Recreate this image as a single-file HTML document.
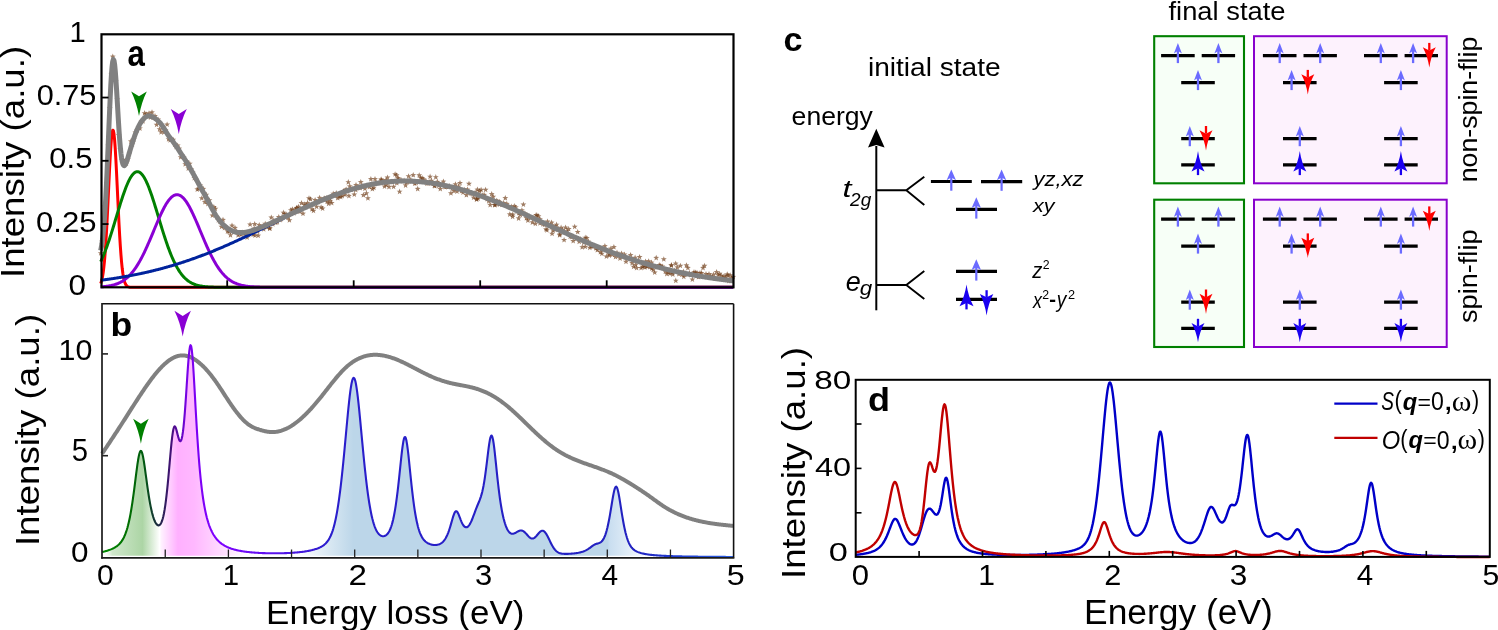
<!DOCTYPE html>
<html><head><meta charset="utf-8"><style>
html,body{margin:0;padding:0;background:#fff;}
svg{display:block;will-change:transform;}
text{font-family:"Liberation Sans",sans-serif;}
</style></head><body>
<svg width="1498" height="630" viewBox="0 0 1498 630">
<rect width="1498" height="630" fill="#fff"/>
<g id="pa">
<g fill="#6e3a14" fill-opacity="0.66">
<path d="M100.7,250.1l0.76,2.05l2.18,0.09l-1.71,1.36l0.59,2.11l-1.82,-1.21l-1.82,1.21l0.59,-2.11l-1.71,-1.36l2.18,-0.09z"/>
<path d="M102.2,237.8l0.76,2.05l2.18,0.09l-1.71,1.36l0.59,2.11l-1.82,-1.21l-1.82,1.21l0.59,-2.11l-1.71,-1.36l2.18,-0.09z"/>
<path d="M103.7,226.8l0.76,2.05l2.18,0.09l-1.71,1.36l0.59,2.11l-1.82,-1.21l-1.82,1.21l0.59,-2.11l-1.71,-1.36l2.18,-0.09z"/>
<path d="M105.2,203.6l0.76,2.05l2.18,0.09l-1.71,1.36l0.59,2.11l-1.82,-1.21l-1.82,1.21l0.59,-2.11l-1.71,-1.36l2.18,-0.09z"/>
<path d="M106.7,180.0l0.76,2.05l2.18,0.09l-1.71,1.36l0.59,2.11l-1.82,-1.21l-1.82,1.21l0.59,-2.11l-1.71,-1.36l2.18,-0.09z"/>
<path d="M108.2,142.6l0.76,2.05l2.18,0.09l-1.71,1.36l0.59,2.11l-1.82,-1.21l-1.82,1.21l0.59,-2.11l-1.71,-1.36l2.18,-0.09z"/>
<path d="M109.8,104.9l0.76,2.05l2.18,0.09l-1.71,1.36l0.59,2.11l-1.82,-1.21l-1.82,1.21l0.59,-2.11l-1.71,-1.36l2.18,-0.09z"/>
<path d="M111.3,70.8l0.76,2.05l2.18,0.09l-1.71,1.36l0.59,2.11l-1.82,-1.21l-1.82,1.21l0.59,-2.11l-1.71,-1.36l2.18,-0.09z"/>
<path d="M112.8,53.5l0.76,2.05l2.18,0.09l-1.71,1.36l0.59,2.11l-1.82,-1.21l-1.82,1.21l0.59,-2.11l-1.71,-1.36l2.18,-0.09z"/>
<path d="M114.3,64.6l0.76,2.05l2.18,0.09l-1.71,1.36l0.59,2.11l-1.82,-1.21l-1.82,1.21l0.59,-2.11l-1.71,-1.36l2.18,-0.09z"/>
<path d="M115.8,78.0l0.76,2.05l2.18,0.09l-1.71,1.36l0.59,2.11l-1.82,-1.21l-1.82,1.21l0.59,-2.11l-1.71,-1.36l2.18,-0.09z"/>
<path d="M117.3,96.4l0.76,2.05l2.18,0.09l-1.71,1.36l0.59,2.11l-1.82,-1.21l-1.82,1.21l0.59,-2.11l-1.71,-1.36l2.18,-0.09z"/>
<path d="M118.8,132.0l0.76,2.05l2.18,0.09l-1.71,1.36l0.59,2.11l-1.82,-1.21l-1.82,1.21l0.59,-2.11l-1.71,-1.36l2.18,-0.09z"/>
<path d="M120.3,146.0l0.76,2.05l2.18,0.09l-1.71,1.36l0.59,2.11l-1.82,-1.21l-1.82,1.21l0.59,-2.11l-1.71,-1.36l2.18,-0.09z"/>
<path d="M121.8,156.8l0.76,2.05l2.18,0.09l-1.71,1.36l0.59,2.11l-1.82,-1.21l-1.82,1.21l0.59,-2.11l-1.71,-1.36l2.18,-0.09z"/>
<path d="M123.3,156.8l0.76,2.05l2.18,0.09l-1.71,1.36l0.59,2.11l-1.82,-1.21l-1.82,1.21l0.59,-2.11l-1.71,-1.36l2.18,-0.09z"/>
<path d="M124.9,159.3l0.76,2.05l2.18,0.09l-1.71,1.36l0.59,2.11l-1.82,-1.21l-1.82,1.21l0.59,-2.11l-1.71,-1.36l2.18,-0.09z"/>
<path d="M126.4,160.5l0.76,2.05l2.18,0.09l-1.71,1.36l0.59,2.11l-1.82,-1.21l-1.82,1.21l0.59,-2.11l-1.71,-1.36l2.18,-0.09z"/>
<path d="M127.9,156.2l0.76,2.05l2.18,0.09l-1.71,1.36l0.59,2.11l-1.82,-1.21l-1.82,1.21l0.59,-2.11l-1.71,-1.36l2.18,-0.09z"/>
<path d="M129.4,150.6l0.76,2.05l2.18,0.09l-1.71,1.36l0.59,2.11l-1.82,-1.21l-1.82,1.21l0.59,-2.11l-1.71,-1.36l2.18,-0.09z"/>
<path d="M130.9,138.3l0.76,2.05l2.18,0.09l-1.71,1.36l0.59,2.11l-1.82,-1.21l-1.82,1.21l0.59,-2.11l-1.71,-1.36l2.18,-0.09z"/>
<path d="M132.4,141.3l0.76,2.05l2.18,0.09l-1.71,1.36l0.59,2.11l-1.82,-1.21l-1.82,1.21l0.59,-2.11l-1.71,-1.36l2.18,-0.09z"/>
<path d="M133.9,136.3l0.76,2.05l2.18,0.09l-1.71,1.36l0.59,2.11l-1.82,-1.21l-1.82,1.21l0.59,-2.11l-1.71,-1.36l2.18,-0.09z"/>
<path d="M135.4,129.4l0.76,2.05l2.18,0.09l-1.71,1.36l0.59,2.11l-1.82,-1.21l-1.82,1.21l0.59,-2.11l-1.71,-1.36l2.18,-0.09z"/>
<path d="M136.9,127.5l0.76,2.05l2.18,0.09l-1.71,1.36l0.59,2.11l-1.82,-1.21l-1.82,1.21l0.59,-2.11l-1.71,-1.36l2.18,-0.09z"/>
<path d="M138.4,124.5l0.76,2.05l2.18,0.09l-1.71,1.36l0.59,2.11l-1.82,-1.21l-1.82,1.21l0.59,-2.11l-1.71,-1.36l2.18,-0.09z"/>
<path d="M139.9,125.3l0.76,2.05l2.18,0.09l-1.71,1.36l0.59,2.11l-1.82,-1.21l-1.82,1.21l0.59,-2.11l-1.71,-1.36l2.18,-0.09z"/>
<path d="M141.5,118.4l0.76,2.05l2.18,0.09l-1.71,1.36l0.59,2.11l-1.82,-1.21l-1.82,1.21l0.59,-2.11l-1.71,-1.36l2.18,-0.09z"/>
<path d="M143.0,118.1l0.76,2.05l2.18,0.09l-1.71,1.36l0.59,2.11l-1.82,-1.21l-1.82,1.21l0.59,-2.11l-1.71,-1.36l2.18,-0.09z"/>
<path d="M144.5,110.1l0.76,2.05l2.18,0.09l-1.71,1.36l0.59,2.11l-1.82,-1.21l-1.82,1.21l0.59,-2.11l-1.71,-1.36l2.18,-0.09z"/>
<path d="M146.0,111.1l0.76,2.05l2.18,0.09l-1.71,1.36l0.59,2.11l-1.82,-1.21l-1.82,1.21l0.59,-2.11l-1.71,-1.36l2.18,-0.09z"/>
<path d="M147.5,113.2l0.76,2.05l2.18,0.09l-1.71,1.36l0.59,2.11l-1.82,-1.21l-1.82,1.21l0.59,-2.11l-1.71,-1.36l2.18,-0.09z"/>
<path d="M149.0,110.2l0.76,2.05l2.18,0.09l-1.71,1.36l0.59,2.11l-1.82,-1.21l-1.82,1.21l0.59,-2.11l-1.71,-1.36l2.18,-0.09z"/>
<path d="M150.5,114.4l0.76,2.05l2.18,0.09l-1.71,1.36l0.59,2.11l-1.82,-1.21l-1.82,1.21l0.59,-2.11l-1.71,-1.36l2.18,-0.09z"/>
<path d="M152.0,109.3l0.76,2.05l2.18,0.09l-1.71,1.36l0.59,2.11l-1.82,-1.21l-1.82,1.21l0.59,-2.11l-1.71,-1.36l2.18,-0.09z"/>
<path d="M153.5,114.3l0.76,2.05l2.18,0.09l-1.71,1.36l0.59,2.11l-1.82,-1.21l-1.82,1.21l0.59,-2.11l-1.71,-1.36l2.18,-0.09z"/>
<path d="M155.0,112.9l0.76,2.05l2.18,0.09l-1.71,1.36l0.59,2.11l-1.82,-1.21l-1.82,1.21l0.59,-2.11l-1.71,-1.36l2.18,-0.09z"/>
<path d="M156.6,121.7l0.76,2.05l2.18,0.09l-1.71,1.36l0.59,2.11l-1.82,-1.21l-1.82,1.21l0.59,-2.11l-1.71,-1.36l2.18,-0.09z"/>
<path d="M158.1,116.4l0.76,2.05l2.18,0.09l-1.71,1.36l0.59,2.11l-1.82,-1.21l-1.82,1.21l0.59,-2.11l-1.71,-1.36l2.18,-0.09z"/>
<path d="M159.6,126.1l0.76,2.05l2.18,0.09l-1.71,1.36l0.59,2.11l-1.82,-1.21l-1.82,1.21l0.59,-2.11l-1.71,-1.36l2.18,-0.09z"/>
<path d="M161.1,129.2l0.76,2.05l2.18,0.09l-1.71,1.36l0.59,2.11l-1.82,-1.21l-1.82,1.21l0.59,-2.11l-1.71,-1.36l2.18,-0.09z"/>
<path d="M162.6,124.3l0.76,2.05l2.18,0.09l-1.71,1.36l0.59,2.11l-1.82,-1.21l-1.82,1.21l0.59,-2.11l-1.71,-1.36l2.18,-0.09z"/>
<path d="M164.1,129.1l0.76,2.05l2.18,0.09l-1.71,1.36l0.59,2.11l-1.82,-1.21l-1.82,1.21l0.59,-2.11l-1.71,-1.36l2.18,-0.09z"/>
<path d="M165.6,127.3l0.76,2.05l2.18,0.09l-1.71,1.36l0.59,2.11l-1.82,-1.21l-1.82,1.21l0.59,-2.11l-1.71,-1.36l2.18,-0.09z"/>
<path d="M167.1,121.4l0.76,2.05l2.18,0.09l-1.71,1.36l0.59,2.11l-1.82,-1.21l-1.82,1.21l0.59,-2.11l-1.71,-1.36l2.18,-0.09z"/>
<path d="M168.6,136.1l0.76,2.05l2.18,0.09l-1.71,1.36l0.59,2.11l-1.82,-1.21l-1.82,1.21l0.59,-2.11l-1.71,-1.36l2.18,-0.09z"/>
<path d="M170.1,137.2l0.76,2.05l2.18,0.09l-1.71,1.36l0.59,2.11l-1.82,-1.21l-1.82,1.21l0.59,-2.11l-1.71,-1.36l2.18,-0.09z"/>
<path d="M171.6,135.9l0.76,2.05l2.18,0.09l-1.71,1.36l0.59,2.11l-1.82,-1.21l-1.82,1.21l0.59,-2.11l-1.71,-1.36l2.18,-0.09z"/>
<path d="M173.2,136.7l0.76,2.05l2.18,0.09l-1.71,1.36l0.59,2.11l-1.82,-1.21l-1.82,1.21l0.59,-2.11l-1.71,-1.36l2.18,-0.09z"/>
<path d="M174.7,141.5l0.76,2.05l2.18,0.09l-1.71,1.36l0.59,2.11l-1.82,-1.21l-1.82,1.21l0.59,-2.11l-1.71,-1.36l2.18,-0.09z"/>
<path d="M176.2,143.9l0.76,2.05l2.18,0.09l-1.71,1.36l0.59,2.11l-1.82,-1.21l-1.82,1.21l0.59,-2.11l-1.71,-1.36l2.18,-0.09z"/>
<path d="M177.7,142.4l0.76,2.05l2.18,0.09l-1.71,1.36l0.59,2.11l-1.82,-1.21l-1.82,1.21l0.59,-2.11l-1.71,-1.36l2.18,-0.09z"/>
<path d="M179.2,145.5l0.76,2.05l2.18,0.09l-1.71,1.36l0.59,2.11l-1.82,-1.21l-1.82,1.21l0.59,-2.11l-1.71,-1.36l2.18,-0.09z"/>
<path d="M180.7,154.1l0.76,2.05l2.18,0.09l-1.71,1.36l0.59,2.11l-1.82,-1.21l-1.82,1.21l0.59,-2.11l-1.71,-1.36l2.18,-0.09z"/>
<path d="M182.2,152.6l0.76,2.05l2.18,0.09l-1.71,1.36l0.59,2.11l-1.82,-1.21l-1.82,1.21l0.59,-2.11l-1.71,-1.36l2.18,-0.09z"/>
<path d="M183.7,154.4l0.76,2.05l2.18,0.09l-1.71,1.36l0.59,2.11l-1.82,-1.21l-1.82,1.21l0.59,-2.11l-1.71,-1.36l2.18,-0.09z"/>
<path d="M185.2,161.1l0.76,2.05l2.18,0.09l-1.71,1.36l0.59,2.11l-1.82,-1.21l-1.82,1.21l0.59,-2.11l-1.71,-1.36l2.18,-0.09z"/>
<path d="M186.7,158.3l0.76,2.05l2.18,0.09l-1.71,1.36l0.59,2.11l-1.82,-1.21l-1.82,1.21l0.59,-2.11l-1.71,-1.36l2.18,-0.09z"/>
<path d="M188.3,165.3l0.76,2.05l2.18,0.09l-1.71,1.36l0.59,2.11l-1.82,-1.21l-1.82,1.21l0.59,-2.11l-1.71,-1.36l2.18,-0.09z"/>
<path d="M189.8,160.6l0.76,2.05l2.18,0.09l-1.71,1.36l0.59,2.11l-1.82,-1.21l-1.82,1.21l0.59,-2.11l-1.71,-1.36l2.18,-0.09z"/>
<path d="M191.3,166.4l0.76,2.05l2.18,0.09l-1.71,1.36l0.59,2.11l-1.82,-1.21l-1.82,1.21l0.59,-2.11l-1.71,-1.36l2.18,-0.09z"/>
<path d="M192.8,169.5l0.76,2.05l2.18,0.09l-1.71,1.36l0.59,2.11l-1.82,-1.21l-1.82,1.21l0.59,-2.11l-1.71,-1.36l2.18,-0.09z"/>
<path d="M194.3,175.0l0.76,2.05l2.18,0.09l-1.71,1.36l0.59,2.11l-1.82,-1.21l-1.82,1.21l0.59,-2.11l-1.71,-1.36l2.18,-0.09z"/>
<path d="M195.8,175.9l0.76,2.05l2.18,0.09l-1.71,1.36l0.59,2.11l-1.82,-1.21l-1.82,1.21l0.59,-2.11l-1.71,-1.36l2.18,-0.09z"/>
<path d="M197.3,186.3l0.76,2.05l2.18,0.09l-1.71,1.36l0.59,2.11l-1.82,-1.21l-1.82,1.21l0.59,-2.11l-1.71,-1.36l2.18,-0.09z"/>
<path d="M198.8,185.6l0.76,2.05l2.18,0.09l-1.71,1.36l0.59,2.11l-1.82,-1.21l-1.82,1.21l0.59,-2.11l-1.71,-1.36l2.18,-0.09z"/>
<path d="M200.3,182.4l0.76,2.05l2.18,0.09l-1.71,1.36l0.59,2.11l-1.82,-1.21l-1.82,1.21l0.59,-2.11l-1.71,-1.36l2.18,-0.09z"/>
<path d="M201.8,195.2l0.76,2.05l2.18,0.09l-1.71,1.36l0.59,2.11l-1.82,-1.21l-1.82,1.21l0.59,-2.11l-1.71,-1.36l2.18,-0.09z"/>
<path d="M203.3,185.8l0.76,2.05l2.18,0.09l-1.71,1.36l0.59,2.11l-1.82,-1.21l-1.82,1.21l0.59,-2.11l-1.71,-1.36l2.18,-0.09z"/>
<path d="M204.9,199.0l0.76,2.05l2.18,0.09l-1.71,1.36l0.59,2.11l-1.82,-1.21l-1.82,1.21l0.59,-2.11l-1.71,-1.36l2.18,-0.09z"/>
<path d="M206.4,191.6l0.76,2.05l2.18,0.09l-1.71,1.36l0.59,2.11l-1.82,-1.21l-1.82,1.21l0.59,-2.11l-1.71,-1.36l2.18,-0.09z"/>
<path d="M207.9,200.9l0.76,2.05l2.18,0.09l-1.71,1.36l0.59,2.11l-1.82,-1.21l-1.82,1.21l0.59,-2.11l-1.71,-1.36l2.18,-0.09z"/>
<path d="M209.4,197.2l0.76,2.05l2.18,0.09l-1.71,1.36l0.59,2.11l-1.82,-1.21l-1.82,1.21l0.59,-2.11l-1.71,-1.36l2.18,-0.09z"/>
<path d="M210.9,202.8l0.76,2.05l2.18,0.09l-1.71,1.36l0.59,2.11l-1.82,-1.21l-1.82,1.21l0.59,-2.11l-1.71,-1.36l2.18,-0.09z"/>
<path d="M212.4,212.4l0.76,2.05l2.18,0.09l-1.71,1.36l0.59,2.11l-1.82,-1.21l-1.82,1.21l0.59,-2.11l-1.71,-1.36l2.18,-0.09z"/>
<path d="M213.9,203.9l0.76,2.05l2.18,0.09l-1.71,1.36l0.59,2.11l-1.82,-1.21l-1.82,1.21l0.59,-2.11l-1.71,-1.36l2.18,-0.09z"/>
<path d="M215.4,205.7l0.76,2.05l2.18,0.09l-1.71,1.36l0.59,2.11l-1.82,-1.21l-1.82,1.21l0.59,-2.11l-1.71,-1.36l2.18,-0.09z"/>
<path d="M216.9,214.2l0.76,2.05l2.18,0.09l-1.71,1.36l0.59,2.11l-1.82,-1.21l-1.82,1.21l0.59,-2.11l-1.71,-1.36l2.18,-0.09z"/>
<path d="M218.4,217.1l0.76,2.05l2.18,0.09l-1.71,1.36l0.59,2.11l-1.82,-1.21l-1.82,1.21l0.59,-2.11l-1.71,-1.36l2.18,-0.09z"/>
<path d="M220.0,218.6l0.76,2.05l2.18,0.09l-1.71,1.36l0.59,2.11l-1.82,-1.21l-1.82,1.21l0.59,-2.11l-1.71,-1.36l2.18,-0.09z"/>
<path d="M221.5,223.7l0.76,2.05l2.18,0.09l-1.71,1.36l0.59,2.11l-1.82,-1.21l-1.82,1.21l0.59,-2.11l-1.71,-1.36l2.18,-0.09z"/>
<path d="M223.0,216.8l0.76,2.05l2.18,0.09l-1.71,1.36l0.59,2.11l-1.82,-1.21l-1.82,1.21l0.59,-2.11l-1.71,-1.36l2.18,-0.09z"/>
<path d="M224.5,224.9l0.76,2.05l2.18,0.09l-1.71,1.36l0.59,2.11l-1.82,-1.21l-1.82,1.21l0.59,-2.11l-1.71,-1.36l2.18,-0.09z"/>
<path d="M226.0,224.2l0.76,2.05l2.18,0.09l-1.71,1.36l0.59,2.11l-1.82,-1.21l-1.82,1.21l0.59,-2.11l-1.71,-1.36l2.18,-0.09z"/>
<path d="M227.5,228.3l0.76,2.05l2.18,0.09l-1.71,1.36l0.59,2.11l-1.82,-1.21l-1.82,1.21l0.59,-2.11l-1.71,-1.36l2.18,-0.09z"/>
<path d="M229.0,228.6l0.76,2.05l2.18,0.09l-1.71,1.36l0.59,2.11l-1.82,-1.21l-1.82,1.21l0.59,-2.11l-1.71,-1.36l2.18,-0.09z"/>
<path d="M230.5,232.1l0.76,2.05l2.18,0.09l-1.71,1.36l0.59,2.11l-1.82,-1.21l-1.82,1.21l0.59,-2.11l-1.71,-1.36l2.18,-0.09z"/>
<path d="M232.0,222.5l0.76,2.05l2.18,0.09l-1.71,1.36l0.59,2.11l-1.82,-1.21l-1.82,1.21l0.59,-2.11l-1.71,-1.36l2.18,-0.09z"/>
<path d="M233.5,228.9l0.76,2.05l2.18,0.09l-1.71,1.36l0.59,2.11l-1.82,-1.21l-1.82,1.21l0.59,-2.11l-1.71,-1.36l2.18,-0.09z"/>
<path d="M235.0,224.8l0.76,2.05l2.18,0.09l-1.71,1.36l0.59,2.11l-1.82,-1.21l-1.82,1.21l0.59,-2.11l-1.71,-1.36l2.18,-0.09z"/>
<path d="M236.6,229.0l0.76,2.05l2.18,0.09l-1.71,1.36l0.59,2.11l-1.82,-1.21l-1.82,1.21l0.59,-2.11l-1.71,-1.36l2.18,-0.09z"/>
<path d="M238.1,232.1l0.76,2.05l2.18,0.09l-1.71,1.36l0.59,2.11l-1.82,-1.21l-1.82,1.21l0.59,-2.11l-1.71,-1.36l2.18,-0.09z"/>
<path d="M239.6,230.7l0.76,2.05l2.18,0.09l-1.71,1.36l0.59,2.11l-1.82,-1.21l-1.82,1.21l0.59,-2.11l-1.71,-1.36l2.18,-0.09z"/>
<path d="M241.1,231.7l0.76,2.05l2.18,0.09l-1.71,1.36l0.59,2.11l-1.82,-1.21l-1.82,1.21l0.59,-2.11l-1.71,-1.36l2.18,-0.09z"/>
<path d="M242.6,229.4l0.76,2.05l2.18,0.09l-1.71,1.36l0.59,2.11l-1.82,-1.21l-1.82,1.21l0.59,-2.11l-1.71,-1.36l2.18,-0.09z"/>
<path d="M244.1,230.8l0.76,2.05l2.18,0.09l-1.71,1.36l0.59,2.11l-1.82,-1.21l-1.82,1.21l0.59,-2.11l-1.71,-1.36l2.18,-0.09z"/>
<path d="M245.6,230.3l0.76,2.05l2.18,0.09l-1.71,1.36l0.59,2.11l-1.82,-1.21l-1.82,1.21l0.59,-2.11l-1.71,-1.36l2.18,-0.09z"/>
<path d="M247.1,234.4l0.76,2.05l2.18,0.09l-1.71,1.36l0.59,2.11l-1.82,-1.21l-1.82,1.21l0.59,-2.11l-1.71,-1.36l2.18,-0.09z"/>
<path d="M248.6,231.8l0.76,2.05l2.18,0.09l-1.71,1.36l0.59,2.11l-1.82,-1.21l-1.82,1.21l0.59,-2.11l-1.71,-1.36l2.18,-0.09z"/>
<path d="M250.1,221.4l0.76,2.05l2.18,0.09l-1.71,1.36l0.59,2.11l-1.82,-1.21l-1.82,1.21l0.59,-2.11l-1.71,-1.36l2.18,-0.09z"/>
<path d="M251.7,230.4l0.76,2.05l2.18,0.09l-1.71,1.36l0.59,2.11l-1.82,-1.21l-1.82,1.21l0.59,-2.11l-1.71,-1.36l2.18,-0.09z"/>
<path d="M253.2,231.5l0.76,2.05l2.18,0.09l-1.71,1.36l0.59,2.11l-1.82,-1.21l-1.82,1.21l0.59,-2.11l-1.71,-1.36l2.18,-0.09z"/>
<path d="M254.3,225.4l0.76,2.05l2.18,0.09l-1.71,1.36l0.59,2.11l-1.82,-1.21l-1.82,1.21l0.59,-2.11l-1.71,-1.36l2.18,-0.09z"/>
<path d="M254.7,221.0l0.76,2.05l2.18,0.09l-1.71,1.36l0.59,2.11l-1.82,-1.21l-1.82,1.21l0.59,-2.11l-1.71,-1.36l2.18,-0.09z"/>
<path d="M255.0,232.4l0.76,2.05l2.18,0.09l-1.71,1.36l0.59,2.11l-1.82,-1.21l-1.82,1.21l0.59,-2.11l-1.71,-1.36l2.18,-0.09z"/>
<path d="M256.2,227.0l0.76,2.05l2.18,0.09l-1.71,1.36l0.59,2.11l-1.82,-1.21l-1.82,1.21l0.59,-2.11l-1.71,-1.36l2.18,-0.09z"/>
<path d="M257.7,228.1l0.76,2.05l2.18,0.09l-1.71,1.36l0.59,2.11l-1.82,-1.21l-1.82,1.21l0.59,-2.11l-1.71,-1.36l2.18,-0.09z"/>
<path d="M258.2,232.5l0.76,2.05l2.18,0.09l-1.71,1.36l0.59,2.11l-1.82,-1.21l-1.82,1.21l0.59,-2.11l-1.71,-1.36l2.18,-0.09z"/>
<path d="M259.2,222.0l0.76,2.05l2.18,0.09l-1.71,1.36l0.59,2.11l-1.82,-1.21l-1.82,1.21l0.59,-2.11l-1.71,-1.36l2.18,-0.09z"/>
<path d="M260.7,224.5l0.76,2.05l2.18,0.09l-1.71,1.36l0.59,2.11l-1.82,-1.21l-1.82,1.21l0.59,-2.11l-1.71,-1.36l2.18,-0.09z"/>
<path d="M262.2,223.5l0.76,2.05l2.18,0.09l-1.71,1.36l0.59,2.11l-1.82,-1.21l-1.82,1.21l0.59,-2.11l-1.71,-1.36l2.18,-0.09z"/>
<path d="M263.7,226.2l0.76,2.05l2.18,0.09l-1.71,1.36l0.59,2.11l-1.82,-1.21l-1.82,1.21l0.59,-2.11l-1.71,-1.36l2.18,-0.09z"/>
<path d="M265.2,220.7l0.76,2.05l2.18,0.09l-1.71,1.36l0.59,2.11l-1.82,-1.21l-1.82,1.21l0.59,-2.11l-1.71,-1.36l2.18,-0.09z"/>
<path d="M266.8,224.0l0.76,2.05l2.18,0.09l-1.71,1.36l0.59,2.11l-1.82,-1.21l-1.82,1.21l0.59,-2.11l-1.71,-1.36l2.18,-0.09z"/>
<path d="M268.3,221.8l0.76,2.05l2.18,0.09l-1.71,1.36l0.59,2.11l-1.82,-1.21l-1.82,1.21l0.59,-2.11l-1.71,-1.36l2.18,-0.09z"/>
<path d="M269.7,225.1l0.76,2.05l2.18,0.09l-1.71,1.36l0.59,2.11l-1.82,-1.21l-1.82,1.21l0.59,-2.11l-1.71,-1.36l2.18,-0.09z"/>
<path d="M269.8,225.5l0.76,2.05l2.18,0.09l-1.71,1.36l0.59,2.11l-1.82,-1.21l-1.82,1.21l0.59,-2.11l-1.71,-1.36l2.18,-0.09z"/>
<path d="M271.3,214.4l0.76,2.05l2.18,0.09l-1.71,1.36l0.59,2.11l-1.82,-1.21l-1.82,1.21l0.59,-2.11l-1.71,-1.36l2.18,-0.09z"/>
<path d="M272.8,221.2l0.76,2.05l2.18,0.09l-1.71,1.36l0.59,2.11l-1.82,-1.21l-1.82,1.21l0.59,-2.11l-1.71,-1.36l2.18,-0.09z"/>
<path d="M273.6,217.6l0.76,2.05l2.18,0.09l-1.71,1.36l0.59,2.11l-1.82,-1.21l-1.82,1.21l0.59,-2.11l-1.71,-1.36l2.18,-0.09z"/>
<path d="M274.3,218.6l0.76,2.05l2.18,0.09l-1.71,1.36l0.59,2.11l-1.82,-1.21l-1.82,1.21l0.59,-2.11l-1.71,-1.36l2.18,-0.09z"/>
<path d="M275.8,219.6l0.76,2.05l2.18,0.09l-1.71,1.36l0.59,2.11l-1.82,-1.21l-1.82,1.21l0.59,-2.11l-1.71,-1.36l2.18,-0.09z"/>
<path d="M277.3,219.2l0.76,2.05l2.18,0.09l-1.71,1.36l0.59,2.11l-1.82,-1.21l-1.82,1.21l0.59,-2.11l-1.71,-1.36l2.18,-0.09z"/>
<path d="M278.8,213.9l0.76,2.05l2.18,0.09l-1.71,1.36l0.59,2.11l-1.82,-1.21l-1.82,1.21l0.59,-2.11l-1.71,-1.36l2.18,-0.09z"/>
<path d="M280.3,216.9l0.76,2.05l2.18,0.09l-1.71,1.36l0.59,2.11l-1.82,-1.21l-1.82,1.21l0.59,-2.11l-1.71,-1.36l2.18,-0.09z"/>
<path d="M281.0,216.0l0.76,2.05l2.18,0.09l-1.71,1.36l0.59,2.11l-1.82,-1.21l-1.82,1.21l0.59,-2.11l-1.71,-1.36l2.18,-0.09z"/>
<path d="M281.8,214.9l0.76,2.05l2.18,0.09l-1.71,1.36l0.59,2.11l-1.82,-1.21l-1.82,1.21l0.59,-2.11l-1.71,-1.36l2.18,-0.09z"/>
<path d="M283.4,209.6l0.76,2.05l2.18,0.09l-1.71,1.36l0.59,2.11l-1.82,-1.21l-1.82,1.21l0.59,-2.11l-1.71,-1.36l2.18,-0.09z"/>
<path d="M284.9,210.9l0.76,2.05l2.18,0.09l-1.71,1.36l0.59,2.11l-1.82,-1.21l-1.82,1.21l0.59,-2.11l-1.71,-1.36l2.18,-0.09z"/>
<path d="M286.4,211.4l0.76,2.05l2.18,0.09l-1.71,1.36l0.59,2.11l-1.82,-1.21l-1.82,1.21l0.59,-2.11l-1.71,-1.36l2.18,-0.09z"/>
<path d="M287.9,214.5l0.76,2.05l2.18,0.09l-1.71,1.36l0.59,2.11l-1.82,-1.21l-1.82,1.21l0.59,-2.11l-1.71,-1.36l2.18,-0.09z"/>
<path d="M289.4,217.2l0.76,2.05l2.18,0.09l-1.71,1.36l0.59,2.11l-1.82,-1.21l-1.82,1.21l0.59,-2.11l-1.71,-1.36l2.18,-0.09z"/>
<path d="M290.9,207.1l0.76,2.05l2.18,0.09l-1.71,1.36l0.59,2.11l-1.82,-1.21l-1.82,1.21l0.59,-2.11l-1.71,-1.36l2.18,-0.09z"/>
<path d="M292.4,206.3l0.76,2.05l2.18,0.09l-1.71,1.36l0.59,2.11l-1.82,-1.21l-1.82,1.21l0.59,-2.11l-1.71,-1.36l2.18,-0.09z"/>
<path d="M293.9,210.1l0.76,2.05l2.18,0.09l-1.71,1.36l0.59,2.11l-1.82,-1.21l-1.82,1.21l0.59,-2.11l-1.71,-1.36l2.18,-0.09z"/>
<path d="M295.4,206.7l0.76,2.05l2.18,0.09l-1.71,1.36l0.59,2.11l-1.82,-1.21l-1.82,1.21l0.59,-2.11l-1.71,-1.36l2.18,-0.09z"/>
<path d="M296.5,205.2l0.76,2.05l2.18,0.09l-1.71,1.36l0.59,2.11l-1.82,-1.21l-1.82,1.21l0.59,-2.11l-1.71,-1.36l2.18,-0.09z"/>
<path d="M296.9,204.8l0.76,2.05l2.18,0.09l-1.71,1.36l0.59,2.11l-1.82,-1.21l-1.82,1.21l0.59,-2.11l-1.71,-1.36l2.18,-0.09z"/>
<path d="M298.5,203.8l0.76,2.05l2.18,0.09l-1.71,1.36l0.59,2.11l-1.82,-1.21l-1.82,1.21l0.59,-2.11l-1.71,-1.36l2.18,-0.09z"/>
<path d="M300.0,208.7l0.76,2.05l2.18,0.09l-1.71,1.36l0.59,2.11l-1.82,-1.21l-1.82,1.21l0.59,-2.11l-1.71,-1.36l2.18,-0.09z"/>
<path d="M301.5,200.0l0.76,2.05l2.18,0.09l-1.71,1.36l0.59,2.11l-1.82,-1.21l-1.82,1.21l0.59,-2.11l-1.71,-1.36l2.18,-0.09z"/>
<path d="M303.0,210.5l0.76,2.05l2.18,0.09l-1.71,1.36l0.59,2.11l-1.82,-1.21l-1.82,1.21l0.59,-2.11l-1.71,-1.36l2.18,-0.09z"/>
<path d="M304.5,201.3l0.76,2.05l2.18,0.09l-1.71,1.36l0.59,2.11l-1.82,-1.21l-1.82,1.21l0.59,-2.11l-1.71,-1.36l2.18,-0.09z"/>
<path d="M306.0,202.2l0.76,2.05l2.18,0.09l-1.71,1.36l0.59,2.11l-1.82,-1.21l-1.82,1.21l0.59,-2.11l-1.71,-1.36l2.18,-0.09z"/>
<path d="M307.5,199.9l0.76,2.05l2.18,0.09l-1.71,1.36l0.59,2.11l-1.82,-1.21l-1.82,1.21l0.59,-2.11l-1.71,-1.36l2.18,-0.09z"/>
<path d="M309.0,195.2l0.76,2.05l2.18,0.09l-1.71,1.36l0.59,2.11l-1.82,-1.21l-1.82,1.21l0.59,-2.11l-1.71,-1.36l2.18,-0.09z"/>
<path d="M310.5,196.1l0.76,2.05l2.18,0.09l-1.71,1.36l0.59,2.11l-1.82,-1.21l-1.82,1.21l0.59,-2.11l-1.71,-1.36l2.18,-0.09z"/>
<path d="M312.0,206.1l0.76,2.05l2.18,0.09l-1.71,1.36l0.59,2.11l-1.82,-1.21l-1.82,1.21l0.59,-2.11l-1.71,-1.36l2.18,-0.09z"/>
<path d="M313.5,207.7l0.76,2.05l2.18,0.09l-1.71,1.36l0.59,2.11l-1.82,-1.21l-1.82,1.21l0.59,-2.11l-1.71,-1.36l2.18,-0.09z"/>
<path d="M315.1,196.9l0.76,2.05l2.18,0.09l-1.71,1.36l0.59,2.11l-1.82,-1.21l-1.82,1.21l0.59,-2.11l-1.71,-1.36l2.18,-0.09z"/>
<path d="M316.6,203.6l0.76,2.05l2.18,0.09l-1.71,1.36l0.59,2.11l-1.82,-1.21l-1.82,1.21l0.59,-2.11l-1.71,-1.36l2.18,-0.09z"/>
<path d="M318.1,198.9l0.76,2.05l2.18,0.09l-1.71,1.36l0.59,2.11l-1.82,-1.21l-1.82,1.21l0.59,-2.11l-1.71,-1.36l2.18,-0.09z"/>
<path d="M319.6,194.8l0.76,2.05l2.18,0.09l-1.71,1.36l0.59,2.11l-1.82,-1.21l-1.82,1.21l0.59,-2.11l-1.71,-1.36l2.18,-0.09z"/>
<path d="M321.1,204.2l0.76,2.05l2.18,0.09l-1.71,1.36l0.59,2.11l-1.82,-1.21l-1.82,1.21l0.59,-2.11l-1.71,-1.36l2.18,-0.09z"/>
<path d="M322.6,205.4l0.76,2.05l2.18,0.09l-1.71,1.36l0.59,2.11l-1.82,-1.21l-1.82,1.21l0.59,-2.11l-1.71,-1.36l2.18,-0.09z"/>
<path d="M324.1,195.2l0.76,2.05l2.18,0.09l-1.71,1.36l0.59,2.11l-1.82,-1.21l-1.82,1.21l0.59,-2.11l-1.71,-1.36l2.18,-0.09z"/>
<path d="M324.7,195.8l0.76,2.05l2.18,0.09l-1.71,1.36l0.59,2.11l-1.82,-1.21l-1.82,1.21l0.59,-2.11l-1.71,-1.36l2.18,-0.09z"/>
<path d="M325.6,196.6l0.76,2.05l2.18,0.09l-1.71,1.36l0.59,2.11l-1.82,-1.21l-1.82,1.21l0.59,-2.11l-1.71,-1.36l2.18,-0.09z"/>
<path d="M326.7,195.0l0.76,2.05l2.18,0.09l-1.71,1.36l0.59,2.11l-1.82,-1.21l-1.82,1.21l0.59,-2.11l-1.71,-1.36l2.18,-0.09z"/>
<path d="M327.1,198.5l0.76,2.05l2.18,0.09l-1.71,1.36l0.59,2.11l-1.82,-1.21l-1.82,1.21l0.59,-2.11l-1.71,-1.36l2.18,-0.09z"/>
<path d="M328.6,200.6l0.76,2.05l2.18,0.09l-1.71,1.36l0.59,2.11l-1.82,-1.21l-1.82,1.21l0.59,-2.11l-1.71,-1.36l2.18,-0.09z"/>
<path d="M329.5,194.8l0.76,2.05l2.18,0.09l-1.71,1.36l0.59,2.11l-1.82,-1.21l-1.82,1.21l0.59,-2.11l-1.71,-1.36l2.18,-0.09z"/>
<path d="M330.2,197.8l0.76,2.05l2.18,0.09l-1.71,1.36l0.59,2.11l-1.82,-1.21l-1.82,1.21l0.59,-2.11l-1.71,-1.36l2.18,-0.09z"/>
<path d="M331.7,199.9l0.76,2.05l2.18,0.09l-1.71,1.36l0.59,2.11l-1.82,-1.21l-1.82,1.21l0.59,-2.11l-1.71,-1.36l2.18,-0.09z"/>
<path d="M333.2,190.6l0.76,2.05l2.18,0.09l-1.71,1.36l0.59,2.11l-1.82,-1.21l-1.82,1.21l0.59,-2.11l-1.71,-1.36l2.18,-0.09z"/>
<path d="M334.7,192.3l0.76,2.05l2.18,0.09l-1.71,1.36l0.59,2.11l-1.82,-1.21l-1.82,1.21l0.59,-2.11l-1.71,-1.36l2.18,-0.09z"/>
<path d="M336.2,189.9l0.76,2.05l2.18,0.09l-1.71,1.36l0.59,2.11l-1.82,-1.21l-1.82,1.21l0.59,-2.11l-1.71,-1.36l2.18,-0.09z"/>
<path d="M337.7,195.0l0.76,2.05l2.18,0.09l-1.71,1.36l0.59,2.11l-1.82,-1.21l-1.82,1.21l0.59,-2.11l-1.71,-1.36l2.18,-0.09z"/>
<path d="M339.2,193.1l0.76,2.05l2.18,0.09l-1.71,1.36l0.59,2.11l-1.82,-1.21l-1.82,1.21l0.59,-2.11l-1.71,-1.36l2.18,-0.09z"/>
<path d="M340.7,193.9l0.76,2.05l2.18,0.09l-1.71,1.36l0.59,2.11l-1.82,-1.21l-1.82,1.21l0.59,-2.11l-1.71,-1.36l2.18,-0.09z"/>
<path d="M342.2,192.9l0.76,2.05l2.18,0.09l-1.71,1.36l0.59,2.11l-1.82,-1.21l-1.82,1.21l0.59,-2.11l-1.71,-1.36l2.18,-0.09z"/>
<path d="M343.7,188.0l0.76,2.05l2.18,0.09l-1.71,1.36l0.59,2.11l-1.82,-1.21l-1.82,1.21l0.59,-2.11l-1.71,-1.36l2.18,-0.09z"/>
<path d="M345.0,191.6l0.76,2.05l2.18,0.09l-1.71,1.36l0.59,2.11l-1.82,-1.21l-1.82,1.21l0.59,-2.11l-1.71,-1.36l2.18,-0.09z"/>
<path d="M345.2,186.9l0.76,2.05l2.18,0.09l-1.71,1.36l0.59,2.11l-1.82,-1.21l-1.82,1.21l0.59,-2.11l-1.71,-1.36l2.18,-0.09z"/>
<path d="M346.8,186.4l0.76,2.05l2.18,0.09l-1.71,1.36l0.59,2.11l-1.82,-1.21l-1.82,1.21l0.59,-2.11l-1.71,-1.36l2.18,-0.09z"/>
<path d="M348.3,179.1l0.76,2.05l2.18,0.09l-1.71,1.36l0.59,2.11l-1.82,-1.21l-1.82,1.21l0.59,-2.11l-1.71,-1.36l2.18,-0.09z"/>
<path d="M348.9,192.8l0.76,2.05l2.18,0.09l-1.71,1.36l0.59,2.11l-1.82,-1.21l-1.82,1.21l0.59,-2.11l-1.71,-1.36l2.18,-0.09z"/>
<path d="M349.8,183.3l0.76,2.05l2.18,0.09l-1.71,1.36l0.59,2.11l-1.82,-1.21l-1.82,1.21l0.59,-2.11l-1.71,-1.36l2.18,-0.09z"/>
<path d="M351.3,186.7l0.76,2.05l2.18,0.09l-1.71,1.36l0.59,2.11l-1.82,-1.21l-1.82,1.21l0.59,-2.11l-1.71,-1.36l2.18,-0.09z"/>
<path d="M352.8,186.0l0.76,2.05l2.18,0.09l-1.71,1.36l0.59,2.11l-1.82,-1.21l-1.82,1.21l0.59,-2.11l-1.71,-1.36l2.18,-0.09z"/>
<path d="M354.3,191.4l0.76,2.05l2.18,0.09l-1.71,1.36l0.59,2.11l-1.82,-1.21l-1.82,1.21l0.59,-2.11l-1.71,-1.36l2.18,-0.09z"/>
<path d="M355.8,186.9l0.76,2.05l2.18,0.09l-1.71,1.36l0.59,2.11l-1.82,-1.21l-1.82,1.21l0.59,-2.11l-1.71,-1.36l2.18,-0.09z"/>
<path d="M356.0,182.0l0.76,2.05l2.18,0.09l-1.71,1.36l0.59,2.11l-1.82,-1.21l-1.82,1.21l0.59,-2.11l-1.71,-1.36l2.18,-0.09z"/>
<path d="M357.3,185.0l0.76,2.05l2.18,0.09l-1.71,1.36l0.59,2.11l-1.82,-1.21l-1.82,1.21l0.59,-2.11l-1.71,-1.36l2.18,-0.09z"/>
<path d="M358.8,183.9l0.76,2.05l2.18,0.09l-1.71,1.36l0.59,2.11l-1.82,-1.21l-1.82,1.21l0.59,-2.11l-1.71,-1.36l2.18,-0.09z"/>
<path d="M360.3,185.0l0.76,2.05l2.18,0.09l-1.71,1.36l0.59,2.11l-1.82,-1.21l-1.82,1.21l0.59,-2.11l-1.71,-1.36l2.18,-0.09z"/>
<path d="M360.8,179.0l0.76,2.05l2.18,0.09l-1.71,1.36l0.59,2.11l-1.82,-1.21l-1.82,1.21l0.59,-2.11l-1.71,-1.36l2.18,-0.09z"/>
<path d="M361.9,183.5l0.76,2.05l2.18,0.09l-1.71,1.36l0.59,2.11l-1.82,-1.21l-1.82,1.21l0.59,-2.11l-1.71,-1.36l2.18,-0.09z"/>
<path d="M363.4,192.0l0.76,2.05l2.18,0.09l-1.71,1.36l0.59,2.11l-1.82,-1.21l-1.82,1.21l0.59,-2.11l-1.71,-1.36l2.18,-0.09z"/>
<path d="M364.9,185.5l0.76,2.05l2.18,0.09l-1.71,1.36l0.59,2.11l-1.82,-1.21l-1.82,1.21l0.59,-2.11l-1.71,-1.36l2.18,-0.09z"/>
<path d="M366.4,190.3l0.76,2.05l2.18,0.09l-1.71,1.36l0.59,2.11l-1.82,-1.21l-1.82,1.21l0.59,-2.11l-1.71,-1.36l2.18,-0.09z"/>
<path d="M367.9,195.2l0.76,2.05l2.18,0.09l-1.71,1.36l0.59,2.11l-1.82,-1.21l-1.82,1.21l0.59,-2.11l-1.71,-1.36l2.18,-0.09z"/>
<path d="M369.4,183.8l0.76,2.05l2.18,0.09l-1.71,1.36l0.59,2.11l-1.82,-1.21l-1.82,1.21l0.59,-2.11l-1.71,-1.36l2.18,-0.09z"/>
<path d="M370.9,176.0l0.76,2.05l2.18,0.09l-1.71,1.36l0.59,2.11l-1.82,-1.21l-1.82,1.21l0.59,-2.11l-1.71,-1.36l2.18,-0.09z"/>
<path d="M371.5,181.1l0.76,2.05l2.18,0.09l-1.71,1.36l0.59,2.11l-1.82,-1.21l-1.82,1.21l0.59,-2.11l-1.71,-1.36l2.18,-0.09z"/>
<path d="M372.4,185.8l0.76,2.05l2.18,0.09l-1.71,1.36l0.59,2.11l-1.82,-1.21l-1.82,1.21l0.59,-2.11l-1.71,-1.36l2.18,-0.09z"/>
<path d="M373.9,184.6l0.76,2.05l2.18,0.09l-1.71,1.36l0.59,2.11l-1.82,-1.21l-1.82,1.21l0.59,-2.11l-1.71,-1.36l2.18,-0.09z"/>
<path d="M375.0,176.0l0.76,2.05l2.18,0.09l-1.71,1.36l0.59,2.11l-1.82,-1.21l-1.82,1.21l0.59,-2.11l-1.71,-1.36l2.18,-0.09z"/>
<path d="M375.4,179.9l0.76,2.05l2.18,0.09l-1.71,1.36l0.59,2.11l-1.82,-1.21l-1.82,1.21l0.59,-2.11l-1.71,-1.36l2.18,-0.09z"/>
<path d="M376.9,180.1l0.76,2.05l2.18,0.09l-1.71,1.36l0.59,2.11l-1.82,-1.21l-1.82,1.21l0.59,-2.11l-1.71,-1.36l2.18,-0.09z"/>
<path d="M378.5,180.2l0.76,2.05l2.18,0.09l-1.71,1.36l0.59,2.11l-1.82,-1.21l-1.82,1.21l0.59,-2.11l-1.71,-1.36l2.18,-0.09z"/>
<path d="M380.0,179.6l0.76,2.05l2.18,0.09l-1.71,1.36l0.59,2.11l-1.82,-1.21l-1.82,1.21l0.59,-2.11l-1.71,-1.36l2.18,-0.09z"/>
<path d="M381.1,176.3l0.76,2.05l2.18,0.09l-1.71,1.36l0.59,2.11l-1.82,-1.21l-1.82,1.21l0.59,-2.11l-1.71,-1.36l2.18,-0.09z"/>
<path d="M381.5,177.3l0.76,2.05l2.18,0.09l-1.71,1.36l0.59,2.11l-1.82,-1.21l-1.82,1.21l0.59,-2.11l-1.71,-1.36l2.18,-0.09z"/>
<path d="M383.0,178.5l0.76,2.05l2.18,0.09l-1.71,1.36l0.59,2.11l-1.82,-1.21l-1.82,1.21l0.59,-2.11l-1.71,-1.36l2.18,-0.09z"/>
<path d="M384.5,183.4l0.76,2.05l2.18,0.09l-1.71,1.36l0.59,2.11l-1.82,-1.21l-1.82,1.21l0.59,-2.11l-1.71,-1.36l2.18,-0.09z"/>
<path d="M386.0,176.9l0.76,2.05l2.18,0.09l-1.71,1.36l0.59,2.11l-1.82,-1.21l-1.82,1.21l0.59,-2.11l-1.71,-1.36l2.18,-0.09z"/>
<path d="M386.3,181.7l0.76,2.05l2.18,0.09l-1.71,1.36l0.59,2.11l-1.82,-1.21l-1.82,1.21l0.59,-2.11l-1.71,-1.36l2.18,-0.09z"/>
<path d="M387.5,174.4l0.76,2.05l2.18,0.09l-1.71,1.36l0.59,2.11l-1.82,-1.21l-1.82,1.21l0.59,-2.11l-1.71,-1.36l2.18,-0.09z"/>
<path d="M389.0,183.8l0.76,2.05l2.18,0.09l-1.71,1.36l0.59,2.11l-1.82,-1.21l-1.82,1.21l0.59,-2.11l-1.71,-1.36l2.18,-0.09z"/>
<path d="M390.5,179.1l0.76,2.05l2.18,0.09l-1.71,1.36l0.59,2.11l-1.82,-1.21l-1.82,1.21l0.59,-2.11l-1.71,-1.36l2.18,-0.09z"/>
<path d="M392.0,178.4l0.76,2.05l2.18,0.09l-1.71,1.36l0.59,2.11l-1.82,-1.21l-1.82,1.21l0.59,-2.11l-1.71,-1.36l2.18,-0.09z"/>
<path d="M393.6,183.7l0.76,2.05l2.18,0.09l-1.71,1.36l0.59,2.11l-1.82,-1.21l-1.82,1.21l0.59,-2.11l-1.71,-1.36l2.18,-0.09z"/>
<path d="M395.1,171.2l0.76,2.05l2.18,0.09l-1.71,1.36l0.59,2.11l-1.82,-1.21l-1.82,1.21l0.59,-2.11l-1.71,-1.36l2.18,-0.09z"/>
<path d="M396.6,172.2l0.76,2.05l2.18,0.09l-1.71,1.36l0.59,2.11l-1.82,-1.21l-1.82,1.21l0.59,-2.11l-1.71,-1.36l2.18,-0.09z"/>
<path d="M396.8,180.0l0.76,2.05l2.18,0.09l-1.71,1.36l0.59,2.11l-1.82,-1.21l-1.82,1.21l0.59,-2.11l-1.71,-1.36l2.18,-0.09z"/>
<path d="M398.1,174.9l0.76,2.05l2.18,0.09l-1.71,1.36l0.59,2.11l-1.82,-1.21l-1.82,1.21l0.59,-2.11l-1.71,-1.36l2.18,-0.09z"/>
<path d="M398.2,176.5l0.76,2.05l2.18,0.09l-1.71,1.36l0.59,2.11l-1.82,-1.21l-1.82,1.21l0.59,-2.11l-1.71,-1.36l2.18,-0.09z"/>
<path d="M399.6,188.6l0.76,2.05l2.18,0.09l-1.71,1.36l0.59,2.11l-1.82,-1.21l-1.82,1.21l0.59,-2.11l-1.71,-1.36l2.18,-0.09z"/>
<path d="M401.1,177.0l0.76,2.05l2.18,0.09l-1.71,1.36l0.59,2.11l-1.82,-1.21l-1.82,1.21l0.59,-2.11l-1.71,-1.36l2.18,-0.09z"/>
<path d="M402.6,178.2l0.76,2.05l2.18,0.09l-1.71,1.36l0.59,2.11l-1.82,-1.21l-1.82,1.21l0.59,-2.11l-1.71,-1.36l2.18,-0.09z"/>
<path d="M404.1,177.6l0.76,2.05l2.18,0.09l-1.71,1.36l0.59,2.11l-1.82,-1.21l-1.82,1.21l0.59,-2.11l-1.71,-1.36l2.18,-0.09z"/>
<path d="M405.6,182.3l0.76,2.05l2.18,0.09l-1.71,1.36l0.59,2.11l-1.82,-1.21l-1.82,1.21l0.59,-2.11l-1.71,-1.36l2.18,-0.09z"/>
<path d="M407.1,179.1l0.76,2.05l2.18,0.09l-1.71,1.36l0.59,2.11l-1.82,-1.21l-1.82,1.21l0.59,-2.11l-1.71,-1.36l2.18,-0.09z"/>
<path d="M407.8,178.7l0.76,2.05l2.18,0.09l-1.71,1.36l0.59,2.11l-1.82,-1.21l-1.82,1.21l0.59,-2.11l-1.71,-1.36l2.18,-0.09z"/>
<path d="M408.6,173.2l0.76,2.05l2.18,0.09l-1.71,1.36l0.59,2.11l-1.82,-1.21l-1.82,1.21l0.59,-2.11l-1.71,-1.36l2.18,-0.09z"/>
<path d="M410.2,176.7l0.76,2.05l2.18,0.09l-1.71,1.36l0.59,2.11l-1.82,-1.21l-1.82,1.21l0.59,-2.11l-1.71,-1.36l2.18,-0.09z"/>
<path d="M411.7,178.1l0.76,2.05l2.18,0.09l-1.71,1.36l0.59,2.11l-1.82,-1.21l-1.82,1.21l0.59,-2.11l-1.71,-1.36l2.18,-0.09z"/>
<path d="M413.2,172.0l0.76,2.05l2.18,0.09l-1.71,1.36l0.59,2.11l-1.82,-1.21l-1.82,1.21l0.59,-2.11l-1.71,-1.36l2.18,-0.09z"/>
<path d="M414.7,180.5l0.76,2.05l2.18,0.09l-1.71,1.36l0.59,2.11l-1.82,-1.21l-1.82,1.21l0.59,-2.11l-1.71,-1.36l2.18,-0.09z"/>
<path d="M416.2,179.9l0.76,2.05l2.18,0.09l-1.71,1.36l0.59,2.11l-1.82,-1.21l-1.82,1.21l0.59,-2.11l-1.71,-1.36l2.18,-0.09z"/>
<path d="M417.7,185.8l0.76,2.05l2.18,0.09l-1.71,1.36l0.59,2.11l-1.82,-1.21l-1.82,1.21l0.59,-2.11l-1.71,-1.36l2.18,-0.09z"/>
<path d="M419.2,172.2l0.76,2.05l2.18,0.09l-1.71,1.36l0.59,2.11l-1.82,-1.21l-1.82,1.21l0.59,-2.11l-1.71,-1.36l2.18,-0.09z"/>
<path d="M420.7,174.8l0.76,2.05l2.18,0.09l-1.71,1.36l0.59,2.11l-1.82,-1.21l-1.82,1.21l0.59,-2.11l-1.71,-1.36l2.18,-0.09z"/>
<path d="M422.2,175.1l0.76,2.05l2.18,0.09l-1.71,1.36l0.59,2.11l-1.82,-1.21l-1.82,1.21l0.59,-2.11l-1.71,-1.36l2.18,-0.09z"/>
<path d="M423.7,176.3l0.76,2.05l2.18,0.09l-1.71,1.36l0.59,2.11l-1.82,-1.21l-1.82,1.21l0.59,-2.11l-1.71,-1.36l2.18,-0.09z"/>
<path d="M425.3,178.7l0.76,2.05l2.18,0.09l-1.71,1.36l0.59,2.11l-1.82,-1.21l-1.82,1.21l0.59,-2.11l-1.71,-1.36l2.18,-0.09z"/>
<path d="M426.2,178.4l0.76,2.05l2.18,0.09l-1.71,1.36l0.59,2.11l-1.82,-1.21l-1.82,1.21l0.59,-2.11l-1.71,-1.36l2.18,-0.09z"/>
<path d="M426.8,180.3l0.76,2.05l2.18,0.09l-1.71,1.36l0.59,2.11l-1.82,-1.21l-1.82,1.21l0.59,-2.11l-1.71,-1.36l2.18,-0.09z"/>
<path d="M428.3,180.3l0.76,2.05l2.18,0.09l-1.71,1.36l0.59,2.11l-1.82,-1.21l-1.82,1.21l0.59,-2.11l-1.71,-1.36l2.18,-0.09z"/>
<path d="M429.8,179.5l0.76,2.05l2.18,0.09l-1.71,1.36l0.59,2.11l-1.82,-1.21l-1.82,1.21l0.59,-2.11l-1.71,-1.36l2.18,-0.09z"/>
<path d="M430.1,173.6l0.76,2.05l2.18,0.09l-1.71,1.36l0.59,2.11l-1.82,-1.21l-1.82,1.21l0.59,-2.11l-1.71,-1.36l2.18,-0.09z"/>
<path d="M431.3,177.7l0.76,2.05l2.18,0.09l-1.71,1.36l0.59,2.11l-1.82,-1.21l-1.82,1.21l0.59,-2.11l-1.71,-1.36l2.18,-0.09z"/>
<path d="M432.8,180.4l0.76,2.05l2.18,0.09l-1.71,1.36l0.59,2.11l-1.82,-1.21l-1.82,1.21l0.59,-2.11l-1.71,-1.36l2.18,-0.09z"/>
<path d="M434.3,182.7l0.76,2.05l2.18,0.09l-1.71,1.36l0.59,2.11l-1.82,-1.21l-1.82,1.21l0.59,-2.11l-1.71,-1.36l2.18,-0.09z"/>
<path d="M434.9,183.0l0.76,2.05l2.18,0.09l-1.71,1.36l0.59,2.11l-1.82,-1.21l-1.82,1.21l0.59,-2.11l-1.71,-1.36l2.18,-0.09z"/>
<path d="M435.8,174.1l0.76,2.05l2.18,0.09l-1.71,1.36l0.59,2.11l-1.82,-1.21l-1.82,1.21l0.59,-2.11l-1.71,-1.36l2.18,-0.09z"/>
<path d="M437.3,178.8l0.76,2.05l2.18,0.09l-1.71,1.36l0.59,2.11l-1.82,-1.21l-1.82,1.21l0.59,-2.11l-1.71,-1.36l2.18,-0.09z"/>
<path d="M438.8,180.9l0.76,2.05l2.18,0.09l-1.71,1.36l0.59,2.11l-1.82,-1.21l-1.82,1.21l0.59,-2.11l-1.71,-1.36l2.18,-0.09z"/>
<path d="M438.8,182.6l0.76,2.05l2.18,0.09l-1.71,1.36l0.59,2.11l-1.82,-1.21l-1.82,1.21l0.59,-2.11l-1.71,-1.36l2.18,-0.09z"/>
<path d="M440.3,185.9l0.76,2.05l2.18,0.09l-1.71,1.36l0.59,2.11l-1.82,-1.21l-1.82,1.21l0.59,-2.11l-1.71,-1.36l2.18,-0.09z"/>
<path d="M441.9,182.0l0.76,2.05l2.18,0.09l-1.71,1.36l0.59,2.11l-1.82,-1.21l-1.82,1.21l0.59,-2.11l-1.71,-1.36l2.18,-0.09z"/>
<path d="M443.4,178.5l0.76,2.05l2.18,0.09l-1.71,1.36l0.59,2.11l-1.82,-1.21l-1.82,1.21l0.59,-2.11l-1.71,-1.36l2.18,-0.09z"/>
<path d="M444.9,184.0l0.76,2.05l2.18,0.09l-1.71,1.36l0.59,2.11l-1.82,-1.21l-1.82,1.21l0.59,-2.11l-1.71,-1.36l2.18,-0.09z"/>
<path d="M446.4,183.6l0.76,2.05l2.18,0.09l-1.71,1.36l0.59,2.11l-1.82,-1.21l-1.82,1.21l0.59,-2.11l-1.71,-1.36l2.18,-0.09z"/>
<path d="M447.9,183.9l0.76,2.05l2.18,0.09l-1.71,1.36l0.59,2.11l-1.82,-1.21l-1.82,1.21l0.59,-2.11l-1.71,-1.36l2.18,-0.09z"/>
<path d="M449.4,182.9l0.76,2.05l2.18,0.09l-1.71,1.36l0.59,2.11l-1.82,-1.21l-1.82,1.21l0.59,-2.11l-1.71,-1.36l2.18,-0.09z"/>
<path d="M450.9,190.2l0.76,2.05l2.18,0.09l-1.71,1.36l0.59,2.11l-1.82,-1.21l-1.82,1.21l0.59,-2.11l-1.71,-1.36l2.18,-0.09z"/>
<path d="M452.4,185.1l0.76,2.05l2.18,0.09l-1.71,1.36l0.59,2.11l-1.82,-1.21l-1.82,1.21l0.59,-2.11l-1.71,-1.36l2.18,-0.09z"/>
<path d="M453.9,187.9l0.76,2.05l2.18,0.09l-1.71,1.36l0.59,2.11l-1.82,-1.21l-1.82,1.21l0.59,-2.11l-1.71,-1.36l2.18,-0.09z"/>
<path d="M455.4,181.3l0.76,2.05l2.18,0.09l-1.71,1.36l0.59,2.11l-1.82,-1.21l-1.82,1.21l0.59,-2.11l-1.71,-1.36l2.18,-0.09z"/>
<path d="M457.0,188.4l0.76,2.05l2.18,0.09l-1.71,1.36l0.59,2.11l-1.82,-1.21l-1.82,1.21l0.59,-2.11l-1.71,-1.36l2.18,-0.09z"/>
<path d="M458.5,183.4l0.76,2.05l2.18,0.09l-1.71,1.36l0.59,2.11l-1.82,-1.21l-1.82,1.21l0.59,-2.11l-1.71,-1.36l2.18,-0.09z"/>
<path d="M460.0,179.9l0.76,2.05l2.18,0.09l-1.71,1.36l0.59,2.11l-1.82,-1.21l-1.82,1.21l0.59,-2.11l-1.71,-1.36l2.18,-0.09z"/>
<path d="M461.5,187.8l0.76,2.05l2.18,0.09l-1.71,1.36l0.59,2.11l-1.82,-1.21l-1.82,1.21l0.59,-2.11l-1.71,-1.36l2.18,-0.09z"/>
<path d="M463.0,189.4l0.76,2.05l2.18,0.09l-1.71,1.36l0.59,2.11l-1.82,-1.21l-1.82,1.21l0.59,-2.11l-1.71,-1.36l2.18,-0.09z"/>
<path d="M464.5,186.7l0.76,2.05l2.18,0.09l-1.71,1.36l0.59,2.11l-1.82,-1.21l-1.82,1.21l0.59,-2.11l-1.71,-1.36l2.18,-0.09z"/>
<path d="M466.0,187.9l0.76,2.05l2.18,0.09l-1.71,1.36l0.59,2.11l-1.82,-1.21l-1.82,1.21l0.59,-2.11l-1.71,-1.36l2.18,-0.09z"/>
<path d="M466.4,192.0l0.76,2.05l2.18,0.09l-1.71,1.36l0.59,2.11l-1.82,-1.21l-1.82,1.21l0.59,-2.11l-1.71,-1.36l2.18,-0.09z"/>
<path d="M467.5,186.5l0.76,2.05l2.18,0.09l-1.71,1.36l0.59,2.11l-1.82,-1.21l-1.82,1.21l0.59,-2.11l-1.71,-1.36l2.18,-0.09z"/>
<path d="M469.0,180.7l0.76,2.05l2.18,0.09l-1.71,1.36l0.59,2.11l-1.82,-1.21l-1.82,1.21l0.59,-2.11l-1.71,-1.36l2.18,-0.09z"/>
<path d="M470.5,190.4l0.76,2.05l2.18,0.09l-1.71,1.36l0.59,2.11l-1.82,-1.21l-1.82,1.21l0.59,-2.11l-1.71,-1.36l2.18,-0.09z"/>
<path d="M472.0,190.6l0.76,2.05l2.18,0.09l-1.71,1.36l0.59,2.11l-1.82,-1.21l-1.82,1.21l0.59,-2.11l-1.71,-1.36l2.18,-0.09z"/>
<path d="M473.6,194.5l0.76,2.05l2.18,0.09l-1.71,1.36l0.59,2.11l-1.82,-1.21l-1.82,1.21l0.59,-2.11l-1.71,-1.36l2.18,-0.09z"/>
<path d="M475.1,189.5l0.76,2.05l2.18,0.09l-1.71,1.36l0.59,2.11l-1.82,-1.21l-1.82,1.21l0.59,-2.11l-1.71,-1.36l2.18,-0.09z"/>
<path d="M476.6,196.4l0.76,2.05l2.18,0.09l-1.71,1.36l0.59,2.11l-1.82,-1.21l-1.82,1.21l0.59,-2.11l-1.71,-1.36l2.18,-0.09z"/>
<path d="M476.6,195.8l0.76,2.05l2.18,0.09l-1.71,1.36l0.59,2.11l-1.82,-1.21l-1.82,1.21l0.59,-2.11l-1.71,-1.36l2.18,-0.09z"/>
<path d="M477.4,186.5l0.76,2.05l2.18,0.09l-1.71,1.36l0.59,2.11l-1.82,-1.21l-1.82,1.21l0.59,-2.11l-1.71,-1.36l2.18,-0.09z"/>
<path d="M478.1,195.5l0.76,2.05l2.18,0.09l-1.71,1.36l0.59,2.11l-1.82,-1.21l-1.82,1.21l0.59,-2.11l-1.71,-1.36l2.18,-0.09z"/>
<path d="M479.6,188.0l0.76,2.05l2.18,0.09l-1.71,1.36l0.59,2.11l-1.82,-1.21l-1.82,1.21l0.59,-2.11l-1.71,-1.36l2.18,-0.09z"/>
<path d="M481.1,186.8l0.76,2.05l2.18,0.09l-1.71,1.36l0.59,2.11l-1.82,-1.21l-1.82,1.21l0.59,-2.11l-1.71,-1.36l2.18,-0.09z"/>
<path d="M482.6,192.5l0.76,2.05l2.18,0.09l-1.71,1.36l0.59,2.11l-1.82,-1.21l-1.82,1.21l0.59,-2.11l-1.71,-1.36l2.18,-0.09z"/>
<path d="M484.1,191.8l0.76,2.05l2.18,0.09l-1.71,1.36l0.59,2.11l-1.82,-1.21l-1.82,1.21l0.59,-2.11l-1.71,-1.36l2.18,-0.09z"/>
<path d="M485.6,186.7l0.76,2.05l2.18,0.09l-1.71,1.36l0.59,2.11l-1.82,-1.21l-1.82,1.21l0.59,-2.11l-1.71,-1.36l2.18,-0.09z"/>
<path d="M487.1,196.0l0.76,2.05l2.18,0.09l-1.71,1.36l0.59,2.11l-1.82,-1.21l-1.82,1.21l0.59,-2.11l-1.71,-1.36l2.18,-0.09z"/>
<path d="M488.7,198.2l0.76,2.05l2.18,0.09l-1.71,1.36l0.59,2.11l-1.82,-1.21l-1.82,1.21l0.59,-2.11l-1.71,-1.36l2.18,-0.09z"/>
<path d="M490.2,201.8l0.76,2.05l2.18,0.09l-1.71,1.36l0.59,2.11l-1.82,-1.21l-1.82,1.21l0.59,-2.11l-1.71,-1.36l2.18,-0.09z"/>
<path d="M491.3,196.7l0.76,2.05l2.18,0.09l-1.71,1.36l0.59,2.11l-1.82,-1.21l-1.82,1.21l0.59,-2.11l-1.71,-1.36l2.18,-0.09z"/>
<path d="M491.7,191.0l0.76,2.05l2.18,0.09l-1.71,1.36l0.59,2.11l-1.82,-1.21l-1.82,1.21l0.59,-2.11l-1.71,-1.36l2.18,-0.09z"/>
<path d="M493.2,193.7l0.76,2.05l2.18,0.09l-1.71,1.36l0.59,2.11l-1.82,-1.21l-1.82,1.21l0.59,-2.11l-1.71,-1.36l2.18,-0.09z"/>
<path d="M494.7,202.0l0.76,2.05l2.18,0.09l-1.71,1.36l0.59,2.11l-1.82,-1.21l-1.82,1.21l0.59,-2.11l-1.71,-1.36l2.18,-0.09z"/>
<path d="M495.0,201.8l0.76,2.05l2.18,0.09l-1.71,1.36l0.59,2.11l-1.82,-1.21l-1.82,1.21l0.59,-2.11l-1.71,-1.36l2.18,-0.09z"/>
<path d="M496.2,200.8l0.76,2.05l2.18,0.09l-1.71,1.36l0.59,2.11l-1.82,-1.21l-1.82,1.21l0.59,-2.11l-1.71,-1.36l2.18,-0.09z"/>
<path d="M496.6,197.7l0.76,2.05l2.18,0.09l-1.71,1.36l0.59,2.11l-1.82,-1.21l-1.82,1.21l0.59,-2.11l-1.71,-1.36l2.18,-0.09z"/>
<path d="M497.6,200.1l0.76,2.05l2.18,0.09l-1.71,1.36l0.59,2.11l-1.82,-1.21l-1.82,1.21l0.59,-2.11l-1.71,-1.36l2.18,-0.09z"/>
<path d="M497.7,198.5l0.76,2.05l2.18,0.09l-1.71,1.36l0.59,2.11l-1.82,-1.21l-1.82,1.21l0.59,-2.11l-1.71,-1.36l2.18,-0.09z"/>
<path d="M499.2,198.8l0.76,2.05l2.18,0.09l-1.71,1.36l0.59,2.11l-1.82,-1.21l-1.82,1.21l0.59,-2.11l-1.71,-1.36l2.18,-0.09z"/>
<path d="M499.6,201.4l0.76,2.05l2.18,0.09l-1.71,1.36l0.59,2.11l-1.82,-1.21l-1.82,1.21l0.59,-2.11l-1.71,-1.36l2.18,-0.09z"/>
<path d="M500.0,200.5l0.76,2.05l2.18,0.09l-1.71,1.36l0.59,2.11l-1.82,-1.21l-1.82,1.21l0.59,-2.11l-1.71,-1.36l2.18,-0.09z"/>
<path d="M500.7,199.8l0.76,2.05l2.18,0.09l-1.71,1.36l0.59,2.11l-1.82,-1.21l-1.82,1.21l0.59,-2.11l-1.71,-1.36l2.18,-0.09z"/>
<path d="M502.2,201.6l0.76,2.05l2.18,0.09l-1.71,1.36l0.59,2.11l-1.82,-1.21l-1.82,1.21l0.59,-2.11l-1.71,-1.36l2.18,-0.09z"/>
<path d="M503.7,199.9l0.76,2.05l2.18,0.09l-1.71,1.36l0.59,2.11l-1.82,-1.21l-1.82,1.21l0.59,-2.11l-1.71,-1.36l2.18,-0.09z"/>
<path d="M505.3,195.0l0.76,2.05l2.18,0.09l-1.71,1.36l0.59,2.11l-1.82,-1.21l-1.82,1.21l0.59,-2.11l-1.71,-1.36l2.18,-0.09z"/>
<path d="M506.8,200.8l0.76,2.05l2.18,0.09l-1.71,1.36l0.59,2.11l-1.82,-1.21l-1.82,1.21l0.59,-2.11l-1.71,-1.36l2.18,-0.09z"/>
<path d="M508.3,203.6l0.76,2.05l2.18,0.09l-1.71,1.36l0.59,2.11l-1.82,-1.21l-1.82,1.21l0.59,-2.11l-1.71,-1.36l2.18,-0.09z"/>
<path d="M509.8,211.3l0.76,2.05l2.18,0.09l-1.71,1.36l0.59,2.11l-1.82,-1.21l-1.82,1.21l0.59,-2.11l-1.71,-1.36l2.18,-0.09z"/>
<path d="M511.3,203.6l0.76,2.05l2.18,0.09l-1.71,1.36l0.59,2.11l-1.82,-1.21l-1.82,1.21l0.59,-2.11l-1.71,-1.36l2.18,-0.09z"/>
<path d="M512.6,213.6l0.76,2.05l2.18,0.09l-1.71,1.36l0.59,2.11l-1.82,-1.21l-1.82,1.21l0.59,-2.11l-1.71,-1.36l2.18,-0.09z"/>
<path d="M512.8,211.5l0.76,2.05l2.18,0.09l-1.71,1.36l0.59,2.11l-1.82,-1.21l-1.82,1.21l0.59,-2.11l-1.71,-1.36l2.18,-0.09z"/>
<path d="M514.3,203.0l0.76,2.05l2.18,0.09l-1.71,1.36l0.59,2.11l-1.82,-1.21l-1.82,1.21l0.59,-2.11l-1.71,-1.36l2.18,-0.09z"/>
<path d="M515.8,204.3l0.76,2.05l2.18,0.09l-1.71,1.36l0.59,2.11l-1.82,-1.21l-1.82,1.21l0.59,-2.11l-1.71,-1.36l2.18,-0.09z"/>
<path d="M517.3,208.4l0.76,2.05l2.18,0.09l-1.71,1.36l0.59,2.11l-1.82,-1.21l-1.82,1.21l0.59,-2.11l-1.71,-1.36l2.18,-0.09z"/>
<path d="M518.6,215.3l0.76,2.05l2.18,0.09l-1.71,1.36l0.59,2.11l-1.82,-1.21l-1.82,1.21l0.59,-2.11l-1.71,-1.36l2.18,-0.09z"/>
<path d="M518.8,210.0l0.76,2.05l2.18,0.09l-1.71,1.36l0.59,2.11l-1.82,-1.21l-1.82,1.21l0.59,-2.11l-1.71,-1.36l2.18,-0.09z"/>
<path d="M520.4,211.9l0.76,2.05l2.18,0.09l-1.71,1.36l0.59,2.11l-1.82,-1.21l-1.82,1.21l0.59,-2.11l-1.71,-1.36l2.18,-0.09z"/>
<path d="M521.9,207.3l0.76,2.05l2.18,0.09l-1.71,1.36l0.59,2.11l-1.82,-1.21l-1.82,1.21l0.59,-2.11l-1.71,-1.36l2.18,-0.09z"/>
<path d="M523.4,201.4l0.76,2.05l2.18,0.09l-1.71,1.36l0.59,2.11l-1.82,-1.21l-1.82,1.21l0.59,-2.11l-1.71,-1.36l2.18,-0.09z"/>
<path d="M524.9,210.3l0.76,2.05l2.18,0.09l-1.71,1.36l0.59,2.11l-1.82,-1.21l-1.82,1.21l0.59,-2.11l-1.71,-1.36l2.18,-0.09z"/>
<path d="M526.4,215.0l0.76,2.05l2.18,0.09l-1.71,1.36l0.59,2.11l-1.82,-1.21l-1.82,1.21l0.59,-2.11l-1.71,-1.36l2.18,-0.09z"/>
<path d="M527.9,217.3l0.76,2.05l2.18,0.09l-1.71,1.36l0.59,2.11l-1.82,-1.21l-1.82,1.21l0.59,-2.11l-1.71,-1.36l2.18,-0.09z"/>
<path d="M529.4,213.5l0.76,2.05l2.18,0.09l-1.71,1.36l0.59,2.11l-1.82,-1.21l-1.82,1.21l0.59,-2.11l-1.71,-1.36l2.18,-0.09z"/>
<path d="M530.9,214.7l0.76,2.05l2.18,0.09l-1.71,1.36l0.59,2.11l-1.82,-1.21l-1.82,1.21l0.59,-2.11l-1.71,-1.36l2.18,-0.09z"/>
<path d="M532.4,219.3l0.76,2.05l2.18,0.09l-1.71,1.36l0.59,2.11l-1.82,-1.21l-1.82,1.21l0.59,-2.11l-1.71,-1.36l2.18,-0.09z"/>
<path d="M533.9,214.9l0.76,2.05l2.18,0.09l-1.71,1.36l0.59,2.11l-1.82,-1.21l-1.82,1.21l0.59,-2.11l-1.71,-1.36l2.18,-0.09z"/>
<path d="M535.4,220.7l0.76,2.05l2.18,0.09l-1.71,1.36l0.59,2.11l-1.82,-1.21l-1.82,1.21l0.59,-2.11l-1.71,-1.36l2.18,-0.09z"/>
<path d="M536.1,211.9l0.76,2.05l2.18,0.09l-1.71,1.36l0.59,2.11l-1.82,-1.21l-1.82,1.21l0.59,-2.11l-1.71,-1.36l2.18,-0.09z"/>
<path d="M537.0,212.4l0.76,2.05l2.18,0.09l-1.71,1.36l0.59,2.11l-1.82,-1.21l-1.82,1.21l0.59,-2.11l-1.71,-1.36l2.18,-0.09z"/>
<path d="M538.5,213.1l0.76,2.05l2.18,0.09l-1.71,1.36l0.59,2.11l-1.82,-1.21l-1.82,1.21l0.59,-2.11l-1.71,-1.36l2.18,-0.09z"/>
<path d="M540.0,220.1l0.76,2.05l2.18,0.09l-1.71,1.36l0.59,2.11l-1.82,-1.21l-1.82,1.21l0.59,-2.11l-1.71,-1.36l2.18,-0.09z"/>
<path d="M540.0,216.1l0.76,2.05l2.18,0.09l-1.71,1.36l0.59,2.11l-1.82,-1.21l-1.82,1.21l0.59,-2.11l-1.71,-1.36l2.18,-0.09z"/>
<path d="M541.5,219.4l0.76,2.05l2.18,0.09l-1.71,1.36l0.59,2.11l-1.82,-1.21l-1.82,1.21l0.59,-2.11l-1.71,-1.36l2.18,-0.09z"/>
<path d="M543.0,221.1l0.76,2.05l2.18,0.09l-1.71,1.36l0.59,2.11l-1.82,-1.21l-1.82,1.21l0.59,-2.11l-1.71,-1.36l2.18,-0.09z"/>
<path d="M544.5,221.6l0.76,2.05l2.18,0.09l-1.71,1.36l0.59,2.11l-1.82,-1.21l-1.82,1.21l0.59,-2.11l-1.71,-1.36l2.18,-0.09z"/>
<path d="M546.0,226.2l0.76,2.05l2.18,0.09l-1.71,1.36l0.59,2.11l-1.82,-1.21l-1.82,1.21l0.59,-2.11l-1.71,-1.36l2.18,-0.09z"/>
<path d="M546.9,227.2l0.76,2.05l2.18,0.09l-1.71,1.36l0.59,2.11l-1.82,-1.21l-1.82,1.21l0.59,-2.11l-1.71,-1.36l2.18,-0.09z"/>
<path d="M547.5,218.4l0.76,2.05l2.18,0.09l-1.71,1.36l0.59,2.11l-1.82,-1.21l-1.82,1.21l0.59,-2.11l-1.71,-1.36l2.18,-0.09z"/>
<path d="M549.0,223.1l0.76,2.05l2.18,0.09l-1.71,1.36l0.59,2.11l-1.82,-1.21l-1.82,1.21l0.59,-2.11l-1.71,-1.36l2.18,-0.09z"/>
<path d="M550.5,222.2l0.76,2.05l2.18,0.09l-1.71,1.36l0.59,2.11l-1.82,-1.21l-1.82,1.21l0.59,-2.11l-1.71,-1.36l2.18,-0.09z"/>
<path d="M551.6,219.5l0.76,2.05l2.18,0.09l-1.71,1.36l0.59,2.11l-1.82,-1.21l-1.82,1.21l0.59,-2.11l-1.71,-1.36l2.18,-0.09z"/>
<path d="M552.1,230.7l0.76,2.05l2.18,0.09l-1.71,1.36l0.59,2.11l-1.82,-1.21l-1.82,1.21l0.59,-2.11l-1.71,-1.36l2.18,-0.09z"/>
<path d="M553.0,227.3l0.76,2.05l2.18,0.09l-1.71,1.36l0.59,2.11l-1.82,-1.21l-1.82,1.21l0.59,-2.11l-1.71,-1.36l2.18,-0.09z"/>
<path d="M553.6,223.7l0.76,2.05l2.18,0.09l-1.71,1.36l0.59,2.11l-1.82,-1.21l-1.82,1.21l0.59,-2.11l-1.71,-1.36l2.18,-0.09z"/>
<path d="M555.0,223.5l0.76,2.05l2.18,0.09l-1.71,1.36l0.59,2.11l-1.82,-1.21l-1.82,1.21l0.59,-2.11l-1.71,-1.36l2.18,-0.09z"/>
<path d="M555.1,226.6l0.76,2.05l2.18,0.09l-1.71,1.36l0.59,2.11l-1.82,-1.21l-1.82,1.21l0.59,-2.11l-1.71,-1.36l2.18,-0.09z"/>
<path d="M556.6,221.6l0.76,2.05l2.18,0.09l-1.71,1.36l0.59,2.11l-1.82,-1.21l-1.82,1.21l0.59,-2.11l-1.71,-1.36l2.18,-0.09z"/>
<path d="M558.1,225.7l0.76,2.05l2.18,0.09l-1.71,1.36l0.59,2.11l-1.82,-1.21l-1.82,1.21l0.59,-2.11l-1.71,-1.36l2.18,-0.09z"/>
<path d="M559.6,232.1l0.76,2.05l2.18,0.09l-1.71,1.36l0.59,2.11l-1.82,-1.21l-1.82,1.21l0.59,-2.11l-1.71,-1.36l2.18,-0.09z"/>
<path d="M560.0,231.2l0.76,2.05l2.18,0.09l-1.71,1.36l0.59,2.11l-1.82,-1.21l-1.82,1.21l0.59,-2.11l-1.71,-1.36l2.18,-0.09z"/>
<path d="M561.1,224.6l0.76,2.05l2.18,0.09l-1.71,1.36l0.59,2.11l-1.82,-1.21l-1.82,1.21l0.59,-2.11l-1.71,-1.36l2.18,-0.09z"/>
<path d="M562.6,226.7l0.76,2.05l2.18,0.09l-1.71,1.36l0.59,2.11l-1.82,-1.21l-1.82,1.21l0.59,-2.11l-1.71,-1.36l2.18,-0.09z"/>
<path d="M564.1,236.9l0.76,2.05l2.18,0.09l-1.71,1.36l0.59,2.11l-1.82,-1.21l-1.82,1.21l0.59,-2.11l-1.71,-1.36l2.18,-0.09z"/>
<path d="M565.6,224.5l0.76,2.05l2.18,0.09l-1.71,1.36l0.59,2.11l-1.82,-1.21l-1.82,1.21l0.59,-2.11l-1.71,-1.36l2.18,-0.09z"/>
<path d="M567.1,228.2l0.76,2.05l2.18,0.09l-1.71,1.36l0.59,2.11l-1.82,-1.21l-1.82,1.21l0.59,-2.11l-1.71,-1.36l2.18,-0.09z"/>
<path d="M568.7,225.9l0.76,2.05l2.18,0.09l-1.71,1.36l0.59,2.11l-1.82,-1.21l-1.82,1.21l0.59,-2.11l-1.71,-1.36l2.18,-0.09z"/>
<path d="M570.2,233.5l0.76,2.05l2.18,0.09l-1.71,1.36l0.59,2.11l-1.82,-1.21l-1.82,1.21l0.59,-2.11l-1.71,-1.36l2.18,-0.09z"/>
<path d="M571.7,233.9l0.76,2.05l2.18,0.09l-1.71,1.36l0.59,2.11l-1.82,-1.21l-1.82,1.21l0.59,-2.11l-1.71,-1.36l2.18,-0.09z"/>
<path d="M573.2,237.9l0.76,2.05l2.18,0.09l-1.71,1.36l0.59,2.11l-1.82,-1.21l-1.82,1.21l0.59,-2.11l-1.71,-1.36l2.18,-0.09z"/>
<path d="M574.7,223.7l0.76,2.05l2.18,0.09l-1.71,1.36l0.59,2.11l-1.82,-1.21l-1.82,1.21l0.59,-2.11l-1.71,-1.36l2.18,-0.09z"/>
<path d="M576.2,235.4l0.76,2.05l2.18,0.09l-1.71,1.36l0.59,2.11l-1.82,-1.21l-1.82,1.21l0.59,-2.11l-1.71,-1.36l2.18,-0.09z"/>
<path d="M577.7,228.9l0.76,2.05l2.18,0.09l-1.71,1.36l0.59,2.11l-1.82,-1.21l-1.82,1.21l0.59,-2.11l-1.71,-1.36l2.18,-0.09z"/>
<path d="M579.2,238.6l0.76,2.05l2.18,0.09l-1.71,1.36l0.59,2.11l-1.82,-1.21l-1.82,1.21l0.59,-2.11l-1.71,-1.36l2.18,-0.09z"/>
<path d="M580.7,236.0l0.76,2.05l2.18,0.09l-1.71,1.36l0.59,2.11l-1.82,-1.21l-1.82,1.21l0.59,-2.11l-1.71,-1.36l2.18,-0.09z"/>
<path d="M582.2,244.1l0.76,2.05l2.18,0.09l-1.71,1.36l0.59,2.11l-1.82,-1.21l-1.82,1.21l0.59,-2.11l-1.71,-1.36l2.18,-0.09z"/>
<path d="M583.8,239.5l0.76,2.05l2.18,0.09l-1.71,1.36l0.59,2.11l-1.82,-1.21l-1.82,1.21l0.59,-2.11l-1.71,-1.36l2.18,-0.09z"/>
<path d="M585.2,234.6l0.76,2.05l2.18,0.09l-1.71,1.36l0.59,2.11l-1.82,-1.21l-1.82,1.21l0.59,-2.11l-1.71,-1.36l2.18,-0.09z"/>
<path d="M585.3,243.7l0.76,2.05l2.18,0.09l-1.71,1.36l0.59,2.11l-1.82,-1.21l-1.82,1.21l0.59,-2.11l-1.71,-1.36l2.18,-0.09z"/>
<path d="M586.8,234.9l0.76,2.05l2.18,0.09l-1.71,1.36l0.59,2.11l-1.82,-1.21l-1.82,1.21l0.59,-2.11l-1.71,-1.36l2.18,-0.09z"/>
<path d="M588.3,238.5l0.76,2.05l2.18,0.09l-1.71,1.36l0.59,2.11l-1.82,-1.21l-1.82,1.21l0.59,-2.11l-1.71,-1.36l2.18,-0.09z"/>
<path d="M589.8,244.7l0.76,2.05l2.18,0.09l-1.71,1.36l0.59,2.11l-1.82,-1.21l-1.82,1.21l0.59,-2.11l-1.71,-1.36l2.18,-0.09z"/>
<path d="M591.3,243.2l0.76,2.05l2.18,0.09l-1.71,1.36l0.59,2.11l-1.82,-1.21l-1.82,1.21l0.59,-2.11l-1.71,-1.36l2.18,-0.09z"/>
<path d="M592.8,243.6l0.76,2.05l2.18,0.09l-1.71,1.36l0.59,2.11l-1.82,-1.21l-1.82,1.21l0.59,-2.11l-1.71,-1.36l2.18,-0.09z"/>
<path d="M594.3,242.6l0.76,2.05l2.18,0.09l-1.71,1.36l0.59,2.11l-1.82,-1.21l-1.82,1.21l0.59,-2.11l-1.71,-1.36l2.18,-0.09z"/>
<path d="M595.8,245.2l0.76,2.05l2.18,0.09l-1.71,1.36l0.59,2.11l-1.82,-1.21l-1.82,1.21l0.59,-2.11l-1.71,-1.36l2.18,-0.09z"/>
<path d="M597.3,247.0l0.76,2.05l2.18,0.09l-1.71,1.36l0.59,2.11l-1.82,-1.21l-1.82,1.21l0.59,-2.11l-1.71,-1.36l2.18,-0.09z"/>
<path d="M598.9,245.4l0.76,2.05l2.18,0.09l-1.71,1.36l0.59,2.11l-1.82,-1.21l-1.82,1.21l0.59,-2.11l-1.71,-1.36l2.18,-0.09z"/>
<path d="M600.4,249.0l0.76,2.05l2.18,0.09l-1.71,1.36l0.59,2.11l-1.82,-1.21l-1.82,1.21l0.59,-2.11l-1.71,-1.36l2.18,-0.09z"/>
<path d="M601.9,250.6l0.76,2.05l2.18,0.09l-1.71,1.36l0.59,2.11l-1.82,-1.21l-1.82,1.21l0.59,-2.11l-1.71,-1.36l2.18,-0.09z"/>
<path d="M603.4,246.2l0.76,2.05l2.18,0.09l-1.71,1.36l0.59,2.11l-1.82,-1.21l-1.82,1.21l0.59,-2.11l-1.71,-1.36l2.18,-0.09z"/>
<path d="M604.9,243.0l0.76,2.05l2.18,0.09l-1.71,1.36l0.59,2.11l-1.82,-1.21l-1.82,1.21l0.59,-2.11l-1.71,-1.36l2.18,-0.09z"/>
<path d="M606.4,253.4l0.76,2.05l2.18,0.09l-1.71,1.36l0.59,2.11l-1.82,-1.21l-1.82,1.21l0.59,-2.11l-1.71,-1.36l2.18,-0.09z"/>
<path d="M607.9,247.8l0.76,2.05l2.18,0.09l-1.71,1.36l0.59,2.11l-1.82,-1.21l-1.82,1.21l0.59,-2.11l-1.71,-1.36l2.18,-0.09z"/>
<path d="M609.1,250.8l0.76,2.05l2.18,0.09l-1.71,1.36l0.59,2.11l-1.82,-1.21l-1.82,1.21l0.59,-2.11l-1.71,-1.36l2.18,-0.09z"/>
<path d="M609.4,252.3l0.76,2.05l2.18,0.09l-1.71,1.36l0.59,2.11l-1.82,-1.21l-1.82,1.21l0.59,-2.11l-1.71,-1.36l2.18,-0.09z"/>
<path d="M610.9,245.5l0.76,2.05l2.18,0.09l-1.71,1.36l0.59,2.11l-1.82,-1.21l-1.82,1.21l0.59,-2.11l-1.71,-1.36l2.18,-0.09z"/>
<path d="M612.4,251.6l0.76,2.05l2.18,0.09l-1.71,1.36l0.59,2.11l-1.82,-1.21l-1.82,1.21l0.59,-2.11l-1.71,-1.36l2.18,-0.09z"/>
<path d="M613.9,244.0l0.76,2.05l2.18,0.09l-1.71,1.36l0.59,2.11l-1.82,-1.21l-1.82,1.21l0.59,-2.11l-1.71,-1.36l2.18,-0.09z"/>
<path d="M615.5,253.8l0.76,2.05l2.18,0.09l-1.71,1.36l0.59,2.11l-1.82,-1.21l-1.82,1.21l0.59,-2.11l-1.71,-1.36l2.18,-0.09z"/>
<path d="M617.0,249.6l0.76,2.05l2.18,0.09l-1.71,1.36l0.59,2.11l-1.82,-1.21l-1.82,1.21l0.59,-2.11l-1.71,-1.36l2.18,-0.09z"/>
<path d="M618.5,252.6l0.76,2.05l2.18,0.09l-1.71,1.36l0.59,2.11l-1.82,-1.21l-1.82,1.21l0.59,-2.11l-1.71,-1.36l2.18,-0.09z"/>
<path d="M620.0,255.3l0.76,2.05l2.18,0.09l-1.71,1.36l0.59,2.11l-1.82,-1.21l-1.82,1.21l0.59,-2.11l-1.71,-1.36l2.18,-0.09z"/>
<path d="M621.5,250.4l0.76,2.05l2.18,0.09l-1.71,1.36l0.59,2.11l-1.82,-1.21l-1.82,1.21l0.59,-2.11l-1.71,-1.36l2.18,-0.09z"/>
<path d="M623.0,253.9l0.76,2.05l2.18,0.09l-1.71,1.36l0.59,2.11l-1.82,-1.21l-1.82,1.21l0.59,-2.11l-1.71,-1.36l2.18,-0.09z"/>
<path d="M624.5,251.4l0.76,2.05l2.18,0.09l-1.71,1.36l0.59,2.11l-1.82,-1.21l-1.82,1.21l0.59,-2.11l-1.71,-1.36l2.18,-0.09z"/>
<path d="M625.4,254.3l0.76,2.05l2.18,0.09l-1.71,1.36l0.59,2.11l-1.82,-1.21l-1.82,1.21l0.59,-2.11l-1.71,-1.36l2.18,-0.09z"/>
<path d="M626.0,258.7l0.76,2.05l2.18,0.09l-1.71,1.36l0.59,2.11l-1.82,-1.21l-1.82,1.21l0.59,-2.11l-1.71,-1.36l2.18,-0.09z"/>
<path d="M627.5,255.3l0.76,2.05l2.18,0.09l-1.71,1.36l0.59,2.11l-1.82,-1.21l-1.82,1.21l0.59,-2.11l-1.71,-1.36l2.18,-0.09z"/>
<path d="M629.0,255.2l0.76,2.05l2.18,0.09l-1.71,1.36l0.59,2.11l-1.82,-1.21l-1.82,1.21l0.59,-2.11l-1.71,-1.36l2.18,-0.09z"/>
<path d="M630.6,252.0l0.76,2.05l2.18,0.09l-1.71,1.36l0.59,2.11l-1.82,-1.21l-1.82,1.21l0.59,-2.11l-1.71,-1.36l2.18,-0.09z"/>
<path d="M632.1,260.0l0.76,2.05l2.18,0.09l-1.71,1.36l0.59,2.11l-1.82,-1.21l-1.82,1.21l0.59,-2.11l-1.71,-1.36l2.18,-0.09z"/>
<path d="M633.5,256.9l0.76,2.05l2.18,0.09l-1.71,1.36l0.59,2.11l-1.82,-1.21l-1.82,1.21l0.59,-2.11l-1.71,-1.36l2.18,-0.09z"/>
<path d="M633.6,263.7l0.76,2.05l2.18,0.09l-1.71,1.36l0.59,2.11l-1.82,-1.21l-1.82,1.21l0.59,-2.11l-1.71,-1.36l2.18,-0.09z"/>
<path d="M635.1,254.6l0.76,2.05l2.18,0.09l-1.71,1.36l0.59,2.11l-1.82,-1.21l-1.82,1.21l0.59,-2.11l-1.71,-1.36l2.18,-0.09z"/>
<path d="M635.7,261.7l0.76,2.05l2.18,0.09l-1.71,1.36l0.59,2.11l-1.82,-1.21l-1.82,1.21l0.59,-2.11l-1.71,-1.36l2.18,-0.09z"/>
<path d="M636.6,264.9l0.76,2.05l2.18,0.09l-1.71,1.36l0.59,2.11l-1.82,-1.21l-1.82,1.21l0.59,-2.11l-1.71,-1.36l2.18,-0.09z"/>
<path d="M638.1,258.2l0.76,2.05l2.18,0.09l-1.71,1.36l0.59,2.11l-1.82,-1.21l-1.82,1.21l0.59,-2.11l-1.71,-1.36l2.18,-0.09z"/>
<path d="M639.6,253.9l0.76,2.05l2.18,0.09l-1.71,1.36l0.59,2.11l-1.82,-1.21l-1.82,1.21l0.59,-2.11l-1.71,-1.36l2.18,-0.09z"/>
<path d="M641.1,264.9l0.76,2.05l2.18,0.09l-1.71,1.36l0.59,2.11l-1.82,-1.21l-1.82,1.21l0.59,-2.11l-1.71,-1.36l2.18,-0.09z"/>
<path d="M642.6,263.6l0.76,2.05l2.18,0.09l-1.71,1.36l0.59,2.11l-1.82,-1.21l-1.82,1.21l0.59,-2.11l-1.71,-1.36l2.18,-0.09z"/>
<path d="M644.1,262.5l0.76,2.05l2.18,0.09l-1.71,1.36l0.59,2.11l-1.82,-1.21l-1.82,1.21l0.59,-2.11l-1.71,-1.36l2.18,-0.09z"/>
<path d="M644.9,264.3l0.76,2.05l2.18,0.09l-1.71,1.36l0.59,2.11l-1.82,-1.21l-1.82,1.21l0.59,-2.11l-1.71,-1.36l2.18,-0.09z"/>
<path d="M645.6,258.4l0.76,2.05l2.18,0.09l-1.71,1.36l0.59,2.11l-1.82,-1.21l-1.82,1.21l0.59,-2.11l-1.71,-1.36l2.18,-0.09z"/>
<path d="M647.2,263.5l0.76,2.05l2.18,0.09l-1.71,1.36l0.59,2.11l-1.82,-1.21l-1.82,1.21l0.59,-2.11l-1.71,-1.36l2.18,-0.09z"/>
<path d="M647.3,263.2l0.76,2.05l2.18,0.09l-1.71,1.36l0.59,2.11l-1.82,-1.21l-1.82,1.21l0.59,-2.11l-1.71,-1.36l2.18,-0.09z"/>
<path d="M648.7,258.3l0.76,2.05l2.18,0.09l-1.71,1.36l0.59,2.11l-1.82,-1.21l-1.82,1.21l0.59,-2.11l-1.71,-1.36l2.18,-0.09z"/>
<path d="M650.2,264.0l0.76,2.05l2.18,0.09l-1.71,1.36l0.59,2.11l-1.82,-1.21l-1.82,1.21l0.59,-2.11l-1.71,-1.36l2.18,-0.09z"/>
<path d="M651.5,259.5l0.76,2.05l2.18,0.09l-1.71,1.36l0.59,2.11l-1.82,-1.21l-1.82,1.21l0.59,-2.11l-1.71,-1.36l2.18,-0.09z"/>
<path d="M651.7,265.3l0.76,2.05l2.18,0.09l-1.71,1.36l0.59,2.11l-1.82,-1.21l-1.82,1.21l0.59,-2.11l-1.71,-1.36l2.18,-0.09z"/>
<path d="M653.2,266.6l0.76,2.05l2.18,0.09l-1.71,1.36l0.59,2.11l-1.82,-1.21l-1.82,1.21l0.59,-2.11l-1.71,-1.36l2.18,-0.09z"/>
<path d="M654.7,269.4l0.76,2.05l2.18,0.09l-1.71,1.36l0.59,2.11l-1.82,-1.21l-1.82,1.21l0.59,-2.11l-1.71,-1.36l2.18,-0.09z"/>
<path d="M656.2,254.8l0.76,2.05l2.18,0.09l-1.71,1.36l0.59,2.11l-1.82,-1.21l-1.82,1.21l0.59,-2.11l-1.71,-1.36l2.18,-0.09z"/>
<path d="M657.7,264.0l0.76,2.05l2.18,0.09l-1.71,1.36l0.59,2.11l-1.82,-1.21l-1.82,1.21l0.59,-2.11l-1.71,-1.36l2.18,-0.09z"/>
<path d="M659.2,262.0l0.76,2.05l2.18,0.09l-1.71,1.36l0.59,2.11l-1.82,-1.21l-1.82,1.21l0.59,-2.11l-1.71,-1.36l2.18,-0.09z"/>
<path d="M659.7,263.2l0.76,2.05l2.18,0.09l-1.71,1.36l0.59,2.11l-1.82,-1.21l-1.82,1.21l0.59,-2.11l-1.71,-1.36l2.18,-0.09z"/>
<path d="M660.7,262.7l0.76,2.05l2.18,0.09l-1.71,1.36l0.59,2.11l-1.82,-1.21l-1.82,1.21l0.59,-2.11l-1.71,-1.36l2.18,-0.09z"/>
<path d="M662.3,263.4l0.76,2.05l2.18,0.09l-1.71,1.36l0.59,2.11l-1.82,-1.21l-1.82,1.21l0.59,-2.11l-1.71,-1.36l2.18,-0.09z"/>
<path d="M663.8,256.2l0.76,2.05l2.18,0.09l-1.71,1.36l0.59,2.11l-1.82,-1.21l-1.82,1.21l0.59,-2.11l-1.71,-1.36l2.18,-0.09z"/>
<path d="M665.3,268.4l0.76,2.05l2.18,0.09l-1.71,1.36l0.59,2.11l-1.82,-1.21l-1.82,1.21l0.59,-2.11l-1.71,-1.36l2.18,-0.09z"/>
<path d="M666.8,270.8l0.76,2.05l2.18,0.09l-1.71,1.36l0.59,2.11l-1.82,-1.21l-1.82,1.21l0.59,-2.11l-1.71,-1.36l2.18,-0.09z"/>
<path d="M668.3,268.9l0.76,2.05l2.18,0.09l-1.71,1.36l0.59,2.11l-1.82,-1.21l-1.82,1.21l0.59,-2.11l-1.71,-1.36l2.18,-0.09z"/>
<path d="M669.8,270.5l0.76,2.05l2.18,0.09l-1.71,1.36l0.59,2.11l-1.82,-1.21l-1.82,1.21l0.59,-2.11l-1.71,-1.36l2.18,-0.09z"/>
<path d="M671.3,262.4l0.76,2.05l2.18,0.09l-1.71,1.36l0.59,2.11l-1.82,-1.21l-1.82,1.21l0.59,-2.11l-1.71,-1.36l2.18,-0.09z"/>
<path d="M671.4,262.1l0.76,2.05l2.18,0.09l-1.71,1.36l0.59,2.11l-1.82,-1.21l-1.82,1.21l0.59,-2.11l-1.71,-1.36l2.18,-0.09z"/>
<path d="M672.4,269.5l0.76,2.05l2.18,0.09l-1.71,1.36l0.59,2.11l-1.82,-1.21l-1.82,1.21l0.59,-2.11l-1.71,-1.36l2.18,-0.09z"/>
<path d="M672.8,271.3l0.76,2.05l2.18,0.09l-1.71,1.36l0.59,2.11l-1.82,-1.21l-1.82,1.21l0.59,-2.11l-1.71,-1.36l2.18,-0.09z"/>
<path d="M674.3,267.4l0.76,2.05l2.18,0.09l-1.71,1.36l0.59,2.11l-1.82,-1.21l-1.82,1.21l0.59,-2.11l-1.71,-1.36l2.18,-0.09z"/>
<path d="M675.7,260.5l0.76,2.05l2.18,0.09l-1.71,1.36l0.59,2.11l-1.82,-1.21l-1.82,1.21l0.59,-2.11l-1.71,-1.36l2.18,-0.09z"/>
<path d="M675.8,277.6l0.76,2.05l2.18,0.09l-1.71,1.36l0.59,2.11l-1.82,-1.21l-1.82,1.21l0.59,-2.11l-1.71,-1.36l2.18,-0.09z"/>
<path d="M677.3,264.3l0.76,2.05l2.18,0.09l-1.71,1.36l0.59,2.11l-1.82,-1.21l-1.82,1.21l0.59,-2.11l-1.71,-1.36l2.18,-0.09z"/>
<path d="M678.9,271.0l0.76,2.05l2.18,0.09l-1.71,1.36l0.59,2.11l-1.82,-1.21l-1.82,1.21l0.59,-2.11l-1.71,-1.36l2.18,-0.09z"/>
<path d="M680.4,262.7l0.76,2.05l2.18,0.09l-1.71,1.36l0.59,2.11l-1.82,-1.21l-1.82,1.21l0.59,-2.11l-1.71,-1.36l2.18,-0.09z"/>
<path d="M681.9,271.5l0.76,2.05l2.18,0.09l-1.71,1.36l0.59,2.11l-1.82,-1.21l-1.82,1.21l0.59,-2.11l-1.71,-1.36l2.18,-0.09z"/>
<path d="M683.4,268.6l0.76,2.05l2.18,0.09l-1.71,1.36l0.59,2.11l-1.82,-1.21l-1.82,1.21l0.59,-2.11l-1.71,-1.36l2.18,-0.09z"/>
<path d="M683.8,273.6l0.76,2.05l2.18,0.09l-1.71,1.36l0.59,2.11l-1.82,-1.21l-1.82,1.21l0.59,-2.11l-1.71,-1.36l2.18,-0.09z"/>
<path d="M684.9,271.6l0.76,2.05l2.18,0.09l-1.71,1.36l0.59,2.11l-1.82,-1.21l-1.82,1.21l0.59,-2.11l-1.71,-1.36l2.18,-0.09z"/>
<path d="M686.4,262.3l0.76,2.05l2.18,0.09l-1.71,1.36l0.59,2.11l-1.82,-1.21l-1.82,1.21l0.59,-2.11l-1.71,-1.36l2.18,-0.09z"/>
<path d="M687.9,264.8l0.76,2.05l2.18,0.09l-1.71,1.36l0.59,2.11l-1.82,-1.21l-1.82,1.21l0.59,-2.11l-1.71,-1.36l2.18,-0.09z"/>
<path d="M689.4,269.9l0.76,2.05l2.18,0.09l-1.71,1.36l0.59,2.11l-1.82,-1.21l-1.82,1.21l0.59,-2.11l-1.71,-1.36l2.18,-0.09z"/>
<path d="M690.9,272.0l0.76,2.05l2.18,0.09l-1.71,1.36l0.59,2.11l-1.82,-1.21l-1.82,1.21l0.59,-2.11l-1.71,-1.36l2.18,-0.09z"/>
<path d="M692.4,276.4l0.76,2.05l2.18,0.09l-1.71,1.36l0.59,2.11l-1.82,-1.21l-1.82,1.21l0.59,-2.11l-1.71,-1.36l2.18,-0.09z"/>
<path d="M693.4,270.4l0.76,2.05l2.18,0.09l-1.71,1.36l0.59,2.11l-1.82,-1.21l-1.82,1.21l0.59,-2.11l-1.71,-1.36l2.18,-0.09z"/>
<path d="M694.0,269.1l0.76,2.05l2.18,0.09l-1.71,1.36l0.59,2.11l-1.82,-1.21l-1.82,1.21l0.59,-2.11l-1.71,-1.36l2.18,-0.09z"/>
<path d="M695.5,269.5l0.76,2.05l2.18,0.09l-1.71,1.36l0.59,2.11l-1.82,-1.21l-1.82,1.21l0.59,-2.11l-1.71,-1.36l2.18,-0.09z"/>
<path d="M697.0,269.7l0.76,2.05l2.18,0.09l-1.71,1.36l0.59,2.11l-1.82,-1.21l-1.82,1.21l0.59,-2.11l-1.71,-1.36l2.18,-0.09z"/>
<path d="M698.5,274.0l0.76,2.05l2.18,0.09l-1.71,1.36l0.59,2.11l-1.82,-1.21l-1.82,1.21l0.59,-2.11l-1.71,-1.36l2.18,-0.09z"/>
<path d="M700.0,270.0l0.76,2.05l2.18,0.09l-1.71,1.36l0.59,2.11l-1.82,-1.21l-1.82,1.21l0.59,-2.11l-1.71,-1.36l2.18,-0.09z"/>
<path d="M701.5,270.0l0.76,2.05l2.18,0.09l-1.71,1.36l0.59,2.11l-1.82,-1.21l-1.82,1.21l0.59,-2.11l-1.71,-1.36l2.18,-0.09z"/>
<path d="M703.0,264.8l0.76,2.05l2.18,0.09l-1.71,1.36l0.59,2.11l-1.82,-1.21l-1.82,1.21l0.59,-2.11l-1.71,-1.36l2.18,-0.09z"/>
<path d="M704.5,262.7l0.76,2.05l2.18,0.09l-1.71,1.36l0.59,2.11l-1.82,-1.21l-1.82,1.21l0.59,-2.11l-1.71,-1.36l2.18,-0.09z"/>
<path d="M706.0,270.9l0.76,2.05l2.18,0.09l-1.71,1.36l0.59,2.11l-1.82,-1.21l-1.82,1.21l0.59,-2.11l-1.71,-1.36l2.18,-0.09z"/>
<path d="M707.5,273.6l0.76,2.05l2.18,0.09l-1.71,1.36l0.59,2.11l-1.82,-1.21l-1.82,1.21l0.59,-2.11l-1.71,-1.36l2.18,-0.09z"/>
<path d="M709.0,271.0l0.76,2.05l2.18,0.09l-1.71,1.36l0.59,2.11l-1.82,-1.21l-1.82,1.21l0.59,-2.11l-1.71,-1.36l2.18,-0.09z"/>
<path d="M710.6,273.3l0.76,2.05l2.18,0.09l-1.71,1.36l0.59,2.11l-1.82,-1.21l-1.82,1.21l0.59,-2.11l-1.71,-1.36l2.18,-0.09z"/>
<path d="M712.1,274.0l0.76,2.05l2.18,0.09l-1.71,1.36l0.59,2.11l-1.82,-1.21l-1.82,1.21l0.59,-2.11l-1.71,-1.36l2.18,-0.09z"/>
<path d="M713.6,271.4l0.76,2.05l2.18,0.09l-1.71,1.36l0.59,2.11l-1.82,-1.21l-1.82,1.21l0.59,-2.11l-1.71,-1.36l2.18,-0.09z"/>
<path d="M715.1,275.5l0.76,2.05l2.18,0.09l-1.71,1.36l0.59,2.11l-1.82,-1.21l-1.82,1.21l0.59,-2.11l-1.71,-1.36l2.18,-0.09z"/>
<path d="M716.6,269.0l0.76,2.05l2.18,0.09l-1.71,1.36l0.59,2.11l-1.82,-1.21l-1.82,1.21l0.59,-2.11l-1.71,-1.36l2.18,-0.09z"/>
<path d="M718.1,272.0l0.76,2.05l2.18,0.09l-1.71,1.36l0.59,2.11l-1.82,-1.21l-1.82,1.21l0.59,-2.11l-1.71,-1.36l2.18,-0.09z"/>
<path d="M719.6,270.7l0.76,2.05l2.18,0.09l-1.71,1.36l0.59,2.11l-1.82,-1.21l-1.82,1.21l0.59,-2.11l-1.71,-1.36l2.18,-0.09z"/>
<path d="M721.1,272.5l0.76,2.05l2.18,0.09l-1.71,1.36l0.59,2.11l-1.82,-1.21l-1.82,1.21l0.59,-2.11l-1.71,-1.36l2.18,-0.09z"/>
<path d="M722.6,274.9l0.76,2.05l2.18,0.09l-1.71,1.36l0.59,2.11l-1.82,-1.21l-1.82,1.21l0.59,-2.11l-1.71,-1.36l2.18,-0.09z"/>
<path d="M723.0,275.8l0.76,2.05l2.18,0.09l-1.71,1.36l0.59,2.11l-1.82,-1.21l-1.82,1.21l0.59,-2.11l-1.71,-1.36l2.18,-0.09z"/>
<path d="M724.1,273.0l0.76,2.05l2.18,0.09l-1.71,1.36l0.59,2.11l-1.82,-1.21l-1.82,1.21l0.59,-2.11l-1.71,-1.36l2.18,-0.09z"/>
<path d="M725.7,274.4l0.76,2.05l2.18,0.09l-1.71,1.36l0.59,2.11l-1.82,-1.21l-1.82,1.21l0.59,-2.11l-1.71,-1.36l2.18,-0.09z"/>
<path d="M727.2,271.3l0.76,2.05l2.18,0.09l-1.71,1.36l0.59,2.11l-1.82,-1.21l-1.82,1.21l0.59,-2.11l-1.71,-1.36l2.18,-0.09z"/>
<path d="M727.9,272.3l0.76,2.05l2.18,0.09l-1.71,1.36l0.59,2.11l-1.82,-1.21l-1.82,1.21l0.59,-2.11l-1.71,-1.36l2.18,-0.09z"/>
<path d="M728.7,277.9l0.76,2.05l2.18,0.09l-1.71,1.36l0.59,2.11l-1.82,-1.21l-1.82,1.21l0.59,-2.11l-1.71,-1.36l2.18,-0.09z"/>
<path d="M730.2,272.2l0.76,2.05l2.18,0.09l-1.71,1.36l0.59,2.11l-1.82,-1.21l-1.82,1.21l0.59,-2.11l-1.71,-1.36l2.18,-0.09z"/>
<path d="M731.0,277.9l0.76,2.05l2.18,0.09l-1.71,1.36l0.59,2.11l-1.82,-1.21l-1.82,1.21l0.59,-2.11l-1.71,-1.36l2.18,-0.09z"/>
<path d="M731.7,275.0l0.76,2.05l2.18,0.09l-1.71,1.36l0.59,2.11l-1.82,-1.21l-1.82,1.21l0.59,-2.11l-1.71,-1.36l2.18,-0.09z"/>
<path d="M733.2,273.8l0.76,2.05l2.18,0.09l-1.71,1.36l0.59,2.11l-1.82,-1.21l-1.82,1.21l0.59,-2.11l-1.71,-1.36l2.18,-0.09z"/>
</g>
<path d="M100.70,283.54 L101.33,281.82 L101.97,279.49 L102.60,276.38 L103.23,272.33 L103.86,267.18 L104.50,260.79 L105.13,253.06 L105.76,243.94 L106.39,233.47 L107.03,221.79 L107.66,209.14 L108.29,195.88 L108.92,182.47 L109.56,169.46 L110.19,157.43 L110.82,146.98 L111.45,138.67 L112.09,132.96 L112.72,130.18 L113.35,130.49 L113.98,133.88 L114.62,140.14 L115.25,148.92 L115.88,159.73 L116.51,172.00 L117.15,185.14 L117.78,198.56 L118.41,211.74 L119.04,224.22 L119.67,235.67 L120.31,245.87 L120.94,254.71 L121.57,262.17 L122.21,268.30 L122.84,273.22 L123.47,277.07 L124.10,280.01 L124.73,282.21 L125.37,283.82 L126.00,284.96 L126.63,285.76 L127.27,286.31 L127.90,286.67 L128.53,286.91 L129.16,287.06 L129.80,287.16 L130.43,287.22 L131.06,287.25 L131.69,287.27 L132.32,287.29 L132.96,287.29 L133.59,287.30 L134.22,287.30 L134.86,287.30 L135.49,287.30 L136.12,287.30 L136.75,287.30 L137.38,287.30 L138.02,287.30 L138.65,287.30 L139.28,287.30 L139.91,287.30 L140.55,287.30 L141.18,287.30 L141.81,287.30 L142.44,287.30 L143.08,287.30 L143.71,287.30 L144.34,287.30 L144.98,287.30 L145.61,287.30 L146.24,287.30 L146.87,287.30 L147.50,287.30 L148.14,287.30 L148.77,287.30 L149.40,287.30 L150.03,287.30 L150.67,287.30 L151.30,287.30 L151.93,287.30 L152.56,287.30 L153.20,287.30 L153.83,287.30 L154.46,287.30 L155.09,287.30 L155.73,287.30 L156.36,287.30 L156.99,287.30 L157.62,287.30 L158.26,287.30 L158.89,287.30 L159.52,287.30 L160.16,287.30 L160.79,287.30 L161.42,287.30 L162.05,287.30 L162.69,287.30 L163.32,287.30 L163.95,287.30 L164.58,287.30 L165.22,287.30 L165.85,287.30 L166.48,287.30 L167.11,287.30 L167.75,287.30 L168.38,287.30 L169.01,287.30 L169.64,287.30 L170.28,287.30 L170.91,287.30 L171.54,287.30 L172.17,287.30 L172.81,287.30 L173.44,287.30 L174.07,287.30 L174.70,287.30 L175.33,287.30 L175.97,287.30 L176.60,287.30 L177.23,287.30 L177.87,287.30 L178.50,287.30 L179.13,287.30 L179.76,287.30 L180.40,287.30 L181.03,287.30 L181.66,287.30 L182.29,287.30 L182.93,287.30 L183.56,287.30 L184.19,287.30 L184.82,287.30 L185.46,287.30 L186.09,287.30 L186.72,287.30 L187.35,287.30 L187.99,287.30 L188.62,287.30 L189.25,287.30 L189.88,287.30 L190.51,287.30 L191.15,287.30 L191.78,287.30 L192.41,287.30 L193.05,287.30 L193.68,287.30 L194.31,287.30 L194.94,287.30 L195.57,287.30 L196.21,287.30 L196.84,287.30 L197.47,287.30 L198.11,287.30 L198.74,287.30 L199.37,287.30 L200.00,287.30 L200.63,287.30 L201.27,287.30 L201.90,287.30 L202.53,287.30 L203.17,287.30 L203.80,287.30 L204.43,287.30 L205.06,287.30 L205.69,287.30 L206.33,287.30 L206.96,287.30 L207.59,287.30 L208.22,287.30 L208.86,287.30 L209.49,287.30 L210.12,287.30 L210.75,287.30 L211.39,287.30 L212.02,287.30 L212.65,287.30 L213.29,287.30 L213.92,287.30 L214.55,287.30 L215.18,287.30 L215.81,287.30 L216.45,287.30 L217.08,287.30 L217.71,287.30 L218.35,287.30 L218.98,287.30 L219.61,287.30 L220.24,287.30 L220.88,287.30 L221.51,287.30 L222.14,287.30 L222.77,287.30 L223.41,287.30 L224.04,287.30 L224.67,287.30 L225.30,287.30 L225.94,287.30 L226.57,287.30 L227.20,287.30 L227.83,287.30 L228.47,287.30 L229.10,287.30 L229.73,287.30 L230.36,287.30 L231.00,287.30 L231.63,287.30 L232.26,287.30 L232.89,287.30 L233.53,287.30 L234.16,287.30 L234.79,287.30 L235.42,287.30 L236.06,287.30 L236.69,287.30 L237.32,287.30 L237.95,287.30 L238.59,287.30 L239.22,287.30 L239.85,287.30 L240.48,287.30 L241.12,287.30 L241.75,287.30 L242.38,287.30 L243.01,287.30 L243.65,287.30 L244.28,287.30 L244.91,287.30 L245.54,287.30 L246.18,287.30 L246.81,287.30 L247.44,287.30 L248.07,287.30 L248.70,287.30 L249.34,287.30 L249.97,287.30 L250.60,287.30 L251.24,287.30 L251.87,287.30 L252.50,287.30 L253.13,287.30 L253.76,287.30 L254.40,287.30 L255.03,287.30 L255.66,287.30 L256.30,287.30 L256.93,287.30 L257.56,287.30 L258.19,287.30 L258.82,287.30 L259.46,287.30 L260.09,287.30 L260.72,287.30 L261.36,287.30 L261.99,287.30 L262.62,287.30 L263.25,287.30 L263.88,287.30 L264.52,287.30 L265.15,287.30 L265.78,287.30 L266.42,287.30 L267.05,287.30 L267.68,287.30 L268.31,287.30 L268.94,287.30 L269.58,287.30 L270.21,287.30 L270.84,287.30 L271.48,287.30 L272.11,287.30 L272.74,287.30 L273.37,287.30 L274.00,287.30 L274.64,287.30 L275.27,287.30 L275.90,287.30 L276.54,287.30 L277.17,287.30 L277.80,287.30 L278.43,287.30 L279.06,287.30 L279.70,287.30 L280.33,287.30 L280.96,287.30 L281.59,287.30 L282.23,287.30 L282.86,287.30 L283.49,287.30 L284.12,287.30 L284.76,287.30 L285.39,287.30 L286.02,287.30 L286.65,287.30 L287.29,287.30 L287.92,287.30 L288.55,287.30 L289.19,287.30 L289.82,287.30 L290.45,287.30 L291.08,287.30 L291.72,287.30 L292.35,287.30 L292.98,287.30 L293.61,287.30 L294.25,287.30 L294.88,287.30 L295.51,287.30 L296.14,287.30 L296.78,287.30 L297.41,287.30 L298.04,287.30 L298.67,287.30 L299.31,287.30 L299.94,287.30 L300.57,287.30 L301.20,287.30 L301.84,287.30 L302.47,287.30 L303.10,287.30 L303.73,287.30 L304.37,287.30 L305.00,287.30 L305.63,287.30 L306.26,287.30 L306.90,287.30 L307.53,287.30 L308.16,287.30 L308.79,287.30 L309.43,287.30 L310.06,287.30 L310.69,287.30 L311.32,287.30 L311.95,287.30 L312.59,287.30 L313.22,287.30 L313.85,287.30 L314.49,287.30 L315.12,287.30 L315.75,287.30 L316.38,287.30 L317.01,287.30 L317.65,287.30 L318.28,287.30 L318.91,287.30 L319.55,287.30 L320.18,287.30 L320.81,287.30 L321.44,287.30 L322.07,287.30 L322.71,287.30 L323.34,287.30 L323.97,287.30 L324.61,287.30 L325.24,287.30 L325.87,287.30 L326.50,287.30 L327.13,287.30 L327.77,287.30 L328.40,287.30 L329.03,287.30 L329.67,287.30 L330.30,287.30 L330.93,287.30 L331.56,287.30 L332.19,287.30 L332.83,287.30 L333.46,287.30 L334.09,287.30 L334.73,287.30 L335.36,287.30 L335.99,287.30 L336.62,287.30 L337.25,287.30 L337.89,287.30 L338.52,287.30 L339.15,287.30 L339.79,287.30 L340.42,287.30 L341.05,287.30 L341.68,287.30 L342.31,287.30 L342.95,287.30 L343.58,287.30 L344.21,287.30 L344.84,287.30 L345.48,287.30 L346.11,287.30 L346.74,287.30 L347.38,287.30 L348.01,287.30 L348.64,287.30 L349.27,287.30 L349.90,287.30 L350.54,287.30 L351.17,287.30 L351.80,287.30 L352.44,287.30 L353.07,287.30 L353.70,287.30 L354.33,287.30 L354.97,287.30 L355.60,287.30 L356.23,287.30 L356.86,287.30 L357.50,287.30 L358.13,287.30 L358.76,287.30 L359.39,287.30 L360.02,287.30 L360.66,287.30 L361.29,287.30 L361.92,287.30 L362.55,287.30 L363.19,287.30 L363.82,287.30 L364.45,287.30 L365.08,287.30 L365.72,287.30 L366.35,287.30 L366.98,287.30 L367.61,287.30 L368.25,287.30 L368.88,287.30 L369.51,287.30 L370.14,287.30 L370.78,287.30 L371.41,287.30 L372.04,287.30 L372.67,287.30 L373.31,287.30 L373.94,287.30 L374.57,287.30 L375.20,287.30 L375.84,287.30 L376.47,287.30 L377.10,287.30 L377.73,287.30 L378.37,287.30 L379.00,287.30 L379.63,287.30 L380.26,287.30 L380.90,287.30 L381.53,287.30 L382.16,287.30 L382.79,287.30 L383.43,287.30 L384.06,287.30 L384.69,287.30 L385.32,287.30 L385.96,287.30 L386.59,287.30 L387.22,287.30 L387.86,287.30 L388.49,287.30 L389.12,287.30 L389.75,287.30 L390.38,287.30 L391.02,287.30 L391.65,287.30 L392.28,287.30 L392.92,287.30 L393.55,287.30 L394.18,287.30 L394.81,287.30 L395.44,287.30 L396.08,287.30 L396.71,287.30 L397.34,287.30 L397.98,287.30 L398.61,287.30 L399.24,287.30 L399.87,287.30 L400.50,287.30 L401.14,287.30 L401.77,287.30 L402.40,287.30 L403.04,287.30 L403.67,287.30 L404.30,287.30 L404.93,287.30 L405.56,287.30 L406.20,287.30 L406.83,287.30 L407.46,287.30 L408.10,287.30 L408.73,287.30 L409.36,287.30 L409.99,287.30 L410.62,287.30 L411.26,287.30 L411.89,287.30 L412.52,287.30 L413.16,287.30 L413.79,287.30 L414.42,287.30 L415.05,287.30 L415.69,287.30 L416.32,287.30 L416.95,287.30 L417.58,287.30 L418.22,287.30 L418.85,287.30 L419.48,287.30 L420.11,287.30 L420.75,287.30 L421.38,287.30 L422.01,287.30 L422.64,287.30 L423.28,287.30 L423.91,287.30 L424.54,287.30 L425.17,287.30 L425.80,287.30 L426.44,287.30 L427.07,287.30 L427.70,287.30 L428.33,287.30 L428.97,287.30 L429.60,287.30 L430.23,287.30 L430.86,287.30 L431.50,287.30 L432.13,287.30 L432.76,287.30 L433.39,287.30 L434.03,287.30 L434.66,287.30 L435.29,287.30 L435.92,287.30 L436.56,287.30 L437.19,287.30 L437.82,287.30 L438.45,287.30 L439.09,287.30 L439.72,287.30 L440.35,287.30 L440.98,287.30 L441.62,287.30 L442.25,287.30 L442.88,287.30 L443.51,287.30 L444.15,287.30 L444.78,287.30 L445.41,287.30 L446.04,287.30 L446.68,287.30 L447.31,287.30 L447.94,287.30 L448.57,287.30 L449.21,287.30 L449.84,287.30 L450.47,287.30 L451.11,287.30 L451.74,287.30 L452.37,287.30 L453.00,287.30 L453.63,287.30 L454.27,287.30 L454.90,287.30 L455.53,287.30 L456.17,287.30 L456.80,287.30 L457.43,287.30 L458.06,287.30 L458.69,287.30 L459.33,287.30 L459.96,287.30 L460.59,287.30 L461.23,287.30 L461.86,287.30 L462.49,287.30 L463.12,287.30 L463.75,287.30 L464.39,287.30 L465.02,287.30 L465.65,287.30 L466.29,287.30 L466.92,287.30 L467.55,287.30 L468.18,287.30 L468.81,287.30 L469.45,287.30 L470.08,287.30 L470.71,287.30 L471.35,287.30 L471.98,287.30 L472.61,287.30 L473.24,287.30 L473.88,287.30 L474.51,287.30 L475.14,287.30 L475.77,287.30 L476.41,287.30 L477.04,287.30 L477.67,287.30 L478.30,287.30 L478.94,287.30 L479.57,287.30 L480.20,287.30 L480.83,287.30 L481.47,287.30 L482.10,287.30 L482.73,287.30 L483.36,287.30 L484.00,287.30 L484.63,287.30 L485.26,287.30 L485.89,287.30 L486.53,287.30 L487.16,287.30 L487.79,287.30 L488.42,287.30 L489.06,287.30 L489.69,287.30 L490.32,287.30 L490.95,287.30 L491.58,287.30 L492.22,287.30 L492.85,287.30 L493.48,287.30 L494.11,287.30 L494.75,287.30 L495.38,287.30 L496.01,287.30 L496.64,287.30 L497.28,287.30 L497.91,287.30 L498.54,287.30 L499.17,287.30 L499.81,287.30 L500.44,287.30 L501.07,287.30 L501.70,287.30 L502.34,287.30 L502.97,287.30 L503.60,287.30 L504.23,287.30 L504.87,287.30 L505.50,287.30 L506.13,287.30 L506.76,287.30 L507.40,287.30 L508.03,287.30 L508.66,287.30 L509.29,287.30 L509.93,287.30 L510.56,287.30 L511.19,287.30 L511.82,287.30 L512.46,287.30 L513.09,287.30 L513.72,287.30 L514.36,287.30 L514.99,287.30 L515.62,287.30 L516.25,287.30 L516.88,287.30 L517.52,287.30 L518.15,287.30 L518.78,287.30 L519.42,287.30 L520.05,287.30 L520.68,287.30 L521.31,287.30 L521.95,287.30 L522.58,287.30 L523.21,287.30 L523.84,287.30 L524.48,287.30 L525.11,287.30 L525.74,287.30 L526.37,287.30 L527.00,287.30 L527.64,287.30 L528.27,287.30 L528.90,287.30 L529.54,287.30 L530.17,287.30 L530.80,287.30 L531.43,287.30 L532.07,287.30 L532.70,287.30 L533.33,287.30 L533.96,287.30 L534.60,287.30 L535.23,287.30 L535.86,287.30 L536.49,287.30 L537.12,287.30 L537.76,287.30 L538.39,287.30 L539.02,287.30 L539.66,287.30 L540.29,287.30 L540.92,287.30 L541.55,287.30 L542.19,287.30 L542.82,287.30 L543.45,287.30 L544.08,287.30 L544.72,287.30 L545.35,287.30 L545.98,287.30 L546.61,287.30 L547.25,287.30 L547.88,287.30 L548.51,287.30 L549.14,287.30 L549.78,287.30 L550.41,287.30 L551.04,287.30 L551.67,287.30 L552.31,287.30 L552.94,287.30 L553.57,287.30 L554.20,287.30 L554.84,287.30 L555.47,287.30 L556.10,287.30 L556.73,287.30 L557.37,287.30 L558.00,287.30 L558.63,287.30 L559.26,287.30 L559.89,287.30 L560.53,287.30 L561.16,287.30 L561.79,287.30 L562.42,287.30 L563.06,287.30 L563.69,287.30 L564.32,287.30 L564.96,287.30 L565.59,287.30 L566.22,287.30 L566.85,287.30 L567.49,287.30 L568.12,287.30 L568.75,287.30 L569.38,287.30 L570.01,287.30 L570.65,287.30 L571.28,287.30 L571.91,287.30 L572.54,287.30 L573.18,287.30 L573.81,287.30 L574.44,287.30 L575.08,287.30 L575.71,287.30 L576.34,287.30 L576.97,287.30 L577.61,287.30 L578.24,287.30 L578.87,287.30 L579.50,287.30 L580.13,287.30 L580.77,287.30 L581.40,287.30 L582.03,287.30 L582.67,287.30 L583.30,287.30 L583.93,287.30 L584.56,287.30 L585.20,287.30 L585.83,287.30 L586.46,287.30 L587.09,287.30 L587.73,287.30 L588.36,287.30 L588.99,287.30 L589.62,287.30 L590.25,287.30 L590.89,287.30 L591.52,287.30 L592.15,287.30 L592.79,287.30 L593.42,287.30 L594.05,287.30 L594.68,287.30 L595.32,287.30 L595.95,287.30 L596.58,287.30 L597.21,287.30 L597.85,287.30 L598.48,287.30 L599.11,287.30 L599.74,287.30 L600.38,287.30 L601.01,287.30 L601.64,287.30 L602.27,287.30 L602.91,287.30 L603.54,287.30 L604.17,287.30 L604.80,287.30 L605.44,287.30 L606.07,287.30 L606.70,287.30 L607.33,287.30 L607.97,287.30 L608.60,287.30 L609.23,287.30 L609.86,287.30 L610.50,287.30 L611.13,287.30 L611.76,287.30 L612.39,287.30 L613.02,287.30 L613.66,287.30 L614.29,287.30 L614.92,287.30 L615.56,287.30 L616.19,287.30 L616.82,287.30 L617.45,287.30 L618.09,287.30 L618.72,287.30 L619.35,287.30 L619.98,287.30 L620.62,287.30 L621.25,287.30 L621.88,287.30 L622.51,287.30 L623.14,287.30 L623.78,287.30 L624.41,287.30 L625.04,287.30 L625.68,287.30 L626.31,287.30 L626.94,287.30 L627.57,287.30 L628.21,287.30 L628.84,287.30 L629.47,287.30 L630.10,287.30 L630.74,287.30 L631.37,287.30 L632.00,287.30 L632.63,287.30 L633.26,287.30 L633.90,287.30 L634.53,287.30 L635.16,287.30 L635.80,287.30 L636.43,287.30 L637.06,287.30 L637.69,287.30 L638.33,287.30 L638.96,287.30 L639.59,287.30 L640.22,287.30 L640.86,287.30 L641.49,287.30 L642.12,287.30 L642.75,287.30 L643.39,287.30 L644.02,287.30 L644.65,287.30 L645.28,287.30 L645.92,287.30 L646.55,287.30 L647.18,287.30 L647.81,287.30 L648.45,287.30 L649.08,287.30 L649.71,287.30 L650.34,287.30 L650.98,287.30 L651.61,287.30 L652.24,287.30 L652.87,287.30 L653.51,287.30 L654.14,287.30 L654.77,287.30 L655.40,287.30 L656.03,287.30 L656.67,287.30 L657.30,287.30 L657.93,287.30 L658.57,287.30 L659.20,287.30 L659.83,287.30 L660.46,287.30 L661.10,287.30 L661.73,287.30 L662.36,287.30 L662.99,287.30 L663.63,287.30 L664.26,287.30 L664.89,287.30 L665.52,287.30 L666.15,287.30 L666.79,287.30 L667.42,287.30 L668.05,287.30 L668.69,287.30 L669.32,287.30 L669.95,287.30 L670.58,287.30 L671.22,287.30 L671.85,287.30 L672.48,287.30 L673.11,287.30 L673.75,287.30 L674.38,287.30 L675.01,287.30 L675.64,287.30 L676.27,287.30 L676.91,287.30 L677.54,287.30 L678.17,287.30 L678.81,287.30 L679.44,287.30 L680.07,287.30 L680.70,287.30 L681.34,287.30 L681.97,287.30 L682.60,287.30 L683.23,287.30 L683.87,287.30 L684.50,287.30 L685.13,287.30 L685.76,287.30 L686.39,287.30 L687.03,287.30 L687.66,287.30 L688.29,287.30 L688.93,287.30 L689.56,287.30 L690.19,287.30 L690.82,287.30 L691.46,287.30 L692.09,287.30 L692.72,287.30 L693.35,287.30 L693.99,287.30 L694.62,287.30 L695.25,287.30 L695.88,287.30 L696.51,287.30 L697.15,287.30 L697.78,287.30 L698.41,287.30 L699.05,287.30 L699.68,287.30 L700.31,287.30 L700.94,287.30 L701.58,287.30 L702.21,287.30 L702.84,287.30 L703.47,287.30 L704.11,287.30 L704.74,287.30 L705.37,287.30 L706.00,287.30 L706.64,287.30 L707.27,287.30 L707.90,287.30 L708.53,287.30 L709.17,287.30 L709.80,287.30 L710.43,287.30 L711.06,287.30 L711.70,287.30 L712.33,287.30 L712.96,287.30 L713.59,287.30 L714.23,287.30 L714.86,287.30 L715.49,287.30 L716.12,287.30 L716.76,287.30 L717.39,287.30 L718.02,287.30 L718.65,287.30 L719.28,287.30 L719.92,287.30 L720.55,287.30 L721.18,287.30 L721.82,287.30 L722.45,287.30 L723.08,287.30 L723.71,287.30 L724.35,287.30 L724.98,287.30 L725.61,287.30 L726.24,287.30 L726.88,287.30 L727.51,287.30 L728.14,287.30 L728.77,287.30 L729.40,287.30 L730.04,287.30 L730.67,287.30 L731.30,287.30 L731.94,287.30 L732.57,287.30 L733.20,287.30" fill="none" stroke="#ff0000" stroke-width="3.0" stroke-linejoin="round"/>
<path d="M100.70,261.70 L101.33,260.35 L101.97,258.95 L102.60,257.50 L103.23,256.01 L103.86,254.47 L104.50,252.89 L105.13,251.26 L105.76,249.59 L106.39,247.88 L107.03,246.13 L107.66,244.34 L108.29,242.51 L108.92,240.65 L109.56,238.75 L110.19,236.82 L110.82,234.86 L111.45,232.87 L112.09,230.86 L112.72,228.83 L113.35,226.77 L113.98,224.70 L114.62,222.62 L115.25,220.53 L115.88,218.43 L116.51,216.33 L117.15,214.23 L117.78,212.14 L118.41,210.06 L119.04,207.99 L119.67,205.94 L120.31,203.91 L120.94,201.90 L121.57,199.93 L122.21,197.99 L122.84,196.09 L123.47,194.23 L124.10,192.42 L124.73,190.66 L125.37,188.95 L126.00,187.31 L126.63,185.73 L127.27,184.21 L127.90,182.77 L128.53,181.40 L129.16,180.11 L129.80,178.91 L130.43,177.78 L131.06,176.75 L131.69,175.80 L132.32,174.95 L132.96,174.19 L133.59,173.53 L134.22,172.97 L134.86,172.51 L135.49,172.14 L136.12,171.89 L136.75,171.73 L137.38,171.68 L138.02,171.73 L138.65,171.89 L139.28,172.14 L139.91,172.51 L140.55,172.97 L141.18,173.53 L141.81,174.19 L142.44,174.95 L143.08,175.80 L143.71,176.75 L144.34,177.78 L144.98,178.91 L145.61,180.11 L146.24,181.40 L146.87,182.77 L147.50,184.21 L148.14,185.73 L148.77,187.31 L149.40,188.95 L150.03,190.66 L150.67,192.42 L151.30,194.23 L151.93,196.09 L152.56,197.99 L153.20,199.93 L153.83,201.90 L154.46,203.91 L155.09,205.94 L155.73,207.99 L156.36,210.06 L156.99,212.14 L157.62,214.23 L158.26,216.33 L158.89,218.43 L159.52,220.53 L160.16,222.62 L160.79,224.70 L161.42,226.77 L162.05,228.83 L162.69,230.86 L163.32,232.87 L163.95,234.86 L164.58,236.82 L165.22,238.75 L165.85,240.65 L166.48,242.51 L167.11,244.34 L167.75,246.13 L168.38,247.88 L169.01,249.59 L169.64,251.26 L170.28,252.89 L170.91,254.47 L171.54,256.01 L172.17,257.50 L172.81,258.95 L173.44,260.35 L174.07,261.70 L174.70,263.01 L175.33,264.27 L175.97,265.49 L176.60,266.66 L177.23,267.78 L177.87,268.86 L178.50,269.90 L179.13,270.89 L179.76,271.84 L180.40,272.75 L181.03,273.61 L181.66,274.44 L182.29,275.23 L182.93,275.98 L183.56,276.69 L184.19,277.37 L184.82,278.01 L185.46,278.62 L186.09,279.19 L186.72,279.74 L187.35,280.25 L187.99,280.73 L188.62,281.19 L189.25,281.62 L189.88,282.03 L190.51,282.41 L191.15,282.76 L191.78,283.10 L192.41,283.41 L193.05,283.71 L193.68,283.98 L194.31,284.24 L194.94,284.47 L195.57,284.70 L196.21,284.90 L196.84,285.10 L197.47,285.28 L198.11,285.44 L198.74,285.60 L199.37,285.74 L200.00,285.87 L200.63,285.99 L201.27,286.10 L201.90,286.21 L202.53,286.30 L203.17,286.39 L203.80,286.47 L204.43,286.55 L205.06,286.62 L205.69,286.68 L206.33,286.74 L206.96,286.79 L207.59,286.84 L208.22,286.88 L208.86,286.92 L209.49,286.96 L210.12,286.99 L210.75,287.02 L211.39,287.05 L212.02,287.07 L212.65,287.10 L213.29,287.12 L213.92,287.14 L214.55,287.15 L215.18,287.17 L215.81,287.18 L216.45,287.19 L217.08,287.21 L217.71,287.22 L218.35,287.23 L218.98,287.23 L219.61,287.24 L220.24,287.25 L220.88,287.25 L221.51,287.26 L222.14,287.26 L222.77,287.27 L223.41,287.27 L224.04,287.27 L224.67,287.28 L225.30,287.28 L225.94,287.28 L226.57,287.28 L227.20,287.29 L227.83,287.29 L228.47,287.29 L229.10,287.29 L229.73,287.29 L230.36,287.29 L231.00,287.29 L231.63,287.29 L232.26,287.30 L232.89,287.30 L233.53,287.30 L234.16,287.30 L234.79,287.30 L235.42,287.30 L236.06,287.30 L236.69,287.30 L237.32,287.30 L237.95,287.30 L238.59,287.30 L239.22,287.30 L239.85,287.30 L240.48,287.30 L241.12,287.30 L241.75,287.30 L242.38,287.30 L243.01,287.30 L243.65,287.30 L244.28,287.30 L244.91,287.30 L245.54,287.30 L246.18,287.30 L246.81,287.30 L247.44,287.30 L248.07,287.30 L248.70,287.30 L249.34,287.30 L249.97,287.30 L250.60,287.30 L251.24,287.30 L251.87,287.30 L252.50,287.30 L253.13,287.30 L253.76,287.30 L254.40,287.30 L255.03,287.30 L255.66,287.30 L256.30,287.30 L256.93,287.30 L257.56,287.30 L258.19,287.30 L258.82,287.30 L259.46,287.30 L260.09,287.30 L260.72,287.30 L261.36,287.30 L261.99,287.30 L262.62,287.30 L263.25,287.30 L263.88,287.30 L264.52,287.30 L265.15,287.30 L265.78,287.30 L266.42,287.30 L267.05,287.30 L267.68,287.30 L268.31,287.30 L268.94,287.30 L269.58,287.30 L270.21,287.30 L270.84,287.30 L271.48,287.30 L272.11,287.30 L272.74,287.30 L273.37,287.30 L274.00,287.30 L274.64,287.30 L275.27,287.30 L275.90,287.30 L276.54,287.30 L277.17,287.30 L277.80,287.30 L278.43,287.30 L279.06,287.30 L279.70,287.30 L280.33,287.30 L280.96,287.30 L281.59,287.30 L282.23,287.30 L282.86,287.30 L283.49,287.30 L284.12,287.30 L284.76,287.30 L285.39,287.30 L286.02,287.30 L286.65,287.30 L287.29,287.30 L287.92,287.30 L288.55,287.30 L289.19,287.30 L289.82,287.30 L290.45,287.30 L291.08,287.30 L291.72,287.30 L292.35,287.30 L292.98,287.30 L293.61,287.30 L294.25,287.30 L294.88,287.30 L295.51,287.30 L296.14,287.30 L296.78,287.30 L297.41,287.30 L298.04,287.30 L298.67,287.30 L299.31,287.30 L299.94,287.30 L300.57,287.30 L301.20,287.30 L301.84,287.30 L302.47,287.30 L303.10,287.30 L303.73,287.30 L304.37,287.30 L305.00,287.30 L305.63,287.30 L306.26,287.30 L306.90,287.30 L307.53,287.30 L308.16,287.30 L308.79,287.30 L309.43,287.30 L310.06,287.30 L310.69,287.30 L311.32,287.30 L311.95,287.30 L312.59,287.30 L313.22,287.30 L313.85,287.30 L314.49,287.30 L315.12,287.30 L315.75,287.30 L316.38,287.30 L317.01,287.30 L317.65,287.30 L318.28,287.30 L318.91,287.30 L319.55,287.30 L320.18,287.30 L320.81,287.30 L321.44,287.30 L322.07,287.30 L322.71,287.30 L323.34,287.30 L323.97,287.30 L324.61,287.30 L325.24,287.30 L325.87,287.30 L326.50,287.30 L327.13,287.30 L327.77,287.30 L328.40,287.30 L329.03,287.30 L329.67,287.30 L330.30,287.30 L330.93,287.30 L331.56,287.30 L332.19,287.30 L332.83,287.30 L333.46,287.30 L334.09,287.30 L334.73,287.30 L335.36,287.30 L335.99,287.30 L336.62,287.30 L337.25,287.30 L337.89,287.30 L338.52,287.30 L339.15,287.30 L339.79,287.30 L340.42,287.30 L341.05,287.30 L341.68,287.30 L342.31,287.30 L342.95,287.30 L343.58,287.30 L344.21,287.30 L344.84,287.30 L345.48,287.30 L346.11,287.30 L346.74,287.30 L347.38,287.30 L348.01,287.30 L348.64,287.30 L349.27,287.30 L349.90,287.30 L350.54,287.30 L351.17,287.30 L351.80,287.30 L352.44,287.30 L353.07,287.30 L353.70,287.30 L354.33,287.30 L354.97,287.30 L355.60,287.30 L356.23,287.30 L356.86,287.30 L357.50,287.30 L358.13,287.30 L358.76,287.30 L359.39,287.30 L360.02,287.30 L360.66,287.30 L361.29,287.30 L361.92,287.30 L362.55,287.30 L363.19,287.30 L363.82,287.30 L364.45,287.30 L365.08,287.30 L365.72,287.30 L366.35,287.30 L366.98,287.30 L367.61,287.30 L368.25,287.30 L368.88,287.30 L369.51,287.30 L370.14,287.30 L370.78,287.30 L371.41,287.30 L372.04,287.30 L372.67,287.30 L373.31,287.30 L373.94,287.30 L374.57,287.30 L375.20,287.30 L375.84,287.30 L376.47,287.30 L377.10,287.30 L377.73,287.30 L378.37,287.30 L379.00,287.30 L379.63,287.30 L380.26,287.30 L380.90,287.30 L381.53,287.30 L382.16,287.30 L382.79,287.30 L383.43,287.30 L384.06,287.30 L384.69,287.30 L385.32,287.30 L385.96,287.30 L386.59,287.30 L387.22,287.30 L387.86,287.30 L388.49,287.30 L389.12,287.30 L389.75,287.30 L390.38,287.30 L391.02,287.30 L391.65,287.30 L392.28,287.30 L392.92,287.30 L393.55,287.30 L394.18,287.30 L394.81,287.30 L395.44,287.30 L396.08,287.30 L396.71,287.30 L397.34,287.30 L397.98,287.30 L398.61,287.30 L399.24,287.30 L399.87,287.30 L400.50,287.30 L401.14,287.30 L401.77,287.30 L402.40,287.30 L403.04,287.30 L403.67,287.30 L404.30,287.30 L404.93,287.30 L405.56,287.30 L406.20,287.30 L406.83,287.30 L407.46,287.30 L408.10,287.30 L408.73,287.30 L409.36,287.30 L409.99,287.30 L410.62,287.30 L411.26,287.30 L411.89,287.30 L412.52,287.30 L413.16,287.30 L413.79,287.30 L414.42,287.30 L415.05,287.30 L415.69,287.30 L416.32,287.30 L416.95,287.30 L417.58,287.30 L418.22,287.30 L418.85,287.30 L419.48,287.30 L420.11,287.30 L420.75,287.30 L421.38,287.30 L422.01,287.30 L422.64,287.30 L423.28,287.30 L423.91,287.30 L424.54,287.30 L425.17,287.30 L425.80,287.30 L426.44,287.30 L427.07,287.30 L427.70,287.30 L428.33,287.30 L428.97,287.30 L429.60,287.30 L430.23,287.30 L430.86,287.30 L431.50,287.30 L432.13,287.30 L432.76,287.30 L433.39,287.30 L434.03,287.30 L434.66,287.30 L435.29,287.30 L435.92,287.30 L436.56,287.30 L437.19,287.30 L437.82,287.30 L438.45,287.30 L439.09,287.30 L439.72,287.30 L440.35,287.30 L440.98,287.30 L441.62,287.30 L442.25,287.30 L442.88,287.30 L443.51,287.30 L444.15,287.30 L444.78,287.30 L445.41,287.30 L446.04,287.30 L446.68,287.30 L447.31,287.30 L447.94,287.30 L448.57,287.30 L449.21,287.30 L449.84,287.30 L450.47,287.30 L451.11,287.30 L451.74,287.30 L452.37,287.30 L453.00,287.30 L453.63,287.30 L454.27,287.30 L454.90,287.30 L455.53,287.30 L456.17,287.30 L456.80,287.30 L457.43,287.30 L458.06,287.30 L458.69,287.30 L459.33,287.30 L459.96,287.30 L460.59,287.30 L461.23,287.30 L461.86,287.30 L462.49,287.30 L463.12,287.30 L463.75,287.30 L464.39,287.30 L465.02,287.30 L465.65,287.30 L466.29,287.30 L466.92,287.30 L467.55,287.30 L468.18,287.30 L468.81,287.30 L469.45,287.30 L470.08,287.30 L470.71,287.30 L471.35,287.30 L471.98,287.30 L472.61,287.30 L473.24,287.30 L473.88,287.30 L474.51,287.30 L475.14,287.30 L475.77,287.30 L476.41,287.30 L477.04,287.30 L477.67,287.30 L478.30,287.30 L478.94,287.30 L479.57,287.30 L480.20,287.30 L480.83,287.30 L481.47,287.30 L482.10,287.30 L482.73,287.30 L483.36,287.30 L484.00,287.30 L484.63,287.30 L485.26,287.30 L485.89,287.30 L486.53,287.30 L487.16,287.30 L487.79,287.30 L488.42,287.30 L489.06,287.30 L489.69,287.30 L490.32,287.30 L490.95,287.30 L491.58,287.30 L492.22,287.30 L492.85,287.30 L493.48,287.30 L494.11,287.30 L494.75,287.30 L495.38,287.30 L496.01,287.30 L496.64,287.30 L497.28,287.30 L497.91,287.30 L498.54,287.30 L499.17,287.30 L499.81,287.30 L500.44,287.30 L501.07,287.30 L501.70,287.30 L502.34,287.30 L502.97,287.30 L503.60,287.30 L504.23,287.30 L504.87,287.30 L505.50,287.30 L506.13,287.30 L506.76,287.30 L507.40,287.30 L508.03,287.30 L508.66,287.30 L509.29,287.30 L509.93,287.30 L510.56,287.30 L511.19,287.30 L511.82,287.30 L512.46,287.30 L513.09,287.30 L513.72,287.30 L514.36,287.30 L514.99,287.30 L515.62,287.30 L516.25,287.30 L516.88,287.30 L517.52,287.30 L518.15,287.30 L518.78,287.30 L519.42,287.30 L520.05,287.30 L520.68,287.30 L521.31,287.30 L521.95,287.30 L522.58,287.30 L523.21,287.30 L523.84,287.30 L524.48,287.30 L525.11,287.30 L525.74,287.30 L526.37,287.30 L527.00,287.30 L527.64,287.30 L528.27,287.30 L528.90,287.30 L529.54,287.30 L530.17,287.30 L530.80,287.30 L531.43,287.30 L532.07,287.30 L532.70,287.30 L533.33,287.30 L533.96,287.30 L534.60,287.30 L535.23,287.30 L535.86,287.30 L536.49,287.30 L537.12,287.30 L537.76,287.30 L538.39,287.30 L539.02,287.30 L539.66,287.30 L540.29,287.30 L540.92,287.30 L541.55,287.30 L542.19,287.30 L542.82,287.30 L543.45,287.30 L544.08,287.30 L544.72,287.30 L545.35,287.30 L545.98,287.30 L546.61,287.30 L547.25,287.30 L547.88,287.30 L548.51,287.30 L549.14,287.30 L549.78,287.30 L550.41,287.30 L551.04,287.30 L551.67,287.30 L552.31,287.30 L552.94,287.30 L553.57,287.30 L554.20,287.30 L554.84,287.30 L555.47,287.30 L556.10,287.30 L556.73,287.30 L557.37,287.30 L558.00,287.30 L558.63,287.30 L559.26,287.30 L559.89,287.30 L560.53,287.30 L561.16,287.30 L561.79,287.30 L562.42,287.30 L563.06,287.30 L563.69,287.30 L564.32,287.30 L564.96,287.30 L565.59,287.30 L566.22,287.30 L566.85,287.30 L567.49,287.30 L568.12,287.30 L568.75,287.30 L569.38,287.30 L570.01,287.30 L570.65,287.30 L571.28,287.30 L571.91,287.30 L572.54,287.30 L573.18,287.30 L573.81,287.30 L574.44,287.30 L575.08,287.30 L575.71,287.30 L576.34,287.30 L576.97,287.30 L577.61,287.30 L578.24,287.30 L578.87,287.30 L579.50,287.30 L580.13,287.30 L580.77,287.30 L581.40,287.30 L582.03,287.30 L582.67,287.30 L583.30,287.30 L583.93,287.30 L584.56,287.30 L585.20,287.30 L585.83,287.30 L586.46,287.30 L587.09,287.30 L587.73,287.30 L588.36,287.30 L588.99,287.30 L589.62,287.30 L590.25,287.30 L590.89,287.30 L591.52,287.30 L592.15,287.30 L592.79,287.30 L593.42,287.30 L594.05,287.30 L594.68,287.30 L595.32,287.30 L595.95,287.30 L596.58,287.30 L597.21,287.30 L597.85,287.30 L598.48,287.30 L599.11,287.30 L599.74,287.30 L600.38,287.30 L601.01,287.30 L601.64,287.30 L602.27,287.30 L602.91,287.30 L603.54,287.30 L604.17,287.30 L604.80,287.30 L605.44,287.30 L606.07,287.30 L606.70,287.30 L607.33,287.30 L607.97,287.30 L608.60,287.30 L609.23,287.30 L609.86,287.30 L610.50,287.30 L611.13,287.30 L611.76,287.30 L612.39,287.30 L613.02,287.30 L613.66,287.30 L614.29,287.30 L614.92,287.30 L615.56,287.30 L616.19,287.30 L616.82,287.30 L617.45,287.30 L618.09,287.30 L618.72,287.30 L619.35,287.30 L619.98,287.30 L620.62,287.30 L621.25,287.30 L621.88,287.30 L622.51,287.30 L623.14,287.30 L623.78,287.30 L624.41,287.30 L625.04,287.30 L625.68,287.30 L626.31,287.30 L626.94,287.30 L627.57,287.30 L628.21,287.30 L628.84,287.30 L629.47,287.30 L630.10,287.30 L630.74,287.30 L631.37,287.30 L632.00,287.30 L632.63,287.30 L633.26,287.30 L633.90,287.30 L634.53,287.30 L635.16,287.30 L635.80,287.30 L636.43,287.30 L637.06,287.30 L637.69,287.30 L638.33,287.30 L638.96,287.30 L639.59,287.30 L640.22,287.30 L640.86,287.30 L641.49,287.30 L642.12,287.30 L642.75,287.30 L643.39,287.30 L644.02,287.30 L644.65,287.30 L645.28,287.30 L645.92,287.30 L646.55,287.30 L647.18,287.30 L647.81,287.30 L648.45,287.30 L649.08,287.30 L649.71,287.30 L650.34,287.30 L650.98,287.30 L651.61,287.30 L652.24,287.30 L652.87,287.30 L653.51,287.30 L654.14,287.30 L654.77,287.30 L655.40,287.30 L656.03,287.30 L656.67,287.30 L657.30,287.30 L657.93,287.30 L658.57,287.30 L659.20,287.30 L659.83,287.30 L660.46,287.30 L661.10,287.30 L661.73,287.30 L662.36,287.30 L662.99,287.30 L663.63,287.30 L664.26,287.30 L664.89,287.30 L665.52,287.30 L666.15,287.30 L666.79,287.30 L667.42,287.30 L668.05,287.30 L668.69,287.30 L669.32,287.30 L669.95,287.30 L670.58,287.30 L671.22,287.30 L671.85,287.30 L672.48,287.30 L673.11,287.30 L673.75,287.30 L674.38,287.30 L675.01,287.30 L675.64,287.30 L676.27,287.30 L676.91,287.30 L677.54,287.30 L678.17,287.30 L678.81,287.30 L679.44,287.30 L680.07,287.30 L680.70,287.30 L681.34,287.30 L681.97,287.30 L682.60,287.30 L683.23,287.30 L683.87,287.30 L684.50,287.30 L685.13,287.30 L685.76,287.30 L686.39,287.30 L687.03,287.30 L687.66,287.30 L688.29,287.30 L688.93,287.30 L689.56,287.30 L690.19,287.30 L690.82,287.30 L691.46,287.30 L692.09,287.30 L692.72,287.30 L693.35,287.30 L693.99,287.30 L694.62,287.30 L695.25,287.30 L695.88,287.30 L696.51,287.30 L697.15,287.30 L697.78,287.30 L698.41,287.30 L699.05,287.30 L699.68,287.30 L700.31,287.30 L700.94,287.30 L701.58,287.30 L702.21,287.30 L702.84,287.30 L703.47,287.30 L704.11,287.30 L704.74,287.30 L705.37,287.30 L706.00,287.30 L706.64,287.30 L707.27,287.30 L707.90,287.30 L708.53,287.30 L709.17,287.30 L709.80,287.30 L710.43,287.30 L711.06,287.30 L711.70,287.30 L712.33,287.30 L712.96,287.30 L713.59,287.30 L714.23,287.30 L714.86,287.30 L715.49,287.30 L716.12,287.30 L716.76,287.30 L717.39,287.30 L718.02,287.30 L718.65,287.30 L719.28,287.30 L719.92,287.30 L720.55,287.30 L721.18,287.30 L721.82,287.30 L722.45,287.30 L723.08,287.30 L723.71,287.30 L724.35,287.30 L724.98,287.30 L725.61,287.30 L726.24,287.30 L726.88,287.30 L727.51,287.30 L728.14,287.30 L728.77,287.30 L729.40,287.30 L730.04,287.30 L730.67,287.30 L731.30,287.30 L731.94,287.30 L732.57,287.30 L733.20,287.30" fill="none" stroke="#008000" stroke-width="3.0" stroke-linejoin="round"/>
<path d="M100.70,286.84 L101.33,286.80 L101.97,286.76 L102.60,286.71 L103.23,286.65 L103.86,286.60 L104.50,286.54 L105.13,286.47 L105.76,286.40 L106.39,286.32 L107.03,286.24 L107.66,286.15 L108.29,286.05 L108.92,285.95 L109.56,285.84 L110.19,285.72 L110.82,285.60 L111.45,285.46 L112.09,285.32 L112.72,285.17 L113.35,285.00 L113.98,284.83 L114.62,284.64 L115.25,284.44 L115.88,284.23 L116.51,284.01 L117.15,283.78 L117.78,283.52 L118.41,283.26 L119.04,282.98 L119.67,282.68 L120.31,282.37 L120.94,282.03 L121.57,281.68 L122.21,281.32 L122.84,280.93 L123.47,280.52 L124.10,280.09 L124.73,279.64 L125.37,279.16 L126.00,278.67 L126.63,278.15 L127.27,277.60 L127.90,277.03 L128.53,276.44 L129.16,275.82 L129.80,275.17 L130.43,274.50 L131.06,273.79 L131.69,273.06 L132.32,272.30 L132.96,271.52 L133.59,270.70 L134.22,269.85 L134.86,268.97 L135.49,268.07 L136.12,267.13 L136.75,266.17 L137.38,265.17 L138.02,264.14 L138.65,263.08 L139.28,262.00 L139.91,260.88 L140.55,259.74 L141.18,258.56 L141.81,257.36 L142.44,256.13 L143.08,254.87 L143.71,253.59 L144.34,252.28 L144.98,250.95 L145.61,249.60 L146.24,248.22 L146.87,246.82 L147.50,245.41 L148.14,243.97 L148.77,242.52 L149.40,241.05 L150.03,239.57 L150.67,238.08 L151.30,236.58 L151.93,235.08 L152.56,233.56 L153.20,232.05 L153.83,230.53 L154.46,229.01 L155.09,227.50 L155.73,225.99 L156.36,224.49 L156.99,223.00 L157.62,221.52 L158.26,220.06 L158.89,218.62 L159.52,217.19 L160.16,215.79 L160.79,214.41 L161.42,213.06 L162.05,211.75 L162.69,210.46 L163.32,209.21 L163.95,208.00 L164.58,206.82 L165.22,205.69 L165.85,204.61 L166.48,203.57 L167.11,202.58 L167.75,201.64 L168.38,200.75 L169.01,199.92 L169.64,199.14 L170.28,198.43 L170.91,197.77 L171.54,197.17 L172.17,196.63 L172.81,196.16 L173.44,195.76 L174.07,195.41 L174.70,195.14 L175.33,194.93 L175.97,194.79 L176.60,194.71 L177.23,194.71 L177.87,194.77 L178.50,194.90 L179.13,195.09 L179.76,195.35 L180.40,195.68 L181.03,196.08 L181.66,196.54 L182.29,197.06 L182.93,197.64 L183.56,198.29 L184.19,198.99 L184.82,199.76 L185.46,200.58 L186.09,201.46 L186.72,202.39 L187.35,203.37 L187.99,204.40 L188.62,205.47 L189.25,206.59 L189.88,207.76 L190.51,208.96 L191.15,210.21 L191.78,211.49 L192.41,212.80 L193.05,214.14 L193.68,215.51 L194.31,216.91 L194.94,218.33 L195.57,219.77 L196.21,221.23 L196.84,222.70 L197.47,224.19 L198.11,225.69 L198.74,227.20 L199.37,228.71 L200.00,230.23 L200.63,231.74 L201.27,233.26 L201.90,234.77 L202.53,236.28 L203.17,237.78 L203.80,239.28 L204.43,240.76 L205.06,242.23 L205.69,243.68 L206.33,245.12 L206.96,246.54 L207.59,247.94 L208.22,249.32 L208.86,250.68 L209.49,252.02 L210.12,253.33 L210.75,254.62 L211.39,255.88 L212.02,257.12 L212.65,258.32 L213.29,259.50 L213.92,260.65 L214.55,261.78 L215.18,262.87 L215.81,263.93 L216.45,264.97 L217.08,265.97 L217.71,266.94 L218.35,267.88 L218.98,268.80 L219.61,269.68 L220.24,270.53 L220.88,271.35 L221.51,272.15 L222.14,272.91 L222.77,273.65 L223.41,274.36 L224.04,275.04 L224.67,275.69 L225.30,276.32 L225.94,276.92 L226.57,277.49 L227.20,278.04 L227.83,278.56 L228.47,279.07 L229.10,279.54 L229.73,280.00 L230.36,280.43 L231.00,280.85 L231.63,281.24 L232.26,281.61 L232.89,281.97 L233.53,282.30 L234.16,282.62 L234.79,282.92 L235.42,283.20 L236.06,283.47 L236.69,283.73 L237.32,283.97 L237.95,284.19 L238.59,284.40 L239.22,284.60 L239.85,284.79 L240.48,284.97 L241.12,285.13 L241.75,285.29 L242.38,285.43 L243.01,285.57 L243.65,285.70 L244.28,285.82 L244.91,285.93 L245.54,286.03 L246.18,286.13 L246.81,286.22 L247.44,286.30 L248.07,286.38 L248.70,286.46 L249.34,286.52 L249.97,286.59 L250.60,286.64 L251.24,286.70 L251.87,286.75 L252.50,286.79 L253.13,286.84 L253.76,286.87 L254.40,286.91 L255.03,286.94 L255.66,286.97 L256.30,287.00 L256.93,287.03 L257.56,287.05 L258.19,287.08 L258.82,287.10 L259.46,287.11 L260.09,287.13 L260.72,287.15 L261.36,287.16 L261.99,287.17 L262.62,287.19 L263.25,287.20 L263.88,287.21 L264.52,287.22 L265.15,287.22 L265.78,287.23 L266.42,287.24 L267.05,287.24 L267.68,287.25 L268.31,287.25 L268.94,287.26 L269.58,287.26 L270.21,287.27 L270.84,287.27 L271.48,287.27 L272.11,287.28 L272.74,287.28 L273.37,287.28 L274.00,287.28 L274.64,287.28 L275.27,287.29 L275.90,287.29 L276.54,287.29 L277.17,287.29 L277.80,287.29 L278.43,287.29 L279.06,287.29 L279.70,287.29 L280.33,287.29 L280.96,287.30 L281.59,287.30 L282.23,287.30 L282.86,287.30 L283.49,287.30 L284.12,287.30 L284.76,287.30 L285.39,287.30 L286.02,287.30 L286.65,287.30 L287.29,287.30 L287.92,287.30 L288.55,287.30 L289.19,287.30 L289.82,287.30 L290.45,287.30 L291.08,287.30 L291.72,287.30 L292.35,287.30 L292.98,287.30 L293.61,287.30 L294.25,287.30 L294.88,287.30 L295.51,287.30 L296.14,287.30 L296.78,287.30 L297.41,287.30 L298.04,287.30 L298.67,287.30 L299.31,287.30 L299.94,287.30 L300.57,287.30 L301.20,287.30 L301.84,287.30 L302.47,287.30 L303.10,287.30 L303.73,287.30 L304.37,287.30 L305.00,287.30 L305.63,287.30 L306.26,287.30 L306.90,287.30 L307.53,287.30 L308.16,287.30 L308.79,287.30 L309.43,287.30 L310.06,287.30 L310.69,287.30 L311.32,287.30 L311.95,287.30 L312.59,287.30 L313.22,287.30 L313.85,287.30 L314.49,287.30 L315.12,287.30 L315.75,287.30 L316.38,287.30 L317.01,287.30 L317.65,287.30 L318.28,287.30 L318.91,287.30 L319.55,287.30 L320.18,287.30 L320.81,287.30 L321.44,287.30 L322.07,287.30 L322.71,287.30 L323.34,287.30 L323.97,287.30 L324.61,287.30 L325.24,287.30 L325.87,287.30 L326.50,287.30 L327.13,287.30 L327.77,287.30 L328.40,287.30 L329.03,287.30 L329.67,287.30 L330.30,287.30 L330.93,287.30 L331.56,287.30 L332.19,287.30 L332.83,287.30 L333.46,287.30 L334.09,287.30 L334.73,287.30 L335.36,287.30 L335.99,287.30 L336.62,287.30 L337.25,287.30 L337.89,287.30 L338.52,287.30 L339.15,287.30 L339.79,287.30 L340.42,287.30 L341.05,287.30 L341.68,287.30 L342.31,287.30 L342.95,287.30 L343.58,287.30 L344.21,287.30 L344.84,287.30 L345.48,287.30 L346.11,287.30 L346.74,287.30 L347.38,287.30 L348.01,287.30 L348.64,287.30 L349.27,287.30 L349.90,287.30 L350.54,287.30 L351.17,287.30 L351.80,287.30 L352.44,287.30 L353.07,287.30 L353.70,287.30 L354.33,287.30 L354.97,287.30 L355.60,287.30 L356.23,287.30 L356.86,287.30 L357.50,287.30 L358.13,287.30 L358.76,287.30 L359.39,287.30 L360.02,287.30 L360.66,287.30 L361.29,287.30 L361.92,287.30 L362.55,287.30 L363.19,287.30 L363.82,287.30 L364.45,287.30 L365.08,287.30 L365.72,287.30 L366.35,287.30 L366.98,287.30 L367.61,287.30 L368.25,287.30 L368.88,287.30 L369.51,287.30 L370.14,287.30 L370.78,287.30 L371.41,287.30 L372.04,287.30 L372.67,287.30 L373.31,287.30 L373.94,287.30 L374.57,287.30 L375.20,287.30 L375.84,287.30 L376.47,287.30 L377.10,287.30 L377.73,287.30 L378.37,287.30 L379.00,287.30 L379.63,287.30 L380.26,287.30 L380.90,287.30 L381.53,287.30 L382.16,287.30 L382.79,287.30 L383.43,287.30 L384.06,287.30 L384.69,287.30 L385.32,287.30 L385.96,287.30 L386.59,287.30 L387.22,287.30 L387.86,287.30 L388.49,287.30 L389.12,287.30 L389.75,287.30 L390.38,287.30 L391.02,287.30 L391.65,287.30 L392.28,287.30 L392.92,287.30 L393.55,287.30 L394.18,287.30 L394.81,287.30 L395.44,287.30 L396.08,287.30 L396.71,287.30 L397.34,287.30 L397.98,287.30 L398.61,287.30 L399.24,287.30 L399.87,287.30 L400.50,287.30 L401.14,287.30 L401.77,287.30 L402.40,287.30 L403.04,287.30 L403.67,287.30 L404.30,287.30 L404.93,287.30 L405.56,287.30 L406.20,287.30 L406.83,287.30 L407.46,287.30 L408.10,287.30 L408.73,287.30 L409.36,287.30 L409.99,287.30 L410.62,287.30 L411.26,287.30 L411.89,287.30 L412.52,287.30 L413.16,287.30 L413.79,287.30 L414.42,287.30 L415.05,287.30 L415.69,287.30 L416.32,287.30 L416.95,287.30 L417.58,287.30 L418.22,287.30 L418.85,287.30 L419.48,287.30 L420.11,287.30 L420.75,287.30 L421.38,287.30 L422.01,287.30 L422.64,287.30 L423.28,287.30 L423.91,287.30 L424.54,287.30 L425.17,287.30 L425.80,287.30 L426.44,287.30 L427.07,287.30 L427.70,287.30 L428.33,287.30 L428.97,287.30 L429.60,287.30 L430.23,287.30 L430.86,287.30 L431.50,287.30 L432.13,287.30 L432.76,287.30 L433.39,287.30 L434.03,287.30 L434.66,287.30 L435.29,287.30 L435.92,287.30 L436.56,287.30 L437.19,287.30 L437.82,287.30 L438.45,287.30 L439.09,287.30 L439.72,287.30 L440.35,287.30 L440.98,287.30 L441.62,287.30 L442.25,287.30 L442.88,287.30 L443.51,287.30 L444.15,287.30 L444.78,287.30 L445.41,287.30 L446.04,287.30 L446.68,287.30 L447.31,287.30 L447.94,287.30 L448.57,287.30 L449.21,287.30 L449.84,287.30 L450.47,287.30 L451.11,287.30 L451.74,287.30 L452.37,287.30 L453.00,287.30 L453.63,287.30 L454.27,287.30 L454.90,287.30 L455.53,287.30 L456.17,287.30 L456.80,287.30 L457.43,287.30 L458.06,287.30 L458.69,287.30 L459.33,287.30 L459.96,287.30 L460.59,287.30 L461.23,287.30 L461.86,287.30 L462.49,287.30 L463.12,287.30 L463.75,287.30 L464.39,287.30 L465.02,287.30 L465.65,287.30 L466.29,287.30 L466.92,287.30 L467.55,287.30 L468.18,287.30 L468.81,287.30 L469.45,287.30 L470.08,287.30 L470.71,287.30 L471.35,287.30 L471.98,287.30 L472.61,287.30 L473.24,287.30 L473.88,287.30 L474.51,287.30 L475.14,287.30 L475.77,287.30 L476.41,287.30 L477.04,287.30 L477.67,287.30 L478.30,287.30 L478.94,287.30 L479.57,287.30 L480.20,287.30 L480.83,287.30 L481.47,287.30 L482.10,287.30 L482.73,287.30 L483.36,287.30 L484.00,287.30 L484.63,287.30 L485.26,287.30 L485.89,287.30 L486.53,287.30 L487.16,287.30 L487.79,287.30 L488.42,287.30 L489.06,287.30 L489.69,287.30 L490.32,287.30 L490.95,287.30 L491.58,287.30 L492.22,287.30 L492.85,287.30 L493.48,287.30 L494.11,287.30 L494.75,287.30 L495.38,287.30 L496.01,287.30 L496.64,287.30 L497.28,287.30 L497.91,287.30 L498.54,287.30 L499.17,287.30 L499.81,287.30 L500.44,287.30 L501.07,287.30 L501.70,287.30 L502.34,287.30 L502.97,287.30 L503.60,287.30 L504.23,287.30 L504.87,287.30 L505.50,287.30 L506.13,287.30 L506.76,287.30 L507.40,287.30 L508.03,287.30 L508.66,287.30 L509.29,287.30 L509.93,287.30 L510.56,287.30 L511.19,287.30 L511.82,287.30 L512.46,287.30 L513.09,287.30 L513.72,287.30 L514.36,287.30 L514.99,287.30 L515.62,287.30 L516.25,287.30 L516.88,287.30 L517.52,287.30 L518.15,287.30 L518.78,287.30 L519.42,287.30 L520.05,287.30 L520.68,287.30 L521.31,287.30 L521.95,287.30 L522.58,287.30 L523.21,287.30 L523.84,287.30 L524.48,287.30 L525.11,287.30 L525.74,287.30 L526.37,287.30 L527.00,287.30 L527.64,287.30 L528.27,287.30 L528.90,287.30 L529.54,287.30 L530.17,287.30 L530.80,287.30 L531.43,287.30 L532.07,287.30 L532.70,287.30 L533.33,287.30 L533.96,287.30 L534.60,287.30 L535.23,287.30 L535.86,287.30 L536.49,287.30 L537.12,287.30 L537.76,287.30 L538.39,287.30 L539.02,287.30 L539.66,287.30 L540.29,287.30 L540.92,287.30 L541.55,287.30 L542.19,287.30 L542.82,287.30 L543.45,287.30 L544.08,287.30 L544.72,287.30 L545.35,287.30 L545.98,287.30 L546.61,287.30 L547.25,287.30 L547.88,287.30 L548.51,287.30 L549.14,287.30 L549.78,287.30 L550.41,287.30 L551.04,287.30 L551.67,287.30 L552.31,287.30 L552.94,287.30 L553.57,287.30 L554.20,287.30 L554.84,287.30 L555.47,287.30 L556.10,287.30 L556.73,287.30 L557.37,287.30 L558.00,287.30 L558.63,287.30 L559.26,287.30 L559.89,287.30 L560.53,287.30 L561.16,287.30 L561.79,287.30 L562.42,287.30 L563.06,287.30 L563.69,287.30 L564.32,287.30 L564.96,287.30 L565.59,287.30 L566.22,287.30 L566.85,287.30 L567.49,287.30 L568.12,287.30 L568.75,287.30 L569.38,287.30 L570.01,287.30 L570.65,287.30 L571.28,287.30 L571.91,287.30 L572.54,287.30 L573.18,287.30 L573.81,287.30 L574.44,287.30 L575.08,287.30 L575.71,287.30 L576.34,287.30 L576.97,287.30 L577.61,287.30 L578.24,287.30 L578.87,287.30 L579.50,287.30 L580.13,287.30 L580.77,287.30 L581.40,287.30 L582.03,287.30 L582.67,287.30 L583.30,287.30 L583.93,287.30 L584.56,287.30 L585.20,287.30 L585.83,287.30 L586.46,287.30 L587.09,287.30 L587.73,287.30 L588.36,287.30 L588.99,287.30 L589.62,287.30 L590.25,287.30 L590.89,287.30 L591.52,287.30 L592.15,287.30 L592.79,287.30 L593.42,287.30 L594.05,287.30 L594.68,287.30 L595.32,287.30 L595.95,287.30 L596.58,287.30 L597.21,287.30 L597.85,287.30 L598.48,287.30 L599.11,287.30 L599.74,287.30 L600.38,287.30 L601.01,287.30 L601.64,287.30 L602.27,287.30 L602.91,287.30 L603.54,287.30 L604.17,287.30 L604.80,287.30 L605.44,287.30 L606.07,287.30 L606.70,287.30 L607.33,287.30 L607.97,287.30 L608.60,287.30 L609.23,287.30 L609.86,287.30 L610.50,287.30 L611.13,287.30 L611.76,287.30 L612.39,287.30 L613.02,287.30 L613.66,287.30 L614.29,287.30 L614.92,287.30 L615.56,287.30 L616.19,287.30 L616.82,287.30 L617.45,287.30 L618.09,287.30 L618.72,287.30 L619.35,287.30 L619.98,287.30 L620.62,287.30 L621.25,287.30 L621.88,287.30 L622.51,287.30 L623.14,287.30 L623.78,287.30 L624.41,287.30 L625.04,287.30 L625.68,287.30 L626.31,287.30 L626.94,287.30 L627.57,287.30 L628.21,287.30 L628.84,287.30 L629.47,287.30 L630.10,287.30 L630.74,287.30 L631.37,287.30 L632.00,287.30 L632.63,287.30 L633.26,287.30 L633.90,287.30 L634.53,287.30 L635.16,287.30 L635.80,287.30 L636.43,287.30 L637.06,287.30 L637.69,287.30 L638.33,287.30 L638.96,287.30 L639.59,287.30 L640.22,287.30 L640.86,287.30 L641.49,287.30 L642.12,287.30 L642.75,287.30 L643.39,287.30 L644.02,287.30 L644.65,287.30 L645.28,287.30 L645.92,287.30 L646.55,287.30 L647.18,287.30 L647.81,287.30 L648.45,287.30 L649.08,287.30 L649.71,287.30 L650.34,287.30 L650.98,287.30 L651.61,287.30 L652.24,287.30 L652.87,287.30 L653.51,287.30 L654.14,287.30 L654.77,287.30 L655.40,287.30 L656.03,287.30 L656.67,287.30 L657.30,287.30 L657.93,287.30 L658.57,287.30 L659.20,287.30 L659.83,287.30 L660.46,287.30 L661.10,287.30 L661.73,287.30 L662.36,287.30 L662.99,287.30 L663.63,287.30 L664.26,287.30 L664.89,287.30 L665.52,287.30 L666.15,287.30 L666.79,287.30 L667.42,287.30 L668.05,287.30 L668.69,287.30 L669.32,287.30 L669.95,287.30 L670.58,287.30 L671.22,287.30 L671.85,287.30 L672.48,287.30 L673.11,287.30 L673.75,287.30 L674.38,287.30 L675.01,287.30 L675.64,287.30 L676.27,287.30 L676.91,287.30 L677.54,287.30 L678.17,287.30 L678.81,287.30 L679.44,287.30 L680.07,287.30 L680.70,287.30 L681.34,287.30 L681.97,287.30 L682.60,287.30 L683.23,287.30 L683.87,287.30 L684.50,287.30 L685.13,287.30 L685.76,287.30 L686.39,287.30 L687.03,287.30 L687.66,287.30 L688.29,287.30 L688.93,287.30 L689.56,287.30 L690.19,287.30 L690.82,287.30 L691.46,287.30 L692.09,287.30 L692.72,287.30 L693.35,287.30 L693.99,287.30 L694.62,287.30 L695.25,287.30 L695.88,287.30 L696.51,287.30 L697.15,287.30 L697.78,287.30 L698.41,287.30 L699.05,287.30 L699.68,287.30 L700.31,287.30 L700.94,287.30 L701.58,287.30 L702.21,287.30 L702.84,287.30 L703.47,287.30 L704.11,287.30 L704.74,287.30 L705.37,287.30 L706.00,287.30 L706.64,287.30 L707.27,287.30 L707.90,287.30 L708.53,287.30 L709.17,287.30 L709.80,287.30 L710.43,287.30 L711.06,287.30 L711.70,287.30 L712.33,287.30 L712.96,287.30 L713.59,287.30 L714.23,287.30 L714.86,287.30 L715.49,287.30 L716.12,287.30 L716.76,287.30 L717.39,287.30 L718.02,287.30 L718.65,287.30 L719.28,287.30 L719.92,287.30 L720.55,287.30 L721.18,287.30 L721.82,287.30 L722.45,287.30 L723.08,287.30 L723.71,287.30 L724.35,287.30 L724.98,287.30 L725.61,287.30 L726.24,287.30 L726.88,287.30 L727.51,287.30 L728.14,287.30 L728.77,287.30 L729.40,287.30 L730.04,287.30 L730.67,287.30 L731.30,287.30 L731.94,287.30 L732.57,287.30 L733.20,287.30" fill="none" stroke="#8a00d4" stroke-width="3.0" stroke-linejoin="round"/>
<path d="M100.70,280.26 L101.33,280.18 L101.97,280.10 L102.60,280.02 L103.23,279.94 L103.86,279.86 L104.50,279.77 L105.13,279.69 L105.76,279.60 L106.39,279.52 L107.03,279.43 L107.66,279.34 L108.29,279.25 L108.92,279.16 L109.56,279.07 L110.19,278.98 L110.82,278.89 L111.45,278.80 L112.09,278.71 L112.72,278.61 L113.35,278.52 L113.98,278.42 L114.62,278.33 L115.25,278.23 L115.88,278.13 L116.51,278.03 L117.15,277.93 L117.78,277.83 L118.41,277.73 L119.04,277.63 L119.67,277.52 L120.31,277.42 L120.94,277.31 L121.57,277.21 L122.21,277.10 L122.84,276.99 L123.47,276.89 L124.10,276.78 L124.73,276.67 L125.37,276.56 L126.00,276.44 L126.63,276.33 L127.27,276.22 L127.90,276.10 L128.53,275.99 L129.16,275.87 L129.80,275.75 L130.43,275.63 L131.06,275.51 L131.69,275.39 L132.32,275.27 L132.96,275.15 L133.59,275.03 L134.22,274.90 L134.86,274.78 L135.49,274.65 L136.12,274.52 L136.75,274.39 L137.38,274.27 L138.02,274.14 L138.65,274.00 L139.28,273.87 L139.91,273.74 L140.55,273.60 L141.18,273.47 L141.81,273.33 L142.44,273.20 L143.08,273.06 L143.71,272.92 L144.34,272.78 L144.98,272.64 L145.61,272.50 L146.24,272.35 L146.87,272.21 L147.50,272.06 L148.14,271.92 L148.77,271.77 L149.40,271.62 L150.03,271.47 L150.67,271.32 L151.30,271.17 L151.93,271.02 L152.56,270.86 L153.20,270.71 L153.83,270.55 L154.46,270.40 L155.09,270.24 L155.73,270.08 L156.36,269.92 L156.99,269.76 L157.62,269.60 L158.26,269.43 L158.89,269.27 L159.52,269.10 L160.16,268.94 L160.79,268.77 L161.42,268.60 L162.05,268.43 L162.69,268.26 L163.32,268.09 L163.95,267.91 L164.58,267.74 L165.22,267.57 L165.85,267.39 L166.48,267.21 L167.11,267.03 L167.75,266.85 L168.38,266.67 L169.01,266.49 L169.64,266.31 L170.28,266.12 L170.91,265.94 L171.54,265.75 L172.17,265.57 L172.81,265.38 L173.44,265.19 L174.07,265.00 L174.70,264.80 L175.33,264.61 L175.97,264.42 L176.60,264.22 L177.23,264.03 L177.87,263.83 L178.50,263.63 L179.13,263.43 L179.76,263.23 L180.40,263.03 L181.03,262.82 L181.66,262.62 L182.29,262.41 L182.93,262.21 L183.56,262.00 L184.19,261.79 L184.82,261.58 L185.46,261.37 L186.09,261.16 L186.72,260.95 L187.35,260.73 L187.99,260.52 L188.62,260.30 L189.25,260.08 L189.88,259.86 L190.51,259.64 L191.15,259.42 L191.78,259.20 L192.41,258.98 L193.05,258.75 L193.68,258.53 L194.31,258.30 L194.94,258.08 L195.57,257.85 L196.21,257.62 L196.84,257.39 L197.47,257.16 L198.11,256.92 L198.74,256.69 L199.37,256.45 L200.00,256.22 L200.63,255.98 L201.27,255.74 L201.90,255.50 L202.53,255.26 L203.17,255.02 L203.80,254.78 L204.43,254.54 L205.06,254.29 L205.69,254.05 L206.33,253.80 L206.96,253.55 L207.59,253.30 L208.22,253.05 L208.86,252.80 L209.49,252.55 L210.12,252.30 L210.75,252.04 L211.39,251.79 L212.02,251.53 L212.65,251.28 L213.29,251.02 L213.92,250.76 L214.55,250.50 L215.18,250.24 L215.81,249.98 L216.45,249.72 L217.08,249.45 L217.71,249.19 L218.35,248.92 L218.98,248.66 L219.61,248.39 L220.24,248.12 L220.88,247.85 L221.51,247.58 L222.14,247.31 L222.77,247.04 L223.41,246.77 L224.04,246.49 L224.67,246.22 L225.30,245.94 L225.94,245.67 L226.57,245.39 L227.20,245.11 L227.83,244.83 L228.47,244.55 L229.10,244.27 L229.73,243.99 L230.36,243.71 L231.00,243.43 L231.63,243.14 L232.26,242.86 L232.89,242.57 L233.53,242.29 L234.16,242.00 L234.79,241.71 L235.42,241.42 L236.06,241.14 L236.69,240.85 L237.32,240.56 L237.95,240.26 L238.59,239.97 L239.22,239.68 L239.85,239.39 L240.48,239.09 L241.12,238.80 L241.75,238.50 L242.38,238.21 L243.01,237.91 L243.65,237.61 L244.28,237.32 L244.91,237.02 L245.54,236.72 L246.18,236.42 L246.81,236.12 L247.44,235.82 L248.07,235.52 L248.70,235.22 L249.34,234.91 L249.97,234.61 L250.60,234.31 L251.24,234.00 L251.87,233.70 L252.50,233.40 L253.13,233.09 L253.76,232.78 L254.40,232.48 L255.03,232.17 L255.66,231.87 L256.30,231.56 L256.93,231.25 L257.56,230.94 L258.19,230.63 L258.82,230.33 L259.46,230.02 L260.09,229.71 L260.72,229.40 L261.36,229.09 L261.99,228.78 L262.62,228.47 L263.25,228.16 L263.88,227.85 L264.52,227.53 L265.15,227.22 L265.78,226.91 L266.42,226.60 L267.05,226.29 L267.68,225.98 L268.31,225.66 L268.94,225.35 L269.58,225.04 L270.21,224.73 L270.84,224.41 L271.48,224.10 L272.11,223.79 L272.74,223.48 L273.37,223.16 L274.00,222.85 L274.64,222.54 L275.27,222.22 L275.90,221.91 L276.54,221.60 L277.17,221.29 L277.80,220.97 L278.43,220.66 L279.06,220.35 L279.70,220.04 L280.33,219.72 L280.96,219.41 L281.59,219.10 L282.23,218.79 L282.86,218.48 L283.49,218.17 L284.12,217.85 L284.76,217.54 L285.39,217.23 L286.02,216.92 L286.65,216.61 L287.29,216.30 L287.92,215.99 L288.55,215.68 L289.19,215.38 L289.82,215.07 L290.45,214.76 L291.08,214.45 L291.72,214.15 L292.35,213.84 L292.98,213.53 L293.61,213.23 L294.25,212.92 L294.88,212.62 L295.51,212.31 L296.14,212.01 L296.78,211.71 L297.41,211.40 L298.04,211.10 L298.67,210.80 L299.31,210.50 L299.94,210.20 L300.57,209.90 L301.20,209.60 L301.84,209.30 L302.47,209.01 L303.10,208.71 L303.73,208.41 L304.37,208.12 L305.00,207.82 L305.63,207.53 L306.26,207.24 L306.90,206.94 L307.53,206.65 L308.16,206.36 L308.79,206.07 L309.43,205.79 L310.06,205.50 L310.69,205.21 L311.32,204.93 L311.95,204.64 L312.59,204.36 L313.22,204.07 L313.85,203.79 L314.49,203.51 L315.12,203.23 L315.75,202.95 L316.38,202.67 L317.01,202.40 L317.65,202.12 L318.28,201.85 L318.91,201.57 L319.55,201.30 L320.18,201.03 L320.81,200.76 L321.44,200.49 L322.07,200.23 L322.71,199.96 L323.34,199.69 L323.97,199.43 L324.61,199.17 L325.24,198.91 L325.87,198.65 L326.50,198.39 L327.13,198.13 L327.77,197.88 L328.40,197.62 L329.03,197.37 L329.67,197.12 L330.30,196.87 L330.93,196.62 L331.56,196.37 L332.19,196.13 L332.83,195.88 L333.46,195.64 L334.09,195.40 L334.73,195.16 L335.36,194.92 L335.99,194.68 L336.62,194.45 L337.25,194.22 L337.89,193.98 L338.52,193.75 L339.15,193.53 L339.79,193.30 L340.42,193.07 L341.05,192.85 L341.68,192.63 L342.31,192.41 L342.95,192.19 L343.58,191.97 L344.21,191.76 L344.84,191.55 L345.48,191.34 L346.11,191.13 L346.74,190.92 L347.38,190.71 L348.01,190.51 L348.64,190.31 L349.27,190.11 L349.90,189.91 L350.54,189.71 L351.17,189.52 L351.80,189.32 L352.44,189.13 L353.07,188.94 L353.70,188.76 L354.33,188.57 L354.97,188.39 L355.60,188.21 L356.23,188.03 L356.86,187.85 L357.50,187.68 L358.13,187.51 L358.76,187.34 L359.39,187.17 L360.02,187.00 L360.66,186.84 L361.29,186.67 L361.92,186.51 L362.55,186.36 L363.19,186.20 L363.82,186.05 L364.45,185.89 L365.08,185.75 L365.72,185.60 L366.35,185.45 L366.98,185.31 L367.61,185.17 L368.25,185.03 L368.88,184.89 L369.51,184.76 L370.14,184.63 L370.78,184.50 L371.41,184.37 L372.04,184.25 L372.67,184.12 L373.31,184.00 L373.94,183.89 L374.57,183.77 L375.20,183.66 L375.84,183.55 L376.47,183.44 L377.10,183.33 L377.73,183.23 L378.37,183.12 L379.00,183.02 L379.63,182.93 L380.26,182.83 L380.90,182.74 L381.53,182.65 L382.16,182.56 L382.79,182.48 L383.43,182.39 L384.06,182.31 L384.69,182.24 L385.32,182.16 L385.96,182.09 L386.59,182.02 L387.22,181.95 L387.86,181.88 L388.49,181.82 L389.12,181.76 L389.75,181.70 L390.38,181.64 L391.02,181.59 L391.65,181.54 L392.28,181.49 L392.92,181.44 L393.55,181.40 L394.18,181.36 L394.81,181.32 L395.44,181.29 L396.08,181.25 L396.71,181.22 L397.34,181.19 L397.98,181.17 L398.61,181.14 L399.24,181.12 L399.87,181.10 L400.50,181.09 L401.14,181.07 L401.77,181.06 L402.40,181.05 L403.04,181.05 L403.67,181.04 L404.30,181.04 L404.93,181.04 L405.56,181.04 L406.20,181.05 L406.83,181.06 L407.46,181.07 L408.10,181.08 L408.73,181.09 L409.36,181.11 L409.99,181.13 L410.62,181.15 L411.26,181.17 L411.89,181.20 L412.52,181.23 L413.16,181.25 L413.79,181.29 L414.42,181.32 L415.05,181.36 L415.69,181.40 L416.32,181.44 L416.95,181.48 L417.58,181.52 L418.22,181.57 L418.85,181.62 L419.48,181.67 L420.11,181.72 L420.75,181.78 L421.38,181.84 L422.01,181.90 L422.64,181.96 L423.28,182.02 L423.91,182.09 L424.54,182.16 L425.17,182.23 L425.80,182.30 L426.44,182.38 L427.07,182.45 L427.70,182.53 L428.33,182.61 L428.97,182.70 L429.60,182.78 L430.23,182.87 L430.86,182.96 L431.50,183.05 L432.13,183.14 L432.76,183.24 L433.39,183.34 L434.03,183.44 L434.66,183.54 L435.29,183.64 L435.92,183.75 L436.56,183.86 L437.19,183.97 L437.82,184.08 L438.45,184.19 L439.09,184.31 L439.72,184.43 L440.35,184.55 L440.98,184.67 L441.62,184.79 L442.25,184.92 L442.88,185.05 L443.51,185.18 L444.15,185.31 L444.78,185.44 L445.41,185.58 L446.04,185.72 L446.68,185.86 L447.31,186.00 L447.94,186.14 L448.57,186.28 L449.21,186.43 L449.84,186.58 L450.47,186.73 L451.11,186.88 L451.74,187.04 L452.37,187.20 L453.00,187.35 L453.63,187.51 L454.27,187.67 L454.90,187.84 L455.53,188.00 L456.17,188.17 L456.80,188.34 L457.43,188.51 L458.06,188.68 L458.69,188.86 L459.33,189.03 L459.96,189.21 L460.59,189.39 L461.23,189.57 L461.86,189.75 L462.49,189.94 L463.12,190.12 L463.75,190.31 L464.39,190.50 L465.02,190.69 L465.65,190.88 L466.29,191.08 L466.92,191.27 L467.55,191.47 L468.18,191.67 L468.81,191.87 L469.45,192.07 L470.08,192.27 L470.71,192.48 L471.35,192.69 L471.98,192.89 L472.61,193.10 L473.24,193.31 L473.88,193.53 L474.51,193.74 L475.14,193.96 L475.77,194.17 L476.41,194.39 L477.04,194.61 L477.67,194.83 L478.30,195.05 L478.94,195.28 L479.57,195.50 L480.20,195.73 L480.83,195.96 L481.47,196.18 L482.10,196.41 L482.73,196.65 L483.36,196.88 L484.00,197.11 L484.63,197.35 L485.26,197.59 L485.89,197.82 L486.53,198.06 L487.16,198.30 L487.79,198.54 L488.42,198.79 L489.06,199.03 L489.69,199.28 L490.32,199.52 L490.95,199.77 L491.58,200.02 L492.22,200.27 L492.85,200.52 L493.48,200.77 L494.11,201.02 L494.75,201.27 L495.38,201.53 L496.01,201.79 L496.64,202.04 L497.28,202.30 L497.91,202.56 L498.54,202.82 L499.17,203.08 L499.81,203.34 L500.44,203.60 L501.07,203.87 L501.70,204.13 L502.34,204.39 L502.97,204.66 L503.60,204.93 L504.23,205.20 L504.87,205.46 L505.50,205.73 L506.13,206.00 L506.76,206.27 L507.40,206.55 L508.03,206.82 L508.66,207.09 L509.29,207.36 L509.93,207.64 L510.56,207.91 L511.19,208.19 L511.82,208.47 L512.46,208.74 L513.09,209.02 L513.72,209.30 L514.36,209.58 L514.99,209.86 L515.62,210.14 L516.25,210.42 L516.88,210.70 L517.52,210.98 L518.15,211.27 L518.78,211.55 L519.42,211.83 L520.05,212.12 L520.68,212.40 L521.31,212.69 L521.95,212.97 L522.58,213.26 L523.21,213.54 L523.84,213.83 L524.48,214.12 L525.11,214.41 L525.74,214.69 L526.37,214.98 L527.00,215.27 L527.64,215.56 L528.27,215.85 L528.90,216.14 L529.54,216.43 L530.17,216.72 L530.80,217.01 L531.43,217.30 L532.07,217.59 L532.70,217.88 L533.33,218.17 L533.96,218.46 L534.60,218.75 L535.23,219.05 L535.86,219.34 L536.49,219.63 L537.12,219.92 L537.76,220.21 L538.39,220.51 L539.02,220.80 L539.66,221.09 L540.29,221.39 L540.92,221.68 L541.55,221.97 L542.19,222.26 L542.82,222.56 L543.45,222.85 L544.08,223.14 L544.72,223.44 L545.35,223.73 L545.98,224.02 L546.61,224.31 L547.25,224.61 L547.88,224.90 L548.51,225.19 L549.14,225.49 L549.78,225.78 L550.41,226.07 L551.04,226.36 L551.67,226.65 L552.31,226.95 L552.94,227.24 L553.57,227.53 L554.20,227.82 L554.84,228.11 L555.47,228.40 L556.10,228.69 L556.73,228.98 L557.37,229.27 L558.00,229.56 L558.63,229.85 L559.26,230.14 L559.89,230.43 L560.53,230.72 L561.16,231.01 L561.79,231.30 L562.42,231.59 L563.06,231.87 L563.69,232.16 L564.32,232.45 L564.96,232.73 L565.59,233.02 L566.22,233.31 L566.85,233.59 L567.49,233.88 L568.12,234.16 L568.75,234.45 L569.38,234.73 L570.01,235.01 L570.65,235.30 L571.28,235.58 L571.91,235.86 L572.54,236.14 L573.18,236.42 L573.81,236.70 L574.44,236.98 L575.08,237.26 L575.71,237.54 L576.34,237.82 L576.97,238.10 L577.61,238.37 L578.24,238.65 L578.87,238.93 L579.50,239.20 L580.13,239.48 L580.77,239.75 L581.40,240.03 L582.03,240.30 L582.67,240.57 L583.30,240.84 L583.93,241.11 L584.56,241.39 L585.20,241.66 L585.83,241.92 L586.46,242.19 L587.09,242.46 L587.73,242.73 L588.36,243.00 L588.99,243.26 L589.62,243.53 L590.25,243.79 L590.89,244.06 L591.52,244.32 L592.15,244.58 L592.79,244.84 L593.42,245.10 L594.05,245.36 L594.68,245.62 L595.32,245.88 L595.95,246.14 L596.58,246.40 L597.21,246.65 L597.85,246.91 L598.48,247.17 L599.11,247.42 L599.74,247.67 L600.38,247.93 L601.01,248.18 L601.64,248.43 L602.27,248.68 L602.91,248.93 L603.54,249.18 L604.17,249.42 L604.80,249.67 L605.44,249.92 L606.07,250.16 L606.70,250.41 L607.33,250.65 L607.97,250.89 L608.60,251.13 L609.23,251.38 L609.86,251.62 L610.50,251.85 L611.13,252.09 L611.76,252.33 L612.39,252.57 L613.02,252.80 L613.66,253.04 L614.29,253.27 L614.92,253.50 L615.56,253.74 L616.19,253.97 L616.82,254.20 L617.45,254.43 L618.09,254.66 L618.72,254.88 L619.35,255.11 L619.98,255.34 L620.62,255.56 L621.25,255.78 L621.88,256.01 L622.51,256.23 L623.14,256.45 L623.78,256.67 L624.41,256.89 L625.04,257.11 L625.68,257.32 L626.31,257.54 L626.94,257.76 L627.57,257.97 L628.21,258.18 L628.84,258.40 L629.47,258.61 L630.10,258.82 L630.74,259.03 L631.37,259.24 L632.00,259.44 L632.63,259.65 L633.26,259.86 L633.90,260.06 L634.53,260.27 L635.16,260.47 L635.80,260.67 L636.43,260.87 L637.06,261.07 L637.69,261.27 L638.33,261.47 L638.96,261.66 L639.59,261.86 L640.22,262.06 L640.86,262.25 L641.49,262.44 L642.12,262.63 L642.75,262.83 L643.39,263.02 L644.02,263.21 L644.65,263.39 L645.28,263.58 L645.92,263.77 L646.55,263.95 L647.18,264.14 L647.81,264.32 L648.45,264.50 L649.08,264.68 L649.71,264.86 L650.34,265.04 L650.98,265.22 L651.61,265.40 L652.24,265.58 L652.87,265.75 L653.51,265.93 L654.14,266.10 L654.77,266.27 L655.40,266.44 L656.03,266.61 L656.67,266.78 L657.30,266.95 L657.93,267.12 L658.57,267.29 L659.20,267.45 L659.83,267.62 L660.46,267.78 L661.10,267.94 L661.73,268.11 L662.36,268.27 L662.99,268.43 L663.63,268.59 L664.26,268.74 L664.89,268.90 L665.52,269.06 L666.15,269.21 L666.79,269.37 L667.42,269.52 L668.05,269.67 L668.69,269.82 L669.32,269.97 L669.95,270.12 L670.58,270.27 L671.22,270.42 L671.85,270.57 L672.48,270.71 L673.11,270.86 L673.75,271.00 L674.38,271.14 L675.01,271.29 L675.64,271.43 L676.27,271.57 L676.91,271.71 L677.54,271.84 L678.17,271.98 L678.81,272.12 L679.44,272.25 L680.07,272.39 L680.70,272.52 L681.34,272.66 L681.97,272.79 L682.60,272.92 L683.23,273.05 L683.87,273.18 L684.50,273.31 L685.13,273.44 L685.76,273.56 L686.39,273.69 L687.03,273.81 L687.66,273.94 L688.29,274.06 L688.93,274.18 L689.56,274.30 L690.19,274.42 L690.82,274.54 L691.46,274.66 L692.09,274.78 L692.72,274.90 L693.35,275.02 L693.99,275.13 L694.62,275.25 L695.25,275.36 L695.88,275.47 L696.51,275.58 L697.15,275.70 L697.78,275.81 L698.41,275.92 L699.05,276.03 L699.68,276.13 L700.31,276.24 L700.94,276.35 L701.58,276.45 L702.21,276.56 L702.84,276.66 L703.47,276.77 L704.11,276.87 L704.74,276.97 L705.37,277.07 L706.00,277.17 L706.64,277.27 L707.27,277.37 L707.90,277.47 L708.53,277.56 L709.17,277.66 L709.80,277.76 L710.43,277.85 L711.06,277.95 L711.70,278.04 L712.33,278.13 L712.96,278.22 L713.59,278.31 L714.23,278.40 L714.86,278.49 L715.49,278.58 L716.12,278.67 L716.76,278.76 L717.39,278.85 L718.02,278.93 L718.65,279.02 L719.28,279.10 L719.92,279.19 L720.55,279.27 L721.18,279.35 L721.82,279.43 L722.45,279.52 L723.08,279.60 L723.71,279.68 L724.35,279.75 L724.98,279.83 L725.61,279.91 L726.24,279.99 L726.88,280.07 L727.51,280.14 L728.14,280.22 L728.77,280.29 L729.40,280.36 L730.04,280.44 L730.67,280.51 L731.30,280.58 L731.94,280.65 L732.57,280.73 L733.20,280.80" fill="none" stroke="#00239c" stroke-width="3.0" stroke-linejoin="round"/>
<path d="M100.70,250.44 L101.33,247.33 L101.97,243.54 L102.60,238.91 L103.23,233.29 L103.86,226.51 L104.50,218.44 L105.13,208.97 L105.76,198.06 L106.39,185.75 L107.03,172.17 L107.66,157.57 L108.29,142.31 L108.92,126.86 L109.56,111.75 L110.19,97.59 L110.82,84.97 L111.45,74.45 L112.09,66.50 L112.72,61.43 L113.35,59.43 L113.98,60.48 L114.62,64.34 L115.25,70.67 L115.88,79.00 L116.51,88.75 L117.15,99.34 L117.78,110.18 L118.41,120.75 L119.04,130.62 L119.67,139.45 L120.31,147.03 L120.94,153.25 L121.57,158.09 L122.21,161.63 L122.84,163.97 L123.47,165.27 L124.10,165.69 L124.73,165.39 L125.37,164.52 L126.00,163.20 L126.63,161.56 L127.27,159.70 L127.90,157.69 L128.53,155.59 L129.16,153.45 L129.80,151.30 L130.43,149.15 L131.06,147.04 L131.69,144.96 L132.32,142.94 L132.96,140.97 L133.59,139.06 L134.22,137.22 L134.86,135.45 L135.49,133.74 L136.12,132.11 L136.75,130.55 L137.38,129.07 L138.02,127.67 L138.65,126.35 L139.28,125.10 L139.91,123.93 L140.55,122.85 L141.18,121.85 L141.81,120.92 L142.44,120.08 L143.08,119.32 L143.71,118.63 L144.34,118.03 L144.98,117.51 L145.61,117.06 L146.24,116.70 L146.87,116.40 L147.50,116.19 L148.14,116.04 L148.77,115.98 L149.40,115.98 L150.03,116.05 L150.67,116.18 L151.30,116.36 L151.93,116.60 L152.56,116.88 L153.20,117.20 L153.83,117.57 L154.46,117.98 L155.09,118.42 L155.73,118.90 L156.36,119.40 L156.99,119.94 L157.62,120.50 L158.26,121.09 L158.89,121.70 L159.52,122.33 L160.16,122.98 L160.79,123.70 L161.42,124.50 L162.05,125.38 L162.69,126.31 L163.32,127.29 L163.95,128.31 L164.58,129.35 L165.22,130.41 L165.85,131.46 L166.48,132.51 L167.11,133.53 L167.75,134.52 L168.38,135.46 L169.01,136.35 L169.64,137.18 L170.28,137.99 L170.91,138.81 L171.54,139.64 L172.17,140.49 L172.81,141.34 L173.44,142.21 L174.07,143.09 L174.70,143.98 L175.33,144.89 L175.97,145.81 L176.60,146.75 L177.23,147.69 L177.87,148.66 L178.50,149.63 L179.13,150.62 L179.76,151.61 L180.40,152.58 L181.03,153.54 L181.66,154.50 L182.29,155.46 L182.93,156.41 L183.56,157.38 L184.19,158.35 L184.82,159.33 L185.46,160.32 L186.09,161.33 L186.72,162.37 L187.35,163.42 L187.99,164.50 L188.62,165.61 L189.25,166.73 L189.88,167.85 L190.51,168.97 L191.15,170.09 L191.78,171.21 L192.41,172.34 L193.05,173.47 L193.68,174.60 L194.31,175.75 L194.94,176.90 L195.57,178.06 L196.21,179.23 L196.84,180.41 L197.47,181.61 L198.11,182.81 L198.74,184.01 L199.37,185.19 L200.00,186.36 L200.63,187.51 L201.27,188.65 L201.90,189.78 L202.53,190.90 L203.17,192.02 L203.80,193.14 L204.43,194.27 L205.06,195.39 L205.69,196.53 L206.33,197.68 L206.96,198.84 L207.59,200.02 L208.22,201.21 L208.86,202.43 L209.49,203.65 L210.12,204.88 L210.75,206.11 L211.39,207.33 L212.02,208.54 L212.65,209.73 L213.29,210.91 L213.92,212.05 L214.55,213.17 L215.18,214.25 L215.81,215.29 L216.45,216.28 L217.08,217.22 L217.71,218.12 L218.35,218.99 L218.98,219.82 L219.61,220.63 L220.24,221.40 L220.88,222.14 L221.51,222.86 L222.14,223.54 L222.77,224.19 L223.41,224.81 L224.04,225.41 L224.67,225.97 L225.30,226.51 L225.94,227.02 L226.57,227.50 L227.20,227.96 L227.83,228.39 L228.47,228.81 L229.10,229.20 L229.73,229.57 L230.36,229.92 L231.00,230.25 L231.63,230.56 L232.26,230.84 L232.89,231.10 L233.53,231.34 L234.16,231.56 L234.79,231.75 L235.42,231.93 L236.06,232.08 L236.69,232.20 L237.32,232.31 L237.95,232.39 L238.59,232.45 L239.22,232.49 L239.85,232.52 L240.48,232.54 L241.12,232.54 L241.75,232.53 L242.38,232.51 L243.01,232.47 L243.65,232.43 L244.28,232.36 L244.91,232.29 L245.54,232.20 L246.18,232.10 L246.81,231.99 L247.44,231.87 L248.07,231.73 L248.70,231.58 L249.34,231.42 L249.97,231.25 L250.60,231.07 L251.24,230.89 L251.87,230.70 L252.50,230.50 L253.13,230.30 L253.76,230.09 L254.40,229.88 L255.03,229.66 L255.66,229.43 L256.30,229.21 L256.93,228.97 L257.56,228.74 L258.19,228.50 L258.82,228.25 L259.46,228.01 L260.09,227.76 L260.72,227.50 L261.36,227.25 L261.99,226.99 L262.62,226.73 L263.25,226.46 L263.88,226.20 L264.52,225.93 L265.15,225.66 L265.78,225.39 L266.42,225.11 L267.05,224.84 L267.68,224.56 L268.31,224.28 L268.94,224.00 L269.58,223.72 L270.21,223.44 L270.84,223.15 L271.48,222.87 L272.11,222.58 L272.74,222.30 L273.37,222.01 L274.00,221.72 L274.64,221.43 L275.27,221.14 L275.90,220.85 L276.54,220.56 L277.17,220.27 L277.80,219.98 L278.43,219.69 L279.06,219.40 L279.70,219.11 L280.33,218.82 L280.96,218.52 L281.59,218.23 L282.23,217.94 L282.86,217.65 L283.49,217.36 L284.12,217.07 L284.76,216.79 L285.39,216.50 L286.02,216.21 L286.65,215.92 L287.29,215.63 L287.92,215.35 L288.55,215.06 L289.19,214.77 L289.82,214.49 L290.45,214.20 L291.08,213.92 L291.72,213.63 L292.35,213.34 L292.98,213.06 L293.61,212.78 L294.25,212.49 L294.88,212.21 L295.51,211.92 L296.14,211.64 L296.78,211.36 L297.41,211.07 L298.04,210.79 L298.67,210.51 L299.31,210.23 L299.94,209.95 L300.57,209.66 L301.20,209.38 L301.84,209.10 L302.47,208.82 L303.10,208.54 L303.73,208.26 L304.37,207.98 L305.00,207.70 L305.63,207.42 L306.26,207.14 L306.90,206.86 L307.53,206.58 L308.16,206.30 L308.79,206.02 L309.43,205.74 L310.06,205.46 L310.69,205.18 L311.32,204.90 L311.95,204.62 L312.59,204.34 L313.22,204.07 L313.85,203.79 L314.49,203.51 L315.12,203.23 L315.75,202.95 L316.38,202.67 L317.01,202.40 L317.65,202.12 L318.28,201.85 L318.91,201.57 L319.55,201.30 L320.18,201.03 L320.81,200.76 L321.44,200.49 L322.07,200.23 L322.71,199.96 L323.34,199.69 L323.97,199.43 L324.61,199.17 L325.24,198.91 L325.87,198.65 L326.50,198.39 L327.13,198.13 L327.77,197.88 L328.40,197.62 L329.03,197.37 L329.67,197.12 L330.30,196.87 L330.93,196.62 L331.56,196.37 L332.19,196.13 L332.83,195.88 L333.46,195.64 L334.09,195.40 L334.73,195.16 L335.36,194.92 L335.99,194.68 L336.62,194.45 L337.25,194.22 L337.89,193.98 L338.52,193.75 L339.15,193.53 L339.79,193.30 L340.42,193.07 L341.05,192.85 L341.68,192.63 L342.31,192.41 L342.95,192.19 L343.58,191.97 L344.21,191.76 L344.84,191.55 L345.48,191.34 L346.11,191.13 L346.74,190.92 L347.38,190.71 L348.01,190.51 L348.64,190.31 L349.27,190.11 L349.90,189.91 L350.54,189.71 L351.17,189.52 L351.80,189.32 L352.44,189.13 L353.07,188.94 L353.70,188.76 L354.33,188.57 L354.97,188.39 L355.60,188.21 L356.23,188.03 L356.86,187.85 L357.50,187.68 L358.13,187.51 L358.76,187.34 L359.39,187.17 L360.02,187.00 L360.66,186.84 L361.29,186.67 L361.92,186.51 L362.55,186.36 L363.19,186.20 L363.82,186.05 L364.45,185.89 L365.08,185.75 L365.72,185.60 L366.35,185.45 L366.98,185.31 L367.61,185.17 L368.25,185.03 L368.88,184.89 L369.51,184.76 L370.14,184.63 L370.78,184.50 L371.41,184.37 L372.04,184.25 L372.67,184.12 L373.31,184.00 L373.94,183.89 L374.57,183.77 L375.20,183.66 L375.84,183.55 L376.47,183.44 L377.10,183.33 L377.73,183.23 L378.37,183.12 L379.00,183.02 L379.63,182.93 L380.26,182.83 L380.90,182.74 L381.53,182.65 L382.16,182.56 L382.79,182.48 L383.43,182.39 L384.06,182.31 L384.69,182.24 L385.32,182.16 L385.96,182.09 L386.59,182.02 L387.22,181.95 L387.86,181.88 L388.49,181.82 L389.12,181.76 L389.75,181.70 L390.38,181.64 L391.02,181.59 L391.65,181.54 L392.28,181.49 L392.92,181.44 L393.55,181.40 L394.18,181.36 L394.81,181.32 L395.44,181.29 L396.08,181.25 L396.71,181.22 L397.34,181.19 L397.98,181.17 L398.61,181.14 L399.24,181.12 L399.87,181.10 L400.50,181.09 L401.14,181.07 L401.77,181.06 L402.40,181.05 L403.04,181.05 L403.67,181.04 L404.30,181.04 L404.93,181.04 L405.56,181.04 L406.20,181.05 L406.83,181.06 L407.46,181.07 L408.10,181.08 L408.73,181.09 L409.36,181.11 L409.99,181.13 L410.62,181.15 L411.26,181.17 L411.89,181.20 L412.52,181.23 L413.16,181.25 L413.79,181.29 L414.42,181.32 L415.05,181.36 L415.69,181.40 L416.32,181.44 L416.95,181.48 L417.58,181.52 L418.22,181.57 L418.85,181.62 L419.48,181.67 L420.11,181.72 L420.75,181.78 L421.38,181.84 L422.01,181.90 L422.64,181.96 L423.28,182.02 L423.91,182.09 L424.54,182.16 L425.17,182.23 L425.80,182.30 L426.44,182.38 L427.07,182.45 L427.70,182.53 L428.33,182.61 L428.97,182.70 L429.60,182.78 L430.23,182.87 L430.86,182.96 L431.50,183.05 L432.13,183.14 L432.76,183.24 L433.39,183.34 L434.03,183.44 L434.66,183.54 L435.29,183.64 L435.92,183.75 L436.56,183.86 L437.19,183.97 L437.82,184.08 L438.45,184.19 L439.09,184.31 L439.72,184.43 L440.35,184.55 L440.98,184.67 L441.62,184.79 L442.25,184.92 L442.88,185.05 L443.51,185.18 L444.15,185.31 L444.78,185.44 L445.41,185.58 L446.04,185.72 L446.68,185.86 L447.31,186.00 L447.94,186.14 L448.57,186.28 L449.21,186.43 L449.84,186.58 L450.47,186.73 L451.11,186.88 L451.74,187.04 L452.37,187.20 L453.00,187.35 L453.63,187.51 L454.27,187.67 L454.90,187.84 L455.53,188.00 L456.17,188.17 L456.80,188.34 L457.43,188.51 L458.06,188.68 L458.69,188.86 L459.33,189.03 L459.96,189.21 L460.59,189.39 L461.23,189.57 L461.86,189.75 L462.49,189.94 L463.12,190.12 L463.75,190.31 L464.39,190.50 L465.02,190.69 L465.65,190.88 L466.29,191.08 L466.92,191.27 L467.55,191.47 L468.18,191.67 L468.81,191.87 L469.45,192.07 L470.08,192.27 L470.71,192.48 L471.35,192.69 L471.98,192.89 L472.61,193.10 L473.24,193.31 L473.88,193.53 L474.51,193.74 L475.14,193.96 L475.77,194.17 L476.41,194.39 L477.04,194.61 L477.67,194.83 L478.30,195.05 L478.94,195.28 L479.57,195.50 L480.20,195.73 L480.83,195.96 L481.47,196.18 L482.10,196.41 L482.73,196.65 L483.36,196.88 L484.00,197.11 L484.63,197.35 L485.26,197.59 L485.89,197.82 L486.53,198.06 L487.16,198.30 L487.79,198.54 L488.42,198.79 L489.06,199.03 L489.69,199.28 L490.32,199.52 L490.95,199.77 L491.58,200.02 L492.22,200.27 L492.85,200.52 L493.48,200.77 L494.11,201.02 L494.75,201.27 L495.38,201.53 L496.01,201.79 L496.64,202.04 L497.28,202.30 L497.91,202.56 L498.54,202.82 L499.17,203.08 L499.81,203.34 L500.44,203.60 L501.07,203.87 L501.70,204.13 L502.34,204.39 L502.97,204.66 L503.60,204.93 L504.23,205.20 L504.87,205.46 L505.50,205.73 L506.13,206.00 L506.76,206.27 L507.40,206.55 L508.03,206.82 L508.66,207.09 L509.29,207.36 L509.93,207.64 L510.56,207.91 L511.19,208.19 L511.82,208.47 L512.46,208.74 L513.09,209.02 L513.72,209.30 L514.36,209.58 L514.99,209.86 L515.62,210.14 L516.25,210.42 L516.88,210.70 L517.52,210.98 L518.15,211.27 L518.78,211.55 L519.42,211.83 L520.05,212.12 L520.68,212.40 L521.31,212.69 L521.95,212.97 L522.58,213.26 L523.21,213.54 L523.84,213.83 L524.48,214.12 L525.11,214.41 L525.74,214.69 L526.37,214.98 L527.00,215.27 L527.64,215.56 L528.27,215.85 L528.90,216.14 L529.54,216.43 L530.17,216.72 L530.80,217.01 L531.43,217.30 L532.07,217.59 L532.70,217.88 L533.33,218.17 L533.96,218.46 L534.60,218.75 L535.23,219.05 L535.86,219.34 L536.49,219.63 L537.12,219.92 L537.76,220.21 L538.39,220.51 L539.02,220.80 L539.66,221.09 L540.29,221.39 L540.92,221.68 L541.55,221.97 L542.19,222.26 L542.82,222.56 L543.45,222.85 L544.08,223.14 L544.72,223.44 L545.35,223.73 L545.98,224.02 L546.61,224.31 L547.25,224.61 L547.88,224.90 L548.51,225.19 L549.14,225.49 L549.78,225.78 L550.41,226.07 L551.04,226.36 L551.67,226.65 L552.31,226.95 L552.94,227.24 L553.57,227.53 L554.20,227.82 L554.84,228.11 L555.47,228.40 L556.10,228.69 L556.73,228.98 L557.37,229.27 L558.00,229.56 L558.63,229.85 L559.26,230.14 L559.89,230.43 L560.53,230.72 L561.16,231.01 L561.79,231.30 L562.42,231.59 L563.06,231.87 L563.69,232.16 L564.32,232.45 L564.96,232.73 L565.59,233.02 L566.22,233.31 L566.85,233.59 L567.49,233.88 L568.12,234.16 L568.75,234.45 L569.38,234.73 L570.01,235.01 L570.65,235.30 L571.28,235.58 L571.91,235.86 L572.54,236.14 L573.18,236.42 L573.81,236.70 L574.44,236.98 L575.08,237.26 L575.71,237.54 L576.34,237.82 L576.97,238.10 L577.61,238.37 L578.24,238.65 L578.87,238.93 L579.50,239.20 L580.13,239.48 L580.77,239.75 L581.40,240.03 L582.03,240.30 L582.67,240.57 L583.30,240.84 L583.93,241.11 L584.56,241.39 L585.20,241.66 L585.83,241.92 L586.46,242.19 L587.09,242.46 L587.73,242.73 L588.36,243.00 L588.99,243.26 L589.62,243.53 L590.25,243.79 L590.89,244.06 L591.52,244.32 L592.15,244.58 L592.79,244.84 L593.42,245.10 L594.05,245.36 L594.68,245.62 L595.32,245.88 L595.95,246.14 L596.58,246.40 L597.21,246.65 L597.85,246.91 L598.48,247.17 L599.11,247.42 L599.74,247.67 L600.38,247.93 L601.01,248.18 L601.64,248.43 L602.27,248.68 L602.91,248.93 L603.54,249.18 L604.17,249.42 L604.80,249.67 L605.44,249.92 L606.07,250.16 L606.70,250.41 L607.33,250.65 L607.97,250.89 L608.60,251.13 L609.23,251.38 L609.86,251.62 L610.50,251.85 L611.13,252.09 L611.76,252.33 L612.39,252.57 L613.02,252.80 L613.66,253.04 L614.29,253.27 L614.92,253.50 L615.56,253.74 L616.19,253.97 L616.82,254.20 L617.45,254.43 L618.09,254.66 L618.72,254.88 L619.35,255.11 L619.98,255.34 L620.62,255.56 L621.25,255.78 L621.88,256.01 L622.51,256.23 L623.14,256.45 L623.78,256.67 L624.41,256.89 L625.04,257.11 L625.68,257.32 L626.31,257.54 L626.94,257.76 L627.57,257.97 L628.21,258.18 L628.84,258.40 L629.47,258.61 L630.10,258.82 L630.74,259.03 L631.37,259.24 L632.00,259.44 L632.63,259.65 L633.26,259.86 L633.90,260.06 L634.53,260.27 L635.16,260.47 L635.80,260.67 L636.43,260.87 L637.06,261.07 L637.69,261.27 L638.33,261.47 L638.96,261.66 L639.59,261.86 L640.22,262.06 L640.86,262.25 L641.49,262.44 L642.12,262.63 L642.75,262.83 L643.39,263.02 L644.02,263.21 L644.65,263.39 L645.28,263.58 L645.92,263.77 L646.55,263.95 L647.18,264.14 L647.81,264.32 L648.45,264.50 L649.08,264.68 L649.71,264.86 L650.34,265.04 L650.98,265.22 L651.61,265.40 L652.24,265.58 L652.87,265.75 L653.51,265.93 L654.14,266.10 L654.77,266.27 L655.40,266.44 L656.03,266.61 L656.67,266.78 L657.30,266.95 L657.93,267.12 L658.57,267.29 L659.20,267.45 L659.83,267.62 L660.46,267.78 L661.10,267.94 L661.73,268.11 L662.36,268.27 L662.99,268.43 L663.63,268.59 L664.26,268.74 L664.89,268.90 L665.52,269.06 L666.15,269.21 L666.79,269.37 L667.42,269.52 L668.05,269.67 L668.69,269.82 L669.32,269.97 L669.95,270.12 L670.58,270.27 L671.22,270.42 L671.85,270.57 L672.48,270.71 L673.11,270.86 L673.75,271.00 L674.38,271.14 L675.01,271.29 L675.64,271.43 L676.27,271.57 L676.91,271.71 L677.54,271.84 L678.17,271.98 L678.81,272.12 L679.44,272.25 L680.07,272.39 L680.70,272.52 L681.34,272.66 L681.97,272.79 L682.60,272.92 L683.23,273.05 L683.87,273.18 L684.50,273.31 L685.13,273.44 L685.76,273.56 L686.39,273.69 L687.03,273.81 L687.66,273.94 L688.29,274.06 L688.93,274.18 L689.56,274.30 L690.19,274.42 L690.82,274.54 L691.46,274.66 L692.09,274.78 L692.72,274.90 L693.35,275.02 L693.99,275.13 L694.62,275.25 L695.25,275.36 L695.88,275.47 L696.51,275.58 L697.15,275.70 L697.78,275.81 L698.41,275.92 L699.05,276.03 L699.68,276.13 L700.31,276.24 L700.94,276.35 L701.58,276.45 L702.21,276.56 L702.84,276.66 L703.47,276.77 L704.11,276.87 L704.74,276.97 L705.37,277.07 L706.00,277.17 L706.64,277.27 L707.27,277.37 L707.90,277.47 L708.53,277.56 L709.17,277.66 L709.80,277.76 L710.43,277.85 L711.06,277.95 L711.70,278.04 L712.33,278.13 L712.96,278.22 L713.59,278.31 L714.23,278.40 L714.86,278.49 L715.49,278.58 L716.12,278.67 L716.76,278.76 L717.39,278.85 L718.02,278.93 L718.65,279.02 L719.28,279.10 L719.92,279.19 L720.55,279.27 L721.18,279.35 L721.82,279.43 L722.45,279.52 L723.08,279.60 L723.71,279.68 L724.35,279.75 L724.98,279.83 L725.61,279.91 L726.24,279.99 L726.88,280.07 L727.51,280.14 L728.14,280.22 L728.77,280.29 L729.40,280.36 L730.04,280.44 L730.67,280.51 L731.30,280.58 L731.94,280.65 L732.57,280.73 L733.20,280.80" fill="none" stroke="#808080" stroke-width="5" stroke-linejoin="round"/>
<path d="M131.20,91.40 L139.00,96.32 L146.80,91.40 Q141.34,102.47 139.00,116.00 Q136.66,102.47 131.20,91.40Z" fill="#008000"/>
<path d="M170.80,109.00 L178.80,114.00 L186.80,109.00 Q181.20,120.25 178.80,134.00 Q176.40,120.25 170.80,109.00Z" fill="#8a00d4"/>
<rect x="101.5" y="34.3" width="632" height="253" fill="none" stroke="#000" stroke-width="2.2"/>
<line x1="101.50" y1="224.05" x2="108.50" y2="224.05" stroke="#000" stroke-width="1.8" />
<line x1="101.50" y1="160.80" x2="108.50" y2="160.80" stroke="#000" stroke-width="1.8" />
<line x1="101.50" y1="97.55" x2="108.50" y2="97.55" stroke="#000" stroke-width="1.8" />
<line x1="227.20" y1="287.30" x2="227.20" y2="280.30" stroke="#000" stroke-width="1.8" />
<line x1="353.70" y1="287.30" x2="353.70" y2="280.30" stroke="#000" stroke-width="1.8" />
<line x1="480.20" y1="287.30" x2="480.20" y2="280.30" stroke="#000" stroke-width="1.8" />
<line x1="606.70" y1="287.30" x2="606.70" y2="280.30" stroke="#000" stroke-width="1.8" />
<text x="69.41" y="42.20" font-size="30.29" font-weight="normal" font-style="normal" fill="#000" textLength="16.24" lengthAdjust="spacingAndGlyphs">1</text>
<text x="36.67" y="105.40" font-size="30.14" font-weight="normal" font-style="normal" fill="#000" textLength="59.69" lengthAdjust="spacingAndGlyphs">0.75</text>
<text x="49.36" y="168.31" font-size="29.15" font-weight="normal" font-style="normal" fill="#000" textLength="42.98" lengthAdjust="spacingAndGlyphs">0.5</text>
<text x="36.06" y="231.71" font-size="29.01" font-weight="normal" font-style="normal" fill="#000" textLength="60.42" lengthAdjust="spacingAndGlyphs">0.25</text>
<text x="68.54" y="294.91" font-size="29.01" font-weight="normal" font-style="normal" fill="#000" textLength="17.50" lengthAdjust="spacingAndGlyphs">0</text>
<text x="127.46" y="65.64" font-size="36.00" font-weight="bold" font-style="normal" fill="#000" textLength="17.36" lengthAdjust="spacingAndGlyphs">a</text>
<text transform="translate(24.20,278.00) rotate(-90)" x="0" y="0" font-size="33.48" font-weight="normal" font-style="normal" fill="#000" textLength="232.13" lengthAdjust="spacingAndGlyphs">Intensity (a.u.)</text>
</g>
<g id="pb">
<defs>
<linearGradient id="gfill" gradientUnits="userSpaceOnUse" x1="102.1" y1="0" x2="733.6" y2="0">
<stop offset="0.0000" stop-color="#ffffff" stop-opacity="0"/><stop offset="0.0160" stop-color="#d0e8cc" stop-opacity="1"/><stop offset="0.0640" stop-color="#acd5a5" stop-opacity="1"/><stop offset="0.0910" stop-color="#ffffff" stop-opacity="1"/><stop offset="0.0940" stop-color="#fff0ff" stop-opacity="1"/><stop offset="0.1200" stop-color="#ffb0ff" stop-opacity="1"/><stop offset="0.1460" stop-color="#ffb8ff" stop-opacity="1"/><stop offset="0.2000" stop-color="#ffe4ff" stop-opacity="1"/><stop offset="0.2300" stop-color="#ffffff" stop-opacity="1"/><stop offset="0.3100" stop-color="#ffffff" stop-opacity="1"/><stop offset="0.3980" stop-color="#bcd6e9" stop-opacity="1"/><stop offset="0.8000" stop-color="#bcd6e9" stop-opacity="1"/><stop offset="0.8040" stop-color="#c9def0" stop-opacity="1"/><stop offset="0.8700" stop-color="#ffffff" stop-opacity="1"/><stop offset="1.0000" stop-color="#ffffff" stop-opacity="1"/></linearGradient><linearGradient id="gline" gradientUnits="userSpaceOnUse" x1="102.1" y1="0" x2="733.6" y2="0"><stop offset="0.0000" stop-color="#008a00" stop-opacity="1"/><stop offset="0.0400" stop-color="#007000" stop-opacity="1"/><stop offset="0.0660" stop-color="#005a10" stop-opacity="1"/><stop offset="0.0880" stop-color="#1c2a40" stop-opacity="1"/><stop offset="0.1100" stop-color="#45107a" stop-opacity="1"/><stop offset="0.1360" stop-color="#7a00ee" stop-opacity="1"/><stop offset="0.1800" stop-color="#8000ff" stop-opacity="1"/><stop offset="0.2600" stop-color="#6010f0" stop-opacity="1"/><stop offset="0.3600" stop-color="#2a1ecc" stop-opacity="1"/><stop offset="0.8400" stop-color="#2222c0" stop-opacity="1"/><stop offset="0.9200" stop-color="#2040d0" stop-opacity="1"/><stop offset="1.0000" stop-color="#2a5ee0" stop-opacity="1"/></linearGradient></defs>
<path d="M102.10,552.02 L102.73,551.88 L103.36,551.73 L103.99,551.59 L104.63,551.43 L105.26,551.27 L105.89,551.10 L106.52,550.92 L107.15,550.73 L107.78,550.53 L108.41,550.33 L109.05,550.11 L109.68,549.88 L110.31,549.64 L110.94,549.39 L111.57,549.12 L112.20,548.84 L112.84,548.54 L113.47,548.23 L114.10,547.89 L114.73,547.53 L115.36,547.15 L115.99,546.74 L116.62,546.30 L117.26,545.83 L117.89,545.31 L118.52,544.76 L119.15,544.16 L119.78,543.50 L120.41,542.79 L121.04,542.00 L121.68,541.14 L122.31,540.18 L122.94,539.13 L123.57,537.97 L124.20,536.69 L124.83,535.27 L125.47,533.70 L126.10,531.96 L126.73,530.04 L127.36,527.93 L127.99,525.60 L128.62,523.04 L129.25,520.24 L129.89,517.20 L130.52,513.88 L131.15,510.30 L131.78,506.45 L132.41,502.34 L133.04,497.97 L133.67,493.37 L134.31,488.58 L134.94,483.63 L135.57,478.62 L136.20,473.63 L136.83,468.77 L137.46,464.19 L138.10,460.04 L138.73,456.49 L139.36,453.71 L139.99,451.82 L140.62,450.93 L141.25,451.09 L141.88,452.26 L142.52,454.37 L143.15,457.31 L143.78,460.91 L144.41,465.00 L145.04,469.43 L145.67,474.04 L146.31,478.71 L146.94,483.33 L147.57,487.83 L148.20,492.14 L148.83,496.22 L149.46,500.04 L150.09,503.58 L150.73,506.84 L151.36,509.82 L151.99,512.51 L152.62,514.92 L153.25,517.06 L153.88,518.94 L154.51,520.56 L155.15,521.94 L155.78,523.09 L156.41,524.00 L157.04,524.69 L157.67,525.14 L158.30,525.36 L158.94,525.33 L159.57,525.05 L160.20,524.47 L160.83,523.59 L161.46,522.36 L162.09,520.74 L162.72,518.71 L163.36,516.21 L163.99,513.21 L164.62,509.68 L165.25,505.59 L165.88,500.93 L166.51,495.70 L167.14,489.93 L167.78,483.67 L168.41,476.99 L169.04,470.01 L169.67,462.86 L170.30,455.73 L170.93,448.85 L171.56,442.47 L172.20,436.86 L172.83,432.29 L173.46,428.96 L174.09,426.99 L174.72,426.36 L175.35,426.93 L175.99,428.45 L176.62,430.62 L177.25,433.12 L177.88,435.65 L178.51,437.94 L179.14,439.76 L179.77,440.91 L180.41,441.22 L181.04,440.56 L181.67,438.83 L182.30,435.96 L182.93,431.90 L183.56,426.63 L184.19,420.20 L184.83,412.67 L185.46,404.19 L186.09,394.96 L186.72,385.30 L187.35,375.59 L187.98,366.35 L188.62,358.12 L189.25,351.51 L189.88,347.05 L190.51,345.15 L191.14,346.03 L191.77,349.67 L192.40,355.81 L193.04,364.03 L193.67,373.80 L194.30,384.58 L194.93,395.85 L195.56,407.19 L196.19,418.28 L196.82,428.90 L197.46,438.89 L198.09,448.18 L198.72,456.75 L199.35,464.59 L199.98,471.75 L200.61,478.25 L201.25,484.15 L201.88,489.50 L202.51,494.35 L203.14,498.75 L203.77,502.74 L204.40,506.37 L205.03,509.66 L205.67,512.67 L206.30,515.41 L206.93,517.92 L207.56,520.21 L208.19,522.32 L208.82,524.25 L209.45,526.03 L210.09,527.67 L210.72,529.18 L211.35,530.58 L211.98,531.88 L212.61,533.09 L213.24,534.20 L213.88,535.25 L214.51,536.22 L215.14,537.12 L215.77,537.97 L216.40,538.76 L217.03,539.50 L217.66,540.20 L218.30,540.85 L218.93,541.46 L219.56,542.04 L220.19,542.59 L220.82,543.10 L221.45,543.59 L222.08,544.05 L222.72,544.48 L223.35,544.89 L223.98,545.28 L224.61,545.65 L225.24,546.00 L225.87,546.33 L226.51,546.65 L227.14,546.95 L227.77,547.23 L228.40,547.51 L229.03,547.77 L229.66,548.01 L230.29,548.25 L230.93,548.48 L231.56,548.69 L232.19,548.90 L232.82,549.10 L233.45,549.28 L234.08,549.46 L234.72,549.64 L235.35,549.80 L235.98,549.96 L236.61,550.11 L237.24,550.26 L237.87,550.40 L238.50,550.53 L239.14,550.66 L239.77,550.78 L240.40,550.90 L241.03,551.02 L241.66,551.13 L242.29,551.23 L242.92,551.33 L243.56,551.43 L244.19,551.52 L244.82,551.61 L245.45,551.70 L246.08,551.78 L246.71,551.86 L247.34,551.94 L247.98,552.01 L248.61,552.08 L249.24,552.15 L249.87,552.22 L250.50,552.28 L251.13,552.34 L251.77,552.40 L252.40,552.45 L253.03,552.51 L253.66,552.56 L254.29,552.61 L254.92,552.65 L255.55,552.70 L256.19,552.74 L256.82,552.78 L257.45,552.82 L258.08,552.86 L258.71,552.90 L259.34,552.93 L259.98,552.96 L260.61,552.99 L261.24,553.02 L261.87,553.05 L262.50,553.08 L263.13,553.10 L263.76,553.13 L264.40,553.15 L265.03,553.17 L265.66,553.19 L266.29,553.20 L266.92,553.22 L267.55,553.24 L268.18,553.25 L268.82,553.26 L269.45,553.27 L270.08,553.28 L270.71,553.29 L271.34,553.30 L271.97,553.30 L272.61,553.31 L273.24,553.31 L273.87,553.31 L274.50,553.32 L275.13,553.31 L275.76,553.31 L276.39,553.31 L277.03,553.31 L277.66,553.30 L278.29,553.29 L278.92,553.29 L279.55,553.28 L280.18,553.27 L280.81,553.25 L281.45,553.24 L282.08,553.23 L282.71,553.21 L283.34,553.19 L283.97,553.18 L284.60,553.16 L285.24,553.13 L285.87,553.11 L286.50,553.09 L287.13,553.06 L287.76,553.03 L288.39,553.00 L289.02,552.97 L289.66,552.94 L290.29,552.91 L290.92,552.87 L291.55,552.83 L292.18,552.79 L292.81,552.75 L293.44,552.71 L294.08,552.66 L294.71,552.61 L295.34,552.57 L295.97,552.51 L296.60,552.46 L297.23,552.40 L297.87,552.34 L298.50,552.28 L299.13,552.22 L299.76,552.15 L300.39,552.08 L301.02,552.01 L301.65,551.93 L302.29,551.85 L302.92,551.77 L303.55,551.68 L304.18,551.60 L304.81,551.50 L305.44,551.40 L306.07,551.30 L306.71,551.20 L307.34,551.09 L307.97,550.97 L308.60,550.85 L309.23,550.73 L309.86,550.60 L310.50,550.46 L311.13,550.32 L311.76,550.17 L312.39,550.01 L313.02,549.85 L313.65,549.68 L314.28,549.50 L314.92,549.31 L315.55,549.11 L316.18,548.91 L316.81,548.69 L317.44,548.45 L318.07,548.21 L318.70,547.95 L319.34,547.67 L319.97,547.38 L320.60,547.06 L321.23,546.72 L321.86,546.36 L322.49,545.97 L323.12,545.54 L323.76,545.08 L324.39,544.58 L325.02,544.03 L325.65,543.43 L326.28,542.77 L326.91,542.04 L327.55,541.24 L328.18,540.36 L328.81,539.37 L329.44,538.29 L330.07,537.08 L330.70,535.75 L331.33,534.27 L331.97,532.63 L332.60,530.82 L333.23,528.83 L333.86,526.63 L334.49,524.21 L335.12,521.56 L335.75,518.66 L336.39,515.50 L337.02,512.07 L337.65,508.35 L338.28,504.34 L338.91,500.04 L339.54,495.43 L340.18,490.53 L340.81,485.33 L341.44,479.83 L342.07,474.07 L342.70,468.04 L343.33,461.78 L343.96,455.32 L344.60,448.68 L345.23,441.93 L345.86,435.10 L346.49,428.26 L347.12,421.48 L347.75,414.85 L348.38,408.44 L349.02,402.37 L349.65,396.73 L350.28,391.64 L350.91,387.20 L351.54,383.52 L352.17,380.69 L352.81,378.79 L353.44,377.86 L354.07,377.94 L354.70,379.03 L355.33,381.08 L355.96,384.04 L356.59,387.83 L357.23,392.35 L357.86,397.50 L358.49,403.16 L359.12,409.23 L359.75,415.61 L360.38,422.19 L361.01,428.89 L361.65,435.63 L362.28,442.35 L362.91,448.97 L363.54,455.46 L364.17,461.77 L364.80,467.86 L365.44,473.71 L366.07,479.29 L366.70,484.58 L367.33,489.59 L367.96,494.29 L368.59,498.68 L369.22,502.77 L369.86,506.55 L370.49,510.04 L371.12,513.25 L371.75,516.17 L372.38,518.83 L373.01,521.24 L373.64,523.41 L374.28,525.36 L374.91,527.10 L375.54,528.64 L376.17,530.00 L376.80,531.20 L377.43,532.24 L378.07,533.13 L378.70,533.90 L379.33,534.54 L379.96,535.07 L380.59,535.49 L381.22,535.81 L381.85,536.04 L382.49,536.18 L383.12,536.22 L383.75,536.18 L384.38,536.04 L385.01,535.81 L385.64,535.48 L386.27,535.05 L386.91,534.50 L387.54,533.82 L388.17,533.01 L388.80,532.03 L389.43,530.89 L390.06,529.56 L390.70,528.01 L391.33,526.23 L391.96,524.20 L392.59,521.88 L393.22,519.26 L393.85,516.32 L394.48,513.04 L395.12,509.39 L395.75,505.37 L396.38,500.97 L397.01,496.20 L397.64,491.07 L398.27,485.61 L398.90,479.86 L399.54,473.89 L400.17,467.81 L400.80,461.75 L401.43,455.87 L402.06,450.40 L402.69,445.55 L403.33,441.58 L403.96,438.72 L404.59,437.15 L405.22,436.98 L405.85,438.24 L406.48,440.83 L407.11,444.60 L407.75,449.32 L408.38,454.74 L409.01,460.64 L409.64,466.78 L410.27,473.00 L410.90,479.13 L411.53,485.08 L412.17,490.77 L412.80,496.14 L413.43,501.16 L414.06,505.81 L414.69,510.09 L415.32,513.99 L415.96,517.54 L416.59,520.74 L417.22,523.61 L417.85,526.19 L418.48,528.48 L419.11,530.51 L419.74,532.32 L420.38,533.91 L421.01,535.32 L421.64,536.56 L422.27,537.65 L422.90,538.62 L423.53,539.47 L424.17,540.22 L424.80,540.89 L425.43,541.48 L426.06,542.00 L426.69,542.46 L427.32,542.87 L427.95,543.23 L428.59,543.56 L429.22,543.84 L429.85,544.08 L430.48,544.30 L431.11,544.48 L431.74,544.63 L432.37,544.76 L433.01,544.85 L433.64,544.92 L434.27,544.97 L434.90,544.98 L435.53,544.97 L436.16,544.92 L436.79,544.85 L437.43,544.74 L438.06,544.60 L438.69,544.42 L439.32,544.19 L439.95,543.92 L440.58,543.60 L441.22,543.21 L441.85,542.77 L442.48,542.25 L443.11,541.64 L443.74,540.95 L444.37,540.16 L445.00,539.26 L445.64,538.24 L446.27,537.09 L446.90,535.81 L447.53,534.39 L448.16,532.81 L448.79,531.09 L449.42,529.22 L450.06,527.22 L450.69,525.10 L451.32,522.90 L451.95,520.67 L452.58,518.47 L453.21,516.39 L453.85,514.54 L454.48,513.00 L455.11,511.89 L455.74,511.28 L456.37,511.19 L457.00,511.61 L457.63,512.48 L458.27,513.71 L458.90,515.18 L459.53,516.80 L460.16,518.45 L460.79,520.08 L461.42,521.60 L462.05,522.99 L462.69,524.21 L463.32,525.24 L463.95,526.06 L464.58,526.69 L465.21,527.11 L465.84,527.32 L466.48,527.32 L467.11,527.13 L467.74,526.74 L468.37,526.17 L469.00,525.41 L469.63,524.48 L470.26,523.39 L470.90,522.14 L471.53,520.76 L472.16,519.26 L472.79,517.66 L473.42,515.98 L474.05,514.27 L474.69,512.54 L475.32,510.83 L475.95,509.16 L476.58,507.55 L477.21,506.00 L477.84,504.50 L478.47,503.02 L479.11,501.52 L479.74,499.94 L480.37,498.23 L481.00,496.32 L481.63,494.16 L482.26,491.69 L482.89,488.87 L483.53,485.67 L484.16,482.06 L484.79,478.04 L485.42,473.62 L486.05,468.84 L486.68,463.78 L487.32,458.57 L487.95,453.36 L488.58,448.38 L489.21,443.86 L489.84,440.09 L490.47,437.32 L491.10,435.78 L491.74,435.62 L492.37,436.89 L493.00,439.51 L493.63,443.33 L494.26,448.11 L494.89,453.60 L495.52,459.53 L496.16,465.66 L496.79,471.79 L497.42,477.78 L498.05,483.51 L498.68,488.91 L499.31,493.94 L499.94,498.60 L500.58,502.87 L501.21,506.77 L501.84,510.32 L502.47,513.54 L503.10,516.44 L503.73,519.06 L504.37,521.40 L505.00,523.50 L505.63,525.36 L506.26,527.00 L506.89,528.44 L507.52,529.68 L508.15,530.75 L508.79,531.63 L509.42,532.36 L510.05,532.93 L510.68,533.35 L511.31,533.63 L511.94,533.78 L512.57,533.82 L513.21,533.75 L513.84,533.59 L514.47,533.35 L515.10,533.06 L515.73,532.71 L516.36,532.34 L517.00,531.96 L517.63,531.59 L518.26,531.25 L518.89,530.95 L519.52,530.72 L520.15,530.56 L520.78,530.48 L521.42,530.51 L522.05,530.63 L522.68,530.86 L523.31,531.20 L523.94,531.62 L524.57,532.14 L525.21,532.73 L525.84,533.37 L526.47,534.06 L527.10,534.77 L527.73,535.48 L528.36,536.16 L528.99,536.79 L529.63,537.36 L530.26,537.83 L530.89,538.20 L531.52,538.45 L532.15,538.56 L532.78,538.54 L533.41,538.38 L534.05,538.08 L534.68,537.66 L535.31,537.12 L535.94,536.48 L536.57,535.78 L537.20,535.02 L537.84,534.24 L538.47,533.48 L539.10,532.76 L539.73,532.10 L540.36,531.55 L540.99,531.12 L541.62,530.83 L542.26,530.71 L542.89,530.76 L543.52,530.99 L544.15,531.40 L544.78,531.98 L545.41,532.73 L546.04,533.63 L546.68,534.65 L547.31,535.79 L547.94,537.00 L548.57,538.28 L549.20,539.58 L549.83,540.90 L550.47,542.20 L551.10,543.46 L551.73,544.67 L552.36,545.82 L552.99,546.89 L553.62,547.88 L554.25,548.78 L554.89,549.58 L555.52,550.30 L556.15,550.93 L556.78,551.47 L557.41,551.94 L558.04,552.34 L558.67,552.67 L559.31,552.95 L559.94,553.17 L560.57,553.36 L561.20,553.50 L561.83,553.62 L562.46,553.71 L563.10,553.77 L563.73,553.82 L564.36,553.85 L564.99,553.87 L565.62,553.88 L566.25,553.88 L566.88,553.87 L567.52,553.86 L568.15,553.84 L568.78,553.81 L569.41,553.78 L570.04,553.75 L570.67,553.71 L571.30,553.66 L571.94,553.61 L572.57,553.56 L573.20,553.50 L573.83,553.44 L574.46,553.37 L575.09,553.29 L575.73,553.21 L576.36,553.12 L576.99,553.02 L577.62,552.91 L578.25,552.80 L578.88,552.67 L579.51,552.54 L580.15,552.39 L580.78,552.23 L581.41,552.05 L582.04,551.87 L582.67,551.66 L583.30,551.44 L583.93,551.20 L584.57,550.94 L585.20,550.66 L585.83,550.35 L586.46,550.02 L587.09,549.67 L587.72,549.29 L588.36,548.89 L588.99,548.46 L589.62,548.02 L590.25,547.56 L590.88,547.09 L591.51,546.62 L592.14,546.16 L592.78,545.71 L593.41,545.29 L594.04,544.90 L594.67,544.56 L595.30,544.27 L595.93,544.02 L596.56,543.81 L597.20,543.62 L597.83,543.45 L598.46,543.26 L599.09,543.05 L599.72,542.79 L600.35,542.45 L600.99,542.02 L601.62,541.47 L602.25,540.78 L602.88,539.94 L603.51,538.91 L604.14,537.69 L604.77,536.25 L605.41,534.58 L606.04,532.66 L606.67,530.48 L607.30,528.04 L607.93,525.31 L608.56,522.33 L609.19,519.08 L609.83,515.60 L610.46,511.92 L611.09,508.11 L611.72,504.23 L612.35,500.39 L612.98,496.72 L613.62,493.38 L614.25,490.54 L614.88,488.38 L615.51,487.04 L616.14,486.64 L616.77,487.20 L617.40,488.70 L618.04,491.02 L618.67,494.01 L619.30,497.50 L619.93,501.32 L620.56,505.30 L621.19,509.33 L621.82,513.30 L622.46,517.13 L623.09,520.77 L623.72,524.19 L624.35,527.36 L624.98,530.27 L625.61,532.92 L626.25,535.32 L626.88,537.48 L627.51,539.40 L628.14,541.11 L628.77,542.62 L629.40,543.95 L630.03,545.12 L630.67,546.14 L631.30,547.04 L631.93,547.83 L632.56,548.52 L633.19,549.12 L633.82,549.66 L634.45,550.14 L635.09,550.56 L635.72,550.94 L636.35,551.29 L636.98,551.60 L637.61,551.88 L638.24,552.14 L638.88,552.38 L639.51,552.59 L640.14,552.80 L640.77,552.99 L641.40,553.16 L642.03,553.33 L642.66,553.48 L643.30,553.62 L643.93,553.76 L644.56,553.89 L645.19,554.01 L645.82,554.12 L646.45,554.23 L647.08,554.33 L647.72,554.42 L648.35,554.52 L648.98,554.60 L649.61,554.68 L650.24,554.76 L650.87,554.84 L651.51,554.91 L652.14,554.98 L652.77,555.04 L653.40,555.10 L654.03,555.16 L654.66,555.22 L655.29,555.27 L655.93,555.32 L656.56,555.37 L657.19,555.42 L657.82,555.46 L658.45,555.51 L659.08,555.55 L659.71,555.59 L660.35,555.63 L660.98,555.67 L661.61,555.70 L662.24,555.74 L662.87,555.77 L663.50,555.80 L664.13,555.84 L664.77,555.87 L665.40,555.89 L666.03,555.92 L666.66,555.95 L667.29,555.98 L667.92,556.00 L668.56,556.03 L669.19,556.05 L669.82,556.07 L670.45,556.10 L671.08,556.12 L671.71,556.14 L672.34,556.16 L672.98,556.18 L673.61,556.20 L674.24,556.22 L674.87,556.24 L675.50,556.26 L676.13,556.27 L676.76,556.29 L677.40,556.31 L678.03,556.32 L678.66,556.34 L679.29,556.35 L679.92,556.37 L680.55,556.38 L681.19,556.40 L681.82,556.41 L682.45,556.43 L683.08,556.44 L683.71,556.45 L684.34,556.46 L684.97,556.48 L685.61,556.49 L686.24,556.50 L686.87,556.51 L687.50,556.52 L688.13,556.53 L688.76,556.54 L689.40,556.56 L690.03,556.57 L690.66,556.58 L691.29,556.59 L691.92,556.60 L692.55,556.60 L693.18,556.61 L693.82,556.62 L694.45,556.63 L695.08,556.64 L695.71,556.65 L696.34,556.66 L696.97,556.67 L697.60,556.67 L698.24,556.68 L698.87,556.69 L699.50,556.70 L700.13,556.70 L700.76,556.71 L701.39,556.72 L702.02,556.73 L702.66,556.73 L703.29,556.74 L703.92,556.75 L704.55,556.75 L705.18,556.76 L705.81,556.77 L706.45,556.77 L707.08,556.78 L707.71,556.79 L708.34,556.79 L708.97,556.80 L709.60,556.80 L710.23,556.81 L710.87,556.81 L711.50,556.82 L712.13,556.83 L712.76,556.83 L713.39,556.84 L714.02,556.84 L714.66,556.85 L715.29,556.85 L715.92,556.86 L716.55,556.86 L717.18,556.87 L717.81,556.87 L718.44,556.88 L719.08,556.88 L719.71,556.89 L720.34,556.89 L720.97,556.89 L721.60,556.90 L722.23,556.90 L722.86,556.91 L723.50,556.91 L724.13,556.92 L724.76,556.92 L725.39,556.92 L726.02,556.93 L726.65,556.93 L727.29,556.94 L727.92,556.94 L728.55,556.94 L729.18,556.95 L729.81,556.95 L730.44,556.95 L731.07,556.96 L731.71,556.96 L732.34,556.97 L732.97,556.97 L733.60,556.97 L733.60,555.8 L102.10,555.8Z" fill="url(#gfill)"/>
<path d="M102.10,453.66 L102.73,452.72 L103.36,451.78 L103.99,450.83 L104.63,449.89 L105.26,448.94 L105.89,448.00 L106.52,447.05 L107.15,446.11 L107.78,445.16 L108.41,444.21 L109.05,443.26 L109.68,442.31 L110.31,441.36 L110.94,440.41 L111.57,439.46 L112.20,438.51 L112.84,437.55 L113.47,436.59 L114.10,435.64 L114.73,434.68 L115.36,433.72 L115.99,432.76 L116.62,431.79 L117.26,430.83 L117.89,429.86 L118.52,428.89 L119.15,427.92 L119.78,426.94 L120.41,425.97 L121.04,424.99 L121.68,424.01 L122.31,423.02 L122.94,422.04 L123.57,421.05 L124.20,420.07 L124.83,419.08 L125.47,418.09 L126.10,417.10 L126.73,416.11 L127.36,415.12 L127.99,414.13 L128.62,413.13 L129.25,412.14 L129.89,411.15 L130.52,410.16 L131.15,409.17 L131.78,408.18 L132.41,407.20 L133.04,406.21 L133.67,405.23 L134.31,404.24 L134.94,403.26 L135.57,402.28 L136.20,401.31 L136.83,400.33 L137.46,399.36 L138.10,398.39 L138.73,397.43 L139.36,396.47 L139.99,395.51 L140.62,394.55 L141.25,393.60 L141.88,392.66 L142.52,391.71 L143.15,390.77 L143.78,389.84 L144.41,388.91 L145.04,387.99 L145.67,387.08 L146.31,386.17 L146.94,385.27 L147.57,384.37 L148.20,383.48 L148.83,382.60 L149.46,381.73 L150.09,380.87 L150.73,380.01 L151.36,379.16 L151.99,378.33 L152.62,377.50 L153.25,376.68 L153.88,375.87 L154.51,375.08 L155.15,374.29 L155.78,373.52 L156.41,372.76 L157.04,372.01 L157.67,371.27 L158.30,370.54 L158.94,369.83 L159.57,369.13 L160.20,368.44 L160.83,367.77 L161.46,367.11 L162.09,366.47 L162.72,365.84 L163.36,365.23 L163.99,364.63 L164.62,364.05 L165.25,363.49 L165.88,362.94 L166.51,362.41 L167.14,361.89 L167.78,361.39 L168.41,360.91 L169.04,360.45 L169.67,360.01 L170.30,359.58 L170.93,359.17 L171.56,358.79 L172.20,358.42 L172.83,358.07 L173.46,357.74 L174.09,357.43 L174.72,357.15 L175.35,356.88 L175.99,356.64 L176.62,356.41 L177.25,356.21 L177.88,356.03 L178.51,355.88 L179.14,355.74 L179.77,355.63 L180.41,355.54 L181.04,355.48 L181.67,355.44 L182.30,355.42 L182.93,355.43 L183.56,355.46 L184.19,355.51 L184.83,355.58 L185.46,355.68 L186.09,355.80 L186.72,355.94 L187.35,356.10 L187.98,356.28 L188.62,356.48 L189.25,356.70 L189.88,356.95 L190.51,357.21 L191.14,357.49 L191.77,357.80 L192.40,358.12 L193.04,358.46 L193.67,358.82 L194.30,359.20 L194.93,359.59 L195.56,360.01 L196.19,360.44 L196.82,360.89 L197.46,361.36 L198.09,361.84 L198.72,362.35 L199.35,362.86 L199.98,363.40 L200.61,363.95 L201.25,364.51 L201.88,365.10 L202.51,365.70 L203.14,366.31 L203.77,366.94 L204.40,367.58 L205.03,368.24 L205.67,368.91 L206.30,369.60 L206.93,370.30 L207.56,371.02 L208.19,371.75 L208.82,372.50 L209.45,373.26 L210.09,374.03 L210.72,374.81 L211.35,375.61 L211.98,376.43 L212.61,377.25 L213.24,378.09 L213.88,378.94 L214.51,379.80 L215.14,380.68 L215.77,381.56 L216.40,382.46 L217.03,383.37 L217.66,384.29 L218.30,385.22 L218.93,386.16 L219.56,387.10 L220.19,388.06 L220.82,389.01 L221.45,389.97 L222.08,390.94 L222.72,391.91 L223.35,392.88 L223.98,393.85 L224.61,394.82 L225.24,395.79 L225.87,396.76 L226.51,397.73 L227.14,398.70 L227.77,399.66 L228.40,400.62 L229.03,401.57 L229.66,402.51 L230.29,403.45 L230.93,404.37 L231.56,405.29 L232.19,406.20 L232.82,407.10 L233.45,407.99 L234.08,408.86 L234.72,409.72 L235.35,410.57 L235.98,411.41 L236.61,412.23 L237.24,413.04 L237.87,413.83 L238.50,414.61 L239.14,415.37 L239.77,416.12 L240.40,416.84 L241.03,417.56 L241.66,418.25 L242.29,418.92 L242.92,419.58 L243.56,420.22 L244.19,420.83 L244.82,421.43 L245.45,422.00 L246.08,422.56 L246.71,423.09 L247.34,423.60 L247.98,424.09 L248.61,424.55 L249.24,424.99 L249.87,425.41 L250.50,425.80 L251.13,426.18 L251.77,426.53 L252.40,426.87 L253.03,427.19 L253.66,427.49 L254.29,427.78 L254.92,428.05 L255.55,428.31 L256.19,428.56 L256.82,428.79 L257.45,429.02 L258.08,429.23 L258.71,429.44 L259.34,429.65 L259.98,429.84 L260.61,430.03 L261.24,430.22 L261.87,430.40 L262.50,430.58 L263.13,430.74 L263.76,430.90 L264.40,431.06 L265.03,431.20 L265.66,431.33 L266.29,431.46 L266.92,431.58 L267.55,431.68 L268.18,431.77 L268.82,431.86 L269.45,431.93 L270.08,431.99 L270.71,432.03 L271.34,432.06 L271.97,432.08 L272.61,432.08 L273.24,432.07 L273.87,432.05 L274.50,432.01 L275.13,431.95 L275.76,431.88 L276.39,431.80 L277.03,431.70 L277.66,431.59 L278.29,431.46 L278.92,431.33 L279.55,431.17 L280.18,431.01 L280.81,430.83 L281.45,430.64 L282.08,430.43 L282.71,430.21 L283.34,429.98 L283.97,429.73 L284.60,429.48 L285.24,429.21 L285.87,428.92 L286.50,428.63 L287.13,428.32 L287.76,428.00 L288.39,427.67 L289.02,427.32 L289.66,426.97 L290.29,426.60 L290.92,426.22 L291.55,425.82 L292.18,425.42 L292.81,425.01 L293.44,424.58 L294.08,424.14 L294.71,423.69 L295.34,423.23 L295.97,422.76 L296.60,422.28 L297.23,421.79 L297.87,421.29 L298.50,420.77 L299.13,420.25 L299.76,419.72 L300.39,419.17 L301.02,418.62 L301.65,418.06 L302.29,417.49 L302.92,416.90 L303.55,416.31 L304.18,415.71 L304.81,415.11 L305.44,414.49 L306.07,413.86 L306.71,413.23 L307.34,412.59 L307.97,411.94 L308.60,411.28 L309.23,410.61 L309.86,409.94 L310.50,409.26 L311.13,408.57 L311.76,407.87 L312.39,407.17 L313.02,406.46 L313.65,405.75 L314.28,405.02 L314.92,404.29 L315.55,403.56 L316.18,402.81 L316.81,402.07 L317.44,401.31 L318.07,400.55 L318.70,399.78 L319.34,399.01 L319.97,398.24 L320.60,397.46 L321.23,396.67 L321.86,395.88 L322.49,395.08 L323.12,394.29 L323.76,393.49 L324.39,392.68 L325.02,391.88 L325.65,391.07 L326.28,390.26 L326.91,389.46 L327.55,388.65 L328.18,387.84 L328.81,387.04 L329.44,386.23 L330.07,385.43 L330.70,384.63 L331.33,383.84 L331.97,383.04 L332.60,382.25 L333.23,381.47 L333.86,380.69 L334.49,379.92 L335.12,379.15 L335.75,378.39 L336.39,377.63 L337.02,376.89 L337.65,376.15 L338.28,375.42 L338.91,374.69 L339.54,373.98 L340.18,373.28 L340.81,372.59 L341.44,371.91 L342.07,371.24 L342.70,370.58 L343.33,369.93 L343.96,369.30 L344.60,368.68 L345.23,368.07 L345.86,367.48 L346.49,366.91 L347.12,366.34 L347.75,365.80 L348.38,365.26 L349.02,364.75 L349.65,364.24 L350.28,363.75 L350.91,363.28 L351.54,362.82 L352.17,362.37 L352.81,361.94 L353.44,361.52 L354.07,361.12 L354.70,360.73 L355.33,360.35 L355.96,359.99 L356.59,359.64 L357.23,359.30 L357.86,358.98 L358.49,358.67 L359.12,358.37 L359.75,358.09 L360.38,357.81 L361.01,357.55 L361.65,357.31 L362.28,357.07 L362.91,356.85 L363.54,356.64 L364.17,356.44 L364.80,356.25 L365.44,356.08 L366.07,355.92 L366.70,355.77 L367.33,355.63 L367.96,355.50 L368.59,355.38 L369.22,355.27 L369.86,355.18 L370.49,355.10 L371.12,355.02 L371.75,354.96 L372.38,354.91 L373.01,354.87 L373.64,354.84 L374.28,354.82 L374.91,354.80 L375.54,354.80 L376.17,354.81 L376.80,354.83 L377.43,354.86 L378.07,354.90 L378.70,354.94 L379.33,355.00 L379.96,355.07 L380.59,355.14 L381.22,355.22 L381.85,355.31 L382.49,355.41 L383.12,355.52 L383.75,355.64 L384.38,355.76 L385.01,355.89 L385.64,356.03 L386.27,356.18 L386.91,356.33 L387.54,356.49 L388.17,356.66 L388.80,356.84 L389.43,357.02 L390.06,357.21 L390.70,357.40 L391.33,357.60 L391.96,357.81 L392.59,358.03 L393.22,358.25 L393.85,358.47 L394.48,358.71 L395.12,358.94 L395.75,359.19 L396.38,359.43 L397.01,359.69 L397.64,359.95 L398.27,360.21 L398.90,360.48 L399.54,360.75 L400.17,361.03 L400.80,361.31 L401.43,361.59 L402.06,361.88 L402.69,362.18 L403.33,362.47 L403.96,362.77 L404.59,363.08 L405.22,363.38 L405.85,363.69 L406.48,364.00 L407.11,364.32 L407.75,364.64 L408.38,364.95 L409.01,365.28 L409.64,365.60 L410.27,365.92 L410.90,366.25 L411.53,366.58 L412.17,366.91 L412.80,367.24 L413.43,367.57 L414.06,367.90 L414.69,368.23 L415.32,368.56 L415.96,368.89 L416.59,369.22 L417.22,369.56 L417.85,369.89 L418.48,370.22 L419.11,370.55 L419.74,370.88 L420.38,371.20 L421.01,371.53 L421.64,371.86 L422.27,372.18 L422.90,372.50 L423.53,372.82 L424.17,373.14 L424.80,373.45 L425.43,373.76 L426.06,374.07 L426.69,374.38 L427.32,374.68 L427.95,374.98 L428.59,375.28 L429.22,375.57 L429.85,375.86 L430.48,376.15 L431.11,376.43 L431.74,376.71 L432.37,376.98 L433.01,377.25 L433.64,377.52 L434.27,377.78 L434.90,378.03 L435.53,378.29 L436.16,378.54 L436.79,378.78 L437.43,379.02 L438.06,379.26 L438.69,379.49 L439.32,379.72 L439.95,379.94 L440.58,380.16 L441.22,380.38 L441.85,380.59 L442.48,380.79 L443.11,381.00 L443.74,381.20 L444.37,381.39 L445.00,381.58 L445.64,381.77 L446.27,381.95 L446.90,382.13 L447.53,382.30 L448.16,382.47 L448.79,382.64 L449.42,382.80 L450.06,382.95 L450.69,383.11 L451.32,383.25 L451.95,383.40 L452.58,383.54 L453.21,383.68 L453.85,383.81 L454.48,383.94 L455.11,384.07 L455.74,384.20 L456.37,384.33 L457.00,384.45 L457.63,384.57 L458.27,384.69 L458.90,384.81 L459.53,384.93 L460.16,385.05 L460.79,385.16 L461.42,385.28 L462.05,385.40 L462.69,385.52 L463.32,385.64 L463.95,385.76 L464.58,385.88 L465.21,386.00 L465.84,386.13 L466.48,386.26 L467.11,386.39 L467.74,386.52 L468.37,386.65 L469.00,386.79 L469.63,386.93 L470.26,387.08 L470.90,387.23 L471.53,387.38 L472.16,387.53 L472.79,387.70 L473.42,387.86 L474.05,388.03 L474.69,388.21 L475.32,388.39 L475.95,388.58 L476.58,388.78 L477.21,388.98 L477.84,389.18 L478.47,389.39 L479.11,389.61 L479.74,389.83 L480.37,390.06 L481.00,390.29 L481.63,390.54 L482.26,390.78 L482.89,391.04 L483.53,391.30 L484.16,391.56 L484.79,391.83 L485.42,392.11 L486.05,392.40 L486.68,392.69 L487.32,392.99 L487.95,393.30 L488.58,393.61 L489.21,393.93 L489.84,394.26 L490.47,394.59 L491.10,394.93 L491.74,395.28 L492.37,395.63 L493.00,396.00 L493.63,396.37 L494.26,396.74 L494.89,397.13 L495.52,397.52 L496.16,397.92 L496.79,398.33 L497.42,398.74 L498.05,399.16 L498.68,399.59 L499.31,400.03 L499.94,400.48 L500.58,400.93 L501.21,401.38 L501.84,401.85 L502.47,402.32 L503.10,402.80 L503.73,403.28 L504.37,403.77 L505.00,404.27 L505.63,404.77 L506.26,405.28 L506.89,405.79 L507.52,406.31 L508.15,406.84 L508.79,407.37 L509.42,407.90 L510.05,408.45 L510.68,408.99 L511.31,409.54 L511.94,410.10 L512.57,410.66 L513.21,411.22 L513.84,411.79 L514.47,412.36 L515.10,412.94 L515.73,413.52 L516.36,414.10 L517.00,414.69 L517.63,415.28 L518.26,415.88 L518.89,416.48 L519.52,417.08 L520.15,417.68 L520.78,418.29 L521.42,418.90 L522.05,419.51 L522.68,420.12 L523.31,420.74 L523.94,421.35 L524.57,421.97 L525.21,422.59 L525.84,423.21 L526.47,423.82 L527.10,424.44 L527.73,425.06 L528.36,425.68 L528.99,426.29 L529.63,426.91 L530.26,427.52 L530.89,428.13 L531.52,428.74 L532.15,429.35 L532.78,429.96 L533.41,430.56 L534.05,431.16 L534.68,431.76 L535.31,432.35 L535.94,432.95 L536.57,433.54 L537.20,434.12 L537.84,434.71 L538.47,435.29 L539.10,435.86 L539.73,436.44 L540.36,437.01 L540.99,437.57 L541.62,438.13 L542.26,438.69 L542.89,439.24 L543.52,439.79 L544.15,440.33 L544.78,440.87 L545.41,441.40 L546.04,441.93 L546.68,442.45 L547.31,442.97 L547.94,443.49 L548.57,443.99 L549.20,444.49 L549.83,444.99 L550.47,445.48 L551.10,445.96 L551.73,446.44 L552.36,446.91 L552.99,447.37 L553.62,447.83 L554.25,448.28 L554.89,448.73 L555.52,449.16 L556.15,449.59 L556.78,450.01 L557.41,450.43 L558.04,450.84 L558.67,451.24 L559.31,451.63 L559.94,452.02 L560.57,452.40 L561.20,452.77 L561.83,453.14 L562.46,453.50 L563.10,453.86 L563.73,454.21 L564.36,454.55 L564.99,454.89 L565.62,455.23 L566.25,455.55 L566.88,455.88 L567.52,456.19 L568.15,456.50 L568.78,456.81 L569.41,457.11 L570.04,457.41 L570.67,457.70 L571.30,457.99 L571.94,458.28 L572.57,458.56 L573.20,458.83 L573.83,459.11 L574.46,459.38 L575.09,459.64 L575.73,459.90 L576.36,460.16 L576.99,460.42 L577.62,460.67 L578.25,460.92 L578.88,461.16 L579.51,461.41 L580.15,461.65 L580.78,461.89 L581.41,462.12 L582.04,462.36 L582.67,462.59 L583.30,462.82 L583.93,463.04 L584.57,463.27 L585.20,463.50 L585.83,463.72 L586.46,463.94 L587.09,464.16 L587.72,464.38 L588.36,464.60 L588.99,464.82 L589.62,465.04 L590.25,465.26 L590.88,465.48 L591.51,465.69 L592.14,465.91 L592.78,466.13 L593.41,466.35 L594.04,466.56 L594.67,466.78 L595.30,467.00 L595.93,467.22 L596.56,467.45 L597.20,467.67 L597.83,467.89 L598.46,468.12 L599.09,468.35 L599.72,468.58 L600.35,468.81 L600.99,469.04 L601.62,469.27 L602.25,469.51 L602.88,469.75 L603.51,469.99 L604.14,470.24 L604.77,470.49 L605.41,470.74 L606.04,470.99 L606.67,471.25 L607.30,471.51 L607.93,471.77 L608.56,472.04 L609.19,472.31 L609.83,472.59 L610.46,472.87 L611.09,473.15 L611.72,473.44 L612.35,473.73 L612.98,474.03 L613.62,474.33 L614.25,474.64 L614.88,474.95 L615.51,475.27 L616.14,475.59 L616.77,475.91 L617.40,476.24 L618.04,476.57 L618.67,476.90 L619.30,477.24 L619.93,477.58 L620.56,477.93 L621.19,478.28 L621.82,478.63 L622.46,478.98 L623.09,479.34 L623.72,479.70 L624.35,480.07 L624.98,480.43 L625.61,480.80 L626.25,481.17 L626.88,481.55 L627.51,481.93 L628.14,482.31 L628.77,482.69 L629.40,483.07 L630.03,483.46 L630.67,483.84 L631.30,484.23 L631.93,484.63 L632.56,485.02 L633.19,485.41 L633.82,485.81 L634.45,486.21 L635.09,486.61 L635.72,487.01 L636.35,487.41 L636.98,487.82 L637.61,488.22 L638.24,488.63 L638.88,489.04 L639.51,489.45 L640.14,489.87 L640.77,490.28 L641.40,490.70 L642.03,491.12 L642.66,491.55 L643.30,491.97 L643.93,492.40 L644.56,492.83 L645.19,493.26 L645.82,493.69 L646.45,494.13 L647.08,494.57 L647.72,495.01 L648.35,495.46 L648.98,495.90 L649.61,496.35 L650.24,496.80 L650.87,497.26 L651.51,497.72 L652.14,498.17 L652.77,498.63 L653.40,499.09 L654.03,499.55 L654.66,500.01 L655.29,500.47 L655.93,500.93 L656.56,501.39 L657.19,501.85 L657.82,502.30 L658.45,502.75 L659.08,503.20 L659.71,503.64 L660.35,504.08 L660.98,504.51 L661.61,504.94 L662.24,505.37 L662.87,505.79 L663.50,506.20 L664.13,506.60 L664.77,507.00 L665.40,507.40 L666.03,507.78 L666.66,508.17 L667.29,508.54 L667.92,508.91 L668.56,509.28 L669.19,509.63 L669.82,509.99 L670.45,510.33 L671.08,510.67 L671.71,511.01 L672.34,511.34 L672.98,511.66 L673.61,511.98 L674.24,512.30 L674.87,512.60 L675.50,512.91 L676.13,513.20 L676.76,513.50 L677.40,513.79 L678.03,514.07 L678.66,514.35 L679.29,514.62 L679.92,514.89 L680.55,515.15 L681.19,515.41 L681.82,515.66 L682.45,515.91 L683.08,516.16 L683.71,516.40 L684.34,516.63 L684.97,516.86 L685.61,517.09 L686.24,517.31 L686.87,517.53 L687.50,517.75 L688.13,517.96 L688.76,518.16 L689.40,518.36 L690.03,518.56 L690.66,518.76 L691.29,518.95 L691.92,519.13 L692.55,519.32 L693.18,519.50 L693.82,519.67 L694.45,519.84 L695.08,520.01 L695.71,520.18 L696.34,520.34 L696.97,520.50 L697.60,520.65 L698.24,520.81 L698.87,520.96 L699.50,521.10 L700.13,521.24 L700.76,521.38 L701.39,521.52 L702.02,521.66 L702.66,521.79 L703.29,521.92 L703.92,522.04 L704.55,522.16 L705.18,522.28 L705.81,522.40 L706.45,522.52 L707.08,522.63 L707.71,522.74 L708.34,522.85 L708.97,522.96 L709.60,523.06 L710.23,523.16 L710.87,523.26 L711.50,523.36 L712.13,523.46 L712.76,523.55 L713.39,523.64 L714.02,523.73 L714.66,523.82 L715.29,523.91 L715.92,523.99 L716.55,524.08 L717.18,524.16 L717.81,524.24 L718.44,524.32 L719.08,524.40 L719.71,524.47 L720.34,524.55 L720.97,524.62 L721.60,524.69 L722.23,524.77 L722.86,524.84 L723.50,524.91 L724.13,524.98 L724.76,525.04 L725.39,525.11 L726.02,525.18 L726.65,525.24 L727.29,525.31 L727.92,525.37 L728.55,525.44 L729.18,525.50 L729.81,525.57 L730.44,525.63 L731.07,525.69 L731.71,525.75 L732.34,525.82 L732.97,525.88 L733.60,525.94" fill="none" stroke="#808080" stroke-width="4.0" stroke-linejoin="round"/>
<path d="M102.10,552.02 L102.73,551.88 L103.36,551.73 L103.99,551.59 L104.63,551.43 L105.26,551.27 L105.89,551.10 L106.52,550.92 L107.15,550.73 L107.78,550.53 L108.41,550.33 L109.05,550.11 L109.68,549.88 L110.31,549.64 L110.94,549.39 L111.57,549.12 L112.20,548.84 L112.84,548.54 L113.47,548.23 L114.10,547.89 L114.73,547.53 L115.36,547.15 L115.99,546.74 L116.62,546.30 L117.26,545.83 L117.89,545.31 L118.52,544.76 L119.15,544.16 L119.78,543.50 L120.41,542.79 L121.04,542.00 L121.68,541.14 L122.31,540.18 L122.94,539.13 L123.57,537.97 L124.20,536.69 L124.83,535.27 L125.47,533.70 L126.10,531.96 L126.73,530.04 L127.36,527.93 L127.99,525.60 L128.62,523.04 L129.25,520.24 L129.89,517.20 L130.52,513.88 L131.15,510.30 L131.78,506.45 L132.41,502.34 L133.04,497.97 L133.67,493.37 L134.31,488.58 L134.94,483.63 L135.57,478.62 L136.20,473.63 L136.83,468.77 L137.46,464.19 L138.10,460.04 L138.73,456.49 L139.36,453.71 L139.99,451.82 L140.62,450.93 L141.25,451.09 L141.88,452.26 L142.52,454.37 L143.15,457.31 L143.78,460.91 L144.41,465.00 L145.04,469.43 L145.67,474.04 L146.31,478.71 L146.94,483.33 L147.57,487.83 L148.20,492.14 L148.83,496.22 L149.46,500.04 L150.09,503.58 L150.73,506.84 L151.36,509.82 L151.99,512.51 L152.62,514.92 L153.25,517.06 L153.88,518.94 L154.51,520.56 L155.15,521.94 L155.78,523.09 L156.41,524.00 L157.04,524.69 L157.67,525.14 L158.30,525.36 L158.94,525.33 L159.57,525.05 L160.20,524.47 L160.83,523.59 L161.46,522.36 L162.09,520.74 L162.72,518.71 L163.36,516.21 L163.99,513.21 L164.62,509.68 L165.25,505.59 L165.88,500.93 L166.51,495.70 L167.14,489.93 L167.78,483.67 L168.41,476.99 L169.04,470.01 L169.67,462.86 L170.30,455.73 L170.93,448.85 L171.56,442.47 L172.20,436.86 L172.83,432.29 L173.46,428.96 L174.09,426.99 L174.72,426.36 L175.35,426.93 L175.99,428.45 L176.62,430.62 L177.25,433.12 L177.88,435.65 L178.51,437.94 L179.14,439.76 L179.77,440.91 L180.41,441.22 L181.04,440.56 L181.67,438.83 L182.30,435.96 L182.93,431.90 L183.56,426.63 L184.19,420.20 L184.83,412.67 L185.46,404.19 L186.09,394.96 L186.72,385.30 L187.35,375.59 L187.98,366.35 L188.62,358.12 L189.25,351.51 L189.88,347.05 L190.51,345.15 L191.14,346.03 L191.77,349.67 L192.40,355.81 L193.04,364.03 L193.67,373.80 L194.30,384.58 L194.93,395.85 L195.56,407.19 L196.19,418.28 L196.82,428.90 L197.46,438.89 L198.09,448.18 L198.72,456.75 L199.35,464.59 L199.98,471.75 L200.61,478.25 L201.25,484.15 L201.88,489.50 L202.51,494.35 L203.14,498.75 L203.77,502.74 L204.40,506.37 L205.03,509.66 L205.67,512.67 L206.30,515.41 L206.93,517.92 L207.56,520.21 L208.19,522.32 L208.82,524.25 L209.45,526.03 L210.09,527.67 L210.72,529.18 L211.35,530.58 L211.98,531.88 L212.61,533.09 L213.24,534.20 L213.88,535.25 L214.51,536.22 L215.14,537.12 L215.77,537.97 L216.40,538.76 L217.03,539.50 L217.66,540.20 L218.30,540.85 L218.93,541.46 L219.56,542.04 L220.19,542.59 L220.82,543.10 L221.45,543.59 L222.08,544.05 L222.72,544.48 L223.35,544.89 L223.98,545.28 L224.61,545.65 L225.24,546.00 L225.87,546.33 L226.51,546.65 L227.14,546.95 L227.77,547.23 L228.40,547.51 L229.03,547.77 L229.66,548.01 L230.29,548.25 L230.93,548.48 L231.56,548.69 L232.19,548.90 L232.82,549.10 L233.45,549.28 L234.08,549.46 L234.72,549.64 L235.35,549.80 L235.98,549.96 L236.61,550.11 L237.24,550.26 L237.87,550.40 L238.50,550.53 L239.14,550.66 L239.77,550.78 L240.40,550.90 L241.03,551.02 L241.66,551.13 L242.29,551.23 L242.92,551.33 L243.56,551.43 L244.19,551.52 L244.82,551.61 L245.45,551.70 L246.08,551.78 L246.71,551.86 L247.34,551.94 L247.98,552.01 L248.61,552.08 L249.24,552.15 L249.87,552.22 L250.50,552.28 L251.13,552.34 L251.77,552.40 L252.40,552.45 L253.03,552.51 L253.66,552.56 L254.29,552.61 L254.92,552.65 L255.55,552.70 L256.19,552.74 L256.82,552.78 L257.45,552.82 L258.08,552.86 L258.71,552.90 L259.34,552.93 L259.98,552.96 L260.61,552.99 L261.24,553.02 L261.87,553.05 L262.50,553.08 L263.13,553.10 L263.76,553.13 L264.40,553.15 L265.03,553.17 L265.66,553.19 L266.29,553.20 L266.92,553.22 L267.55,553.24 L268.18,553.25 L268.82,553.26 L269.45,553.27 L270.08,553.28 L270.71,553.29 L271.34,553.30 L271.97,553.30 L272.61,553.31 L273.24,553.31 L273.87,553.31 L274.50,553.32 L275.13,553.31 L275.76,553.31 L276.39,553.31 L277.03,553.31 L277.66,553.30 L278.29,553.29 L278.92,553.29 L279.55,553.28 L280.18,553.27 L280.81,553.25 L281.45,553.24 L282.08,553.23 L282.71,553.21 L283.34,553.19 L283.97,553.18 L284.60,553.16 L285.24,553.13 L285.87,553.11 L286.50,553.09 L287.13,553.06 L287.76,553.03 L288.39,553.00 L289.02,552.97 L289.66,552.94 L290.29,552.91 L290.92,552.87 L291.55,552.83 L292.18,552.79 L292.81,552.75 L293.44,552.71 L294.08,552.66 L294.71,552.61 L295.34,552.57 L295.97,552.51 L296.60,552.46 L297.23,552.40 L297.87,552.34 L298.50,552.28 L299.13,552.22 L299.76,552.15 L300.39,552.08 L301.02,552.01 L301.65,551.93 L302.29,551.85 L302.92,551.77 L303.55,551.68 L304.18,551.60 L304.81,551.50 L305.44,551.40 L306.07,551.30 L306.71,551.20 L307.34,551.09 L307.97,550.97 L308.60,550.85 L309.23,550.73 L309.86,550.60 L310.50,550.46 L311.13,550.32 L311.76,550.17 L312.39,550.01 L313.02,549.85 L313.65,549.68 L314.28,549.50 L314.92,549.31 L315.55,549.11 L316.18,548.91 L316.81,548.69 L317.44,548.45 L318.07,548.21 L318.70,547.95 L319.34,547.67 L319.97,547.38 L320.60,547.06 L321.23,546.72 L321.86,546.36 L322.49,545.97 L323.12,545.54 L323.76,545.08 L324.39,544.58 L325.02,544.03 L325.65,543.43 L326.28,542.77 L326.91,542.04 L327.55,541.24 L328.18,540.36 L328.81,539.37 L329.44,538.29 L330.07,537.08 L330.70,535.75 L331.33,534.27 L331.97,532.63 L332.60,530.82 L333.23,528.83 L333.86,526.63 L334.49,524.21 L335.12,521.56 L335.75,518.66 L336.39,515.50 L337.02,512.07 L337.65,508.35 L338.28,504.34 L338.91,500.04 L339.54,495.43 L340.18,490.53 L340.81,485.33 L341.44,479.83 L342.07,474.07 L342.70,468.04 L343.33,461.78 L343.96,455.32 L344.60,448.68 L345.23,441.93 L345.86,435.10 L346.49,428.26 L347.12,421.48 L347.75,414.85 L348.38,408.44 L349.02,402.37 L349.65,396.73 L350.28,391.64 L350.91,387.20 L351.54,383.52 L352.17,380.69 L352.81,378.79 L353.44,377.86 L354.07,377.94 L354.70,379.03 L355.33,381.08 L355.96,384.04 L356.59,387.83 L357.23,392.35 L357.86,397.50 L358.49,403.16 L359.12,409.23 L359.75,415.61 L360.38,422.19 L361.01,428.89 L361.65,435.63 L362.28,442.35 L362.91,448.97 L363.54,455.46 L364.17,461.77 L364.80,467.86 L365.44,473.71 L366.07,479.29 L366.70,484.58 L367.33,489.59 L367.96,494.29 L368.59,498.68 L369.22,502.77 L369.86,506.55 L370.49,510.04 L371.12,513.25 L371.75,516.17 L372.38,518.83 L373.01,521.24 L373.64,523.41 L374.28,525.36 L374.91,527.10 L375.54,528.64 L376.17,530.00 L376.80,531.20 L377.43,532.24 L378.07,533.13 L378.70,533.90 L379.33,534.54 L379.96,535.07 L380.59,535.49 L381.22,535.81 L381.85,536.04 L382.49,536.18 L383.12,536.22 L383.75,536.18 L384.38,536.04 L385.01,535.81 L385.64,535.48 L386.27,535.05 L386.91,534.50 L387.54,533.82 L388.17,533.01 L388.80,532.03 L389.43,530.89 L390.06,529.56 L390.70,528.01 L391.33,526.23 L391.96,524.20 L392.59,521.88 L393.22,519.26 L393.85,516.32 L394.48,513.04 L395.12,509.39 L395.75,505.37 L396.38,500.97 L397.01,496.20 L397.64,491.07 L398.27,485.61 L398.90,479.86 L399.54,473.89 L400.17,467.81 L400.80,461.75 L401.43,455.87 L402.06,450.40 L402.69,445.55 L403.33,441.58 L403.96,438.72 L404.59,437.15 L405.22,436.98 L405.85,438.24 L406.48,440.83 L407.11,444.60 L407.75,449.32 L408.38,454.74 L409.01,460.64 L409.64,466.78 L410.27,473.00 L410.90,479.13 L411.53,485.08 L412.17,490.77 L412.80,496.14 L413.43,501.16 L414.06,505.81 L414.69,510.09 L415.32,513.99 L415.96,517.54 L416.59,520.74 L417.22,523.61 L417.85,526.19 L418.48,528.48 L419.11,530.51 L419.74,532.32 L420.38,533.91 L421.01,535.32 L421.64,536.56 L422.27,537.65 L422.90,538.62 L423.53,539.47 L424.17,540.22 L424.80,540.89 L425.43,541.48 L426.06,542.00 L426.69,542.46 L427.32,542.87 L427.95,543.23 L428.59,543.56 L429.22,543.84 L429.85,544.08 L430.48,544.30 L431.11,544.48 L431.74,544.63 L432.37,544.76 L433.01,544.85 L433.64,544.92 L434.27,544.97 L434.90,544.98 L435.53,544.97 L436.16,544.92 L436.79,544.85 L437.43,544.74 L438.06,544.60 L438.69,544.42 L439.32,544.19 L439.95,543.92 L440.58,543.60 L441.22,543.21 L441.85,542.77 L442.48,542.25 L443.11,541.64 L443.74,540.95 L444.37,540.16 L445.00,539.26 L445.64,538.24 L446.27,537.09 L446.90,535.81 L447.53,534.39 L448.16,532.81 L448.79,531.09 L449.42,529.22 L450.06,527.22 L450.69,525.10 L451.32,522.90 L451.95,520.67 L452.58,518.47 L453.21,516.39 L453.85,514.54 L454.48,513.00 L455.11,511.89 L455.74,511.28 L456.37,511.19 L457.00,511.61 L457.63,512.48 L458.27,513.71 L458.90,515.18 L459.53,516.80 L460.16,518.45 L460.79,520.08 L461.42,521.60 L462.05,522.99 L462.69,524.21 L463.32,525.24 L463.95,526.06 L464.58,526.69 L465.21,527.11 L465.84,527.32 L466.48,527.32 L467.11,527.13 L467.74,526.74 L468.37,526.17 L469.00,525.41 L469.63,524.48 L470.26,523.39 L470.90,522.14 L471.53,520.76 L472.16,519.26 L472.79,517.66 L473.42,515.98 L474.05,514.27 L474.69,512.54 L475.32,510.83 L475.95,509.16 L476.58,507.55 L477.21,506.00 L477.84,504.50 L478.47,503.02 L479.11,501.52 L479.74,499.94 L480.37,498.23 L481.00,496.32 L481.63,494.16 L482.26,491.69 L482.89,488.87 L483.53,485.67 L484.16,482.06 L484.79,478.04 L485.42,473.62 L486.05,468.84 L486.68,463.78 L487.32,458.57 L487.95,453.36 L488.58,448.38 L489.21,443.86 L489.84,440.09 L490.47,437.32 L491.10,435.78 L491.74,435.62 L492.37,436.89 L493.00,439.51 L493.63,443.33 L494.26,448.11 L494.89,453.60 L495.52,459.53 L496.16,465.66 L496.79,471.79 L497.42,477.78 L498.05,483.51 L498.68,488.91 L499.31,493.94 L499.94,498.60 L500.58,502.87 L501.21,506.77 L501.84,510.32 L502.47,513.54 L503.10,516.44 L503.73,519.06 L504.37,521.40 L505.00,523.50 L505.63,525.36 L506.26,527.00 L506.89,528.44 L507.52,529.68 L508.15,530.75 L508.79,531.63 L509.42,532.36 L510.05,532.93 L510.68,533.35 L511.31,533.63 L511.94,533.78 L512.57,533.82 L513.21,533.75 L513.84,533.59 L514.47,533.35 L515.10,533.06 L515.73,532.71 L516.36,532.34 L517.00,531.96 L517.63,531.59 L518.26,531.25 L518.89,530.95 L519.52,530.72 L520.15,530.56 L520.78,530.48 L521.42,530.51 L522.05,530.63 L522.68,530.86 L523.31,531.20 L523.94,531.62 L524.57,532.14 L525.21,532.73 L525.84,533.37 L526.47,534.06 L527.10,534.77 L527.73,535.48 L528.36,536.16 L528.99,536.79 L529.63,537.36 L530.26,537.83 L530.89,538.20 L531.52,538.45 L532.15,538.56 L532.78,538.54 L533.41,538.38 L534.05,538.08 L534.68,537.66 L535.31,537.12 L535.94,536.48 L536.57,535.78 L537.20,535.02 L537.84,534.24 L538.47,533.48 L539.10,532.76 L539.73,532.10 L540.36,531.55 L540.99,531.12 L541.62,530.83 L542.26,530.71 L542.89,530.76 L543.52,530.99 L544.15,531.40 L544.78,531.98 L545.41,532.73 L546.04,533.63 L546.68,534.65 L547.31,535.79 L547.94,537.00 L548.57,538.28 L549.20,539.58 L549.83,540.90 L550.47,542.20 L551.10,543.46 L551.73,544.67 L552.36,545.82 L552.99,546.89 L553.62,547.88 L554.25,548.78 L554.89,549.58 L555.52,550.30 L556.15,550.93 L556.78,551.47 L557.41,551.94 L558.04,552.34 L558.67,552.67 L559.31,552.95 L559.94,553.17 L560.57,553.36 L561.20,553.50 L561.83,553.62 L562.46,553.71 L563.10,553.77 L563.73,553.82 L564.36,553.85 L564.99,553.87 L565.62,553.88 L566.25,553.88 L566.88,553.87 L567.52,553.86 L568.15,553.84 L568.78,553.81 L569.41,553.78 L570.04,553.75 L570.67,553.71 L571.30,553.66 L571.94,553.61 L572.57,553.56 L573.20,553.50 L573.83,553.44 L574.46,553.37 L575.09,553.29 L575.73,553.21 L576.36,553.12 L576.99,553.02 L577.62,552.91 L578.25,552.80 L578.88,552.67 L579.51,552.54 L580.15,552.39 L580.78,552.23 L581.41,552.05 L582.04,551.87 L582.67,551.66 L583.30,551.44 L583.93,551.20 L584.57,550.94 L585.20,550.66 L585.83,550.35 L586.46,550.02 L587.09,549.67 L587.72,549.29 L588.36,548.89 L588.99,548.46 L589.62,548.02 L590.25,547.56 L590.88,547.09 L591.51,546.62 L592.14,546.16 L592.78,545.71 L593.41,545.29 L594.04,544.90 L594.67,544.56 L595.30,544.27 L595.93,544.02 L596.56,543.81 L597.20,543.62 L597.83,543.45 L598.46,543.26 L599.09,543.05 L599.72,542.79 L600.35,542.45 L600.99,542.02 L601.62,541.47 L602.25,540.78 L602.88,539.94 L603.51,538.91 L604.14,537.69 L604.77,536.25 L605.41,534.58 L606.04,532.66 L606.67,530.48 L607.30,528.04 L607.93,525.31 L608.56,522.33 L609.19,519.08 L609.83,515.60 L610.46,511.92 L611.09,508.11 L611.72,504.23 L612.35,500.39 L612.98,496.72 L613.62,493.38 L614.25,490.54 L614.88,488.38 L615.51,487.04 L616.14,486.64 L616.77,487.20 L617.40,488.70 L618.04,491.02 L618.67,494.01 L619.30,497.50 L619.93,501.32 L620.56,505.30 L621.19,509.33 L621.82,513.30 L622.46,517.13 L623.09,520.77 L623.72,524.19 L624.35,527.36 L624.98,530.27 L625.61,532.92 L626.25,535.32 L626.88,537.48 L627.51,539.40 L628.14,541.11 L628.77,542.62 L629.40,543.95 L630.03,545.12 L630.67,546.14 L631.30,547.04 L631.93,547.83 L632.56,548.52 L633.19,549.12 L633.82,549.66 L634.45,550.14 L635.09,550.56 L635.72,550.94 L636.35,551.29 L636.98,551.60 L637.61,551.88 L638.24,552.14 L638.88,552.38 L639.51,552.59 L640.14,552.80 L640.77,552.99 L641.40,553.16 L642.03,553.33 L642.66,553.48 L643.30,553.62 L643.93,553.76 L644.56,553.89 L645.19,554.01 L645.82,554.12 L646.45,554.23 L647.08,554.33 L647.72,554.42 L648.35,554.52 L648.98,554.60 L649.61,554.68 L650.24,554.76 L650.87,554.84 L651.51,554.91 L652.14,554.98 L652.77,555.04 L653.40,555.10 L654.03,555.16 L654.66,555.22 L655.29,555.27 L655.93,555.32 L656.56,555.37 L657.19,555.42 L657.82,555.46 L658.45,555.51 L659.08,555.55 L659.71,555.59 L660.35,555.63 L660.98,555.67 L661.61,555.70 L662.24,555.74 L662.87,555.77 L663.50,555.80 L664.13,555.84 L664.77,555.87 L665.40,555.89 L666.03,555.92 L666.66,555.95 L667.29,555.98 L667.92,556.00 L668.56,556.03 L669.19,556.05 L669.82,556.07 L670.45,556.10 L671.08,556.12 L671.71,556.14 L672.34,556.16 L672.98,556.18 L673.61,556.20 L674.24,556.22 L674.87,556.24 L675.50,556.26 L676.13,556.27 L676.76,556.29 L677.40,556.31 L678.03,556.32 L678.66,556.34 L679.29,556.35 L679.92,556.37 L680.55,556.38 L681.19,556.40 L681.82,556.41 L682.45,556.43 L683.08,556.44 L683.71,556.45 L684.34,556.46 L684.97,556.48 L685.61,556.49 L686.24,556.50 L686.87,556.51 L687.50,556.52 L688.13,556.53 L688.76,556.54 L689.40,556.56 L690.03,556.57 L690.66,556.58 L691.29,556.59 L691.92,556.60 L692.55,556.60 L693.18,556.61 L693.82,556.62 L694.45,556.63 L695.08,556.64 L695.71,556.65 L696.34,556.66 L696.97,556.67 L697.60,556.67 L698.24,556.68 L698.87,556.69 L699.50,556.70 L700.13,556.70 L700.76,556.71 L701.39,556.72 L702.02,556.73 L702.66,556.73 L703.29,556.74 L703.92,556.75 L704.55,556.75 L705.18,556.76 L705.81,556.77 L706.45,556.77 L707.08,556.78 L707.71,556.79 L708.34,556.79 L708.97,556.80 L709.60,556.80 L710.23,556.81 L710.87,556.81 L711.50,556.82 L712.13,556.83 L712.76,556.83 L713.39,556.84 L714.02,556.84 L714.66,556.85 L715.29,556.85 L715.92,556.86 L716.55,556.86 L717.18,556.87 L717.81,556.87 L718.44,556.88 L719.08,556.88 L719.71,556.89 L720.34,556.89 L720.97,556.89 L721.60,556.90 L722.23,556.90 L722.86,556.91 L723.50,556.91 L724.13,556.92 L724.76,556.92 L725.39,556.92 L726.02,556.93 L726.65,556.93 L727.29,556.94 L727.92,556.94 L728.55,556.94 L729.18,556.95 L729.81,556.95 L730.44,556.95 L731.07,556.96 L731.71,556.96 L732.34,556.97 L732.97,556.97 L733.60,556.97" fill="none" stroke="url(#gline)" stroke-width="2.1" stroke-linejoin="round"/>
<path d="M133.10,418.80 L140.90,423.78 L148.70,418.80 Q143.24,430.00 140.90,443.70 Q138.56,430.00 133.10,418.80Z" fill="#008000"/>
<path d="M174.45,310.80 L182.70,315.96 L190.95,310.80 Q185.17,322.41 182.70,336.60 Q180.22,322.41 174.45,310.80Z" fill="#8a00d4"/>
<line x1="102.10" y1="303.80" x2="733.60" y2="303.80" stroke="#111" stroke-width="1.6" />
<line x1="733.60" y1="303.80" x2="733.60" y2="557.50" stroke="#111" stroke-width="1.6" />
<line x1="102.00" y1="303.00" x2="102.00" y2="558.70" stroke="#1a1a1a" stroke-width="1.7" />
<line x1="101.20" y1="557.80" x2="734.40" y2="557.80" stroke="#1a1a1a" stroke-width="1.8" />
<line x1="102.10" y1="455.70" x2="108.00" y2="455.70" stroke="#222" stroke-width="1.6" />
<line x1="102.10" y1="353.90" x2="108.00" y2="353.90" stroke="#222" stroke-width="1.6" />
<line x1="165.25" y1="557.40" x2="165.25" y2="549.50" stroke="#222" stroke-width="1.3" />
<line x1="228.40" y1="557.40" x2="228.40" y2="549.50" stroke="#222" stroke-width="1.3" />
<line x1="291.55" y1="557.40" x2="291.55" y2="549.50" stroke="#222" stroke-width="1.3" />
<line x1="354.70" y1="557.40" x2="354.70" y2="549.50" stroke="#222" stroke-width="1.3" />
<line x1="417.85" y1="557.40" x2="417.85" y2="549.50" stroke="#222" stroke-width="1.3" />
<line x1="481.00" y1="557.40" x2="481.00" y2="549.50" stroke="#222" stroke-width="1.3" />
<line x1="544.15" y1="557.40" x2="544.15" y2="549.50" stroke="#222" stroke-width="1.3" />
<line x1="607.30" y1="557.40" x2="607.30" y2="549.50" stroke="#222" stroke-width="1.3" />
<line x1="670.45" y1="557.40" x2="670.45" y2="549.50" stroke="#222" stroke-width="1.3" />
<text x="58.52" y="360.00" font-size="30.42" font-weight="normal" font-style="normal" fill="#000" textLength="33.82" lengthAdjust="spacingAndGlyphs">10</text>
<text x="71.73" y="461.39" font-size="31.29" font-weight="normal" font-style="normal" fill="#000" textLength="16.28" lengthAdjust="spacingAndGlyphs">5</text>
<text x="70.94" y="561.81" font-size="29.15" font-weight="normal" font-style="normal" fill="#000" textLength="17.50" lengthAdjust="spacingAndGlyphs">0</text>
<text x="110.50" y="336.28" font-size="32.38" font-weight="bold" font-style="normal" fill="#000" textLength="21.65" lengthAdjust="spacingAndGlyphs">b</text>
<text transform="translate(38.90,546.10) rotate(-90)" x="0" y="0" font-size="33.48" font-weight="normal" font-style="normal" fill="#000" textLength="232.24" lengthAdjust="spacingAndGlyphs">Intensity (a.u.)</text>
<text x="97.00" y="584.51" font-size="29.30" font-weight="normal" font-style="normal" fill="#000" textLength="16.69" lengthAdjust="spacingAndGlyphs">0</text>
<text x="222.79" y="584.80" font-size="30.14" font-weight="normal" font-style="normal" fill="#000" textLength="16.37" lengthAdjust="spacingAndGlyphs">1</text>
<text x="348.44" y="584.80" font-size="29.71" font-weight="normal" font-style="normal" fill="#000" textLength="18.46" lengthAdjust="spacingAndGlyphs">2</text>
<text x="475.06" y="584.51" font-size="29.30" font-weight="normal" font-style="normal" fill="#000" textLength="17.21" lengthAdjust="spacingAndGlyphs">3</text>
<text x="601.50" y="584.80" font-size="30.14" font-weight="normal" font-style="normal" fill="#000" textLength="16.63" lengthAdjust="spacingAndGlyphs">4</text>
<text x="726.71" y="584.50" font-size="29.71" font-weight="normal" font-style="normal" fill="#000" textLength="17.91" lengthAdjust="spacingAndGlyphs">5</text>
<text x="266.10" y="623.50" font-size="34.06" font-weight="normal" font-style="normal" fill="#000" textLength="258.26" lengthAdjust="spacingAndGlyphs">Energy loss (eV)</text>
</g>
<g id="pd">
<path d="M855.70,554.82 L856.33,554.76 L856.97,554.70 L857.60,554.63 L858.24,554.57 L858.87,554.49 L859.50,554.42 L860.14,554.34 L860.77,554.26 L861.41,554.17 L862.04,554.08 L862.67,553.98 L863.31,553.88 L863.94,553.78 L864.58,553.67 L865.21,553.55 L865.84,553.42 L866.48,553.29 L867.11,553.15 L867.75,553.01 L868.38,552.85 L869.01,552.68 L869.65,552.51 L870.28,552.32 L870.92,552.12 L871.55,551.90 L872.18,551.67 L872.82,551.43 L873.45,551.16 L874.09,550.88 L874.72,550.57 L875.35,550.24 L875.99,549.88 L876.62,549.49 L877.26,549.07 L877.89,548.62 L878.52,548.12 L879.16,547.59 L879.79,547.01 L880.43,546.37 L881.06,545.68 L881.69,544.94 L882.33,544.12 L882.96,543.24 L883.60,542.28 L884.23,541.25 L884.86,540.13 L885.50,538.92 L886.13,537.63 L886.77,536.25 L887.40,534.78 L888.03,533.23 L888.67,531.62 L889.30,529.95 L889.94,528.26 L890.57,526.57 L891.20,524.92 L891.84,523.37 L892.47,521.96 L893.11,520.76 L893.74,519.81 L894.37,519.17 L895.01,518.86 L895.64,518.91 L896.28,519.30 L896.91,520.01 L897.54,521.01 L898.18,522.25 L898.81,523.66 L899.45,525.19 L900.08,526.80 L900.71,528.42 L901.35,530.04 L901.98,531.61 L902.62,533.13 L903.25,534.56 L903.88,535.91 L904.52,537.16 L905.15,538.32 L905.79,539.39 L906.42,540.35 L907.05,541.22 L907.69,541.99 L908.32,542.66 L908.96,543.24 L909.59,543.72 L910.22,544.10 L910.86,544.37 L911.49,544.53 L912.13,544.56 L912.76,544.48 L913.39,544.25 L914.03,543.88 L914.66,543.36 L915.30,542.67 L915.93,541.81 L916.56,540.77 L917.20,539.55 L917.83,538.16 L918.47,536.59 L919.10,534.85 L919.73,532.96 L920.37,530.94 L921.00,528.82 L921.64,526.63 L922.27,524.39 L922.90,522.17 L923.54,519.98 L924.17,517.89 L924.81,515.93 L925.44,514.14 L926.07,512.56 L926.71,511.22 L927.34,510.15 L927.98,509.36 L928.61,508.86 L929.24,508.63 L929.88,508.68 L930.51,508.96 L931.15,509.46 L931.78,510.12 L932.41,510.90 L933.05,511.74 L933.68,512.58 L934.32,513.36 L934.95,514.02 L935.58,514.49 L936.22,514.71 L936.85,514.63 L937.49,514.18 L938.12,513.32 L938.75,511.99 L939.39,510.17 L940.02,507.84 L940.66,504.98 L941.29,501.64 L941.92,497.87 L942.56,493.82 L943.19,489.67 L943.83,485.68 L944.46,482.18 L945.09,479.52 L945.73,477.99 L946.36,477.81 L947.00,479.03 L947.63,481.57 L948.26,485.18 L948.90,489.54 L949.53,494.35 L950.17,499.31 L950.80,504.19 L951.43,508.86 L952.07,513.21 L952.70,517.20 L953.34,520.82 L953.97,524.07 L954.60,526.99 L955.24,529.58 L955.87,531.90 L956.51,533.96 L957.14,535.80 L957.77,537.45 L958.41,538.91 L959.04,540.23 L959.68,541.41 L960.31,542.47 L960.94,543.43 L961.58,544.29 L962.21,545.08 L962.85,545.79 L963.48,546.44 L964.11,547.03 L964.75,547.57 L965.38,548.07 L966.02,548.52 L966.65,548.94 L967.28,549.33 L967.92,549.68 L968.55,550.01 L969.19,550.32 L969.82,550.60 L970.45,550.86 L971.09,551.11 L971.72,551.33 L972.36,551.55 L972.99,551.75 L973.62,551.93 L974.26,552.11 L974.89,552.27 L975.53,552.42 L976.16,552.57 L976.79,552.70 L977.43,552.83 L978.06,552.95 L978.70,553.06 L979.33,553.17 L979.96,553.27 L980.60,553.37 L981.23,553.46 L981.87,553.54 L982.50,553.63 L983.13,553.70 L983.77,553.77 L984.40,553.84 L985.04,553.91 L985.67,553.97 L986.30,554.03 L986.94,554.09 L987.57,554.14 L988.21,554.19 L988.84,554.24 L989.47,554.29 L990.11,554.33 L990.74,554.37 L991.38,554.41 L992.01,554.45 L992.64,554.48 L993.28,554.52 L993.91,554.55 L994.55,554.58 L995.18,554.61 L995.81,554.64 L996.45,554.66 L997.08,554.69 L997.72,554.71 L998.35,554.73 L998.98,554.75 L999.62,554.77 L1000.25,554.79 L1000.89,554.81 L1001.52,554.83 L1002.15,554.84 L1002.79,554.86 L1003.42,554.87 L1004.06,554.88 L1004.69,554.89 L1005.32,554.91 L1005.96,554.92 L1006.59,554.92 L1007.23,554.93 L1007.86,554.94 L1008.49,554.95 L1009.13,554.95 L1009.76,554.96 L1010.40,554.96 L1011.03,554.97 L1011.66,554.97 L1012.30,554.98 L1012.93,554.98 L1013.57,554.98 L1014.20,554.98 L1014.83,554.98 L1015.47,554.98 L1016.10,554.98 L1016.74,554.98 L1017.37,554.97 L1018.00,554.97 L1018.64,554.97 L1019.27,554.96 L1019.91,554.96 L1020.54,554.95 L1021.17,554.95 L1021.81,554.94 L1022.44,554.93 L1023.08,554.93 L1023.71,554.92 L1024.34,554.91 L1024.98,554.90 L1025.61,554.89 L1026.25,554.88 L1026.88,554.87 L1027.51,554.85 L1028.15,554.84 L1028.78,554.83 L1029.42,554.81 L1030.05,554.80 L1030.68,554.78 L1031.32,554.77 L1031.95,554.75 L1032.59,554.73 L1033.22,554.72 L1033.85,554.70 L1034.49,554.68 L1035.12,554.66 L1035.76,554.64 L1036.39,554.61 L1037.02,554.59 L1037.66,554.57 L1038.29,554.54 L1038.93,554.52 L1039.56,554.49 L1040.19,554.47 L1040.83,554.44 L1041.46,554.41 L1042.10,554.38 L1042.73,554.35 L1043.36,554.32 L1044.00,554.28 L1044.63,554.25 L1045.27,554.21 L1045.90,554.18 L1046.53,554.14 L1047.17,554.10 L1047.80,554.06 L1048.44,554.02 L1049.07,553.98 L1049.70,553.93 L1050.34,553.89 L1050.97,553.84 L1051.61,553.79 L1052.24,553.74 L1052.87,553.69 L1053.51,553.64 L1054.14,553.58 L1054.78,553.52 L1055.41,553.47 L1056.04,553.40 L1056.68,553.34 L1057.31,553.27 L1057.95,553.21 L1058.58,553.14 L1059.21,553.06 L1059.85,552.99 L1060.48,552.91 L1061.12,552.83 L1061.75,552.74 L1062.38,552.65 L1063.02,552.56 L1063.65,552.47 L1064.29,552.37 L1064.92,552.27 L1065.55,552.16 L1066.19,552.05 L1066.82,551.94 L1067.46,551.82 L1068.09,551.69 L1068.72,551.56 L1069.36,551.43 L1069.99,551.29 L1070.63,551.14 L1071.26,550.98 L1071.89,550.82 L1072.53,550.65 L1073.16,550.47 L1073.80,550.29 L1074.43,550.09 L1075.06,549.88 L1075.70,549.67 L1076.33,549.43 L1076.97,549.19 L1077.60,548.93 L1078.23,548.65 L1078.87,548.35 L1079.50,548.03 L1080.14,547.68 L1080.77,547.30 L1081.40,546.90 L1082.04,546.45 L1082.67,545.96 L1083.31,545.41 L1083.94,544.81 L1084.57,544.15 L1085.21,543.41 L1085.84,542.58 L1086.48,541.65 L1087.11,540.61 L1087.74,539.44 L1088.38,538.13 L1089.01,536.66 L1089.65,535.01 L1090.28,533.16 L1090.91,531.10 L1091.55,528.79 L1092.18,526.24 L1092.82,523.40 L1093.45,520.27 L1094.08,516.83 L1094.72,513.06 L1095.35,508.96 L1095.99,504.50 L1096.62,499.69 L1097.25,494.52 L1097.89,489.00 L1098.52,483.14 L1099.16,476.96 L1099.79,470.48 L1100.42,463.73 L1101.06,456.75 L1101.69,449.60 L1102.33,442.33 L1102.96,435.02 L1103.59,427.76 L1104.23,420.62 L1104.86,413.74 L1105.50,407.22 L1106.13,401.19 L1106.76,395.79 L1107.40,391.16 L1108.03,387.41 L1108.67,384.66 L1109.30,383.00 L1109.93,382.46 L1110.57,383.08 L1111.20,384.83 L1111.84,387.64 L1112.47,391.43 L1113.10,396.09 L1113.74,401.48 L1114.37,407.47 L1115.01,413.93 L1115.64,420.73 L1116.27,427.76 L1116.91,434.90 L1117.54,442.05 L1118.18,449.15 L1118.81,456.12 L1119.44,462.90 L1120.08,469.44 L1120.71,475.70 L1121.35,481.65 L1121.98,487.27 L1122.61,492.54 L1123.25,497.45 L1123.88,502.00 L1124.52,506.18 L1125.15,510.02 L1125.78,513.51 L1126.42,516.66 L1127.05,519.49 L1127.69,522.03 L1128.32,524.28 L1128.95,526.26 L1129.59,528.00 L1130.22,529.51 L1130.86,530.81 L1131.49,531.93 L1132.12,532.86 L1132.76,533.64 L1133.39,534.27 L1134.03,534.77 L1134.66,535.14 L1135.29,535.41 L1135.93,535.57 L1136.56,535.63 L1137.20,535.60 L1137.83,535.48 L1138.46,535.27 L1139.10,534.98 L1139.73,534.61 L1140.37,534.14 L1141.00,533.59 L1141.63,532.95 L1142.27,532.20 L1142.90,531.35 L1143.54,530.39 L1144.17,529.30 L1144.80,528.08 L1145.44,526.71 L1146.07,525.18 L1146.71,523.46 L1147.34,521.54 L1147.97,519.41 L1148.61,517.02 L1149.24,514.36 L1149.88,511.39 L1150.51,508.08 L1151.14,504.41 L1151.78,500.34 L1152.41,495.84 L1153.05,490.89 L1153.68,485.49 L1154.31,479.65 L1154.95,473.41 L1155.58,466.87 L1156.22,460.17 L1156.85,453.52 L1157.48,447.19 L1158.12,441.50 L1158.75,436.81 L1159.39,433.47 L1160.02,431.75 L1160.65,431.79 L1161.29,433.60 L1161.92,437.03 L1162.56,441.79 L1163.19,447.56 L1163.82,453.98 L1164.46,460.71 L1165.09,467.49 L1165.73,474.11 L1166.36,480.43 L1166.99,486.36 L1167.63,491.85 L1168.26,496.88 L1168.90,501.47 L1169.53,505.64 L1170.16,509.41 L1170.80,512.81 L1171.43,515.88 L1172.07,518.65 L1172.70,521.15 L1173.33,523.40 L1173.97,525.44 L1174.60,527.28 L1175.24,528.94 L1175.87,530.45 L1176.50,531.82 L1177.14,533.06 L1177.77,534.19 L1178.41,535.21 L1179.04,536.15 L1179.67,537.00 L1180.31,537.77 L1180.94,538.47 L1181.58,539.11 L1182.21,539.68 L1182.84,540.21 L1183.48,540.68 L1184.11,541.10 L1184.75,541.48 L1185.38,541.82 L1186.01,542.11 L1186.65,542.36 L1187.28,542.57 L1187.92,542.75 L1188.55,542.88 L1189.18,542.97 L1189.82,543.02 L1190.45,543.02 L1191.09,542.98 L1191.72,542.88 L1192.35,542.73 L1192.99,542.51 L1193.62,542.23 L1194.26,541.88 L1194.89,541.46 L1195.52,540.95 L1196.16,540.35 L1196.79,539.65 L1197.43,538.85 L1198.06,537.94 L1198.69,536.92 L1199.33,535.78 L1199.96,534.52 L1200.60,533.14 L1201.23,531.64 L1201.86,530.03 L1202.50,528.31 L1203.13,526.48 L1203.77,524.57 L1204.40,522.59 L1205.03,520.56 L1205.67,518.52 L1206.30,516.51 L1206.94,514.55 L1207.57,512.71 L1208.20,511.03 L1208.84,509.58 L1209.47,508.40 L1210.11,507.55 L1210.74,507.04 L1211.37,506.90 L1212.01,507.11 L1212.64,507.66 L1213.28,508.50 L1213.91,509.57 L1214.54,510.82 L1215.18,512.19 L1215.81,513.62 L1216.45,515.05 L1217.08,516.45 L1217.71,517.78 L1218.35,518.99 L1218.98,520.06 L1219.62,520.96 L1220.25,521.68 L1220.88,522.19 L1221.52,522.47 L1222.15,522.51 L1222.79,522.30 L1223.42,521.82 L1224.05,521.07 L1224.69,520.05 L1225.32,518.76 L1225.96,517.23 L1226.59,515.50 L1227.22,513.62 L1227.86,511.69 L1228.49,509.82 L1229.13,508.12 L1229.76,506.71 L1230.39,505.67 L1231.03,505.04 L1231.66,504.79 L1232.30,504.82 L1232.93,505.01 L1233.56,505.21 L1234.20,505.29 L1234.83,505.12 L1235.47,504.61 L1236.10,503.69 L1236.73,502.29 L1237.37,500.40 L1238.00,497.98 L1238.64,495.02 L1239.27,491.52 L1239.90,487.49 L1240.54,482.95 L1241.17,477.94 L1241.81,472.52 L1242.44,466.79 L1243.07,460.89 L1243.71,455.01 L1244.34,449.37 L1244.98,444.26 L1245.61,439.99 L1246.24,436.85 L1246.88,435.10 L1247.51,434.91 L1248.15,436.31 L1248.78,439.21 L1249.41,443.42 L1250.05,448.65 L1250.68,454.60 L1251.32,460.99 L1251.95,467.55 L1252.58,474.09 L1253.22,480.44 L1253.85,486.51 L1254.49,492.21 L1255.12,497.51 L1255.75,502.38 L1256.39,506.83 L1257.02,510.86 L1257.66,514.49 L1258.29,517.73 L1258.92,520.62 L1259.56,523.17 L1260.19,525.42 L1260.83,527.38 L1261.46,529.10 L1262.09,530.57 L1262.73,531.85 L1263.36,532.93 L1264.00,533.84 L1264.63,534.60 L1265.26,535.22 L1265.90,535.71 L1266.53,536.08 L1267.17,536.34 L1267.80,536.50 L1268.43,536.57 L1269.07,536.54 L1269.70,536.44 L1270.34,536.25 L1270.97,536.00 L1271.60,535.69 L1272.24,535.34 L1272.87,534.96 L1273.51,534.57 L1274.14,534.19 L1274.77,533.85 L1275.41,533.57 L1276.04,533.38 L1276.68,533.30 L1277.31,533.34 L1277.94,533.49 L1278.58,533.77 L1279.21,534.16 L1279.85,534.63 L1280.48,535.16 L1281.11,535.73 L1281.75,536.31 L1282.38,536.88 L1283.02,537.42 L1283.65,537.92 L1284.28,538.35 L1284.92,538.71 L1285.55,539.00 L1286.19,539.19 L1286.82,539.30 L1287.45,539.31 L1288.09,539.21 L1288.72,539.01 L1289.36,538.70 L1289.99,538.26 L1290.62,537.71 L1291.26,537.04 L1291.89,536.26 L1292.53,535.36 L1293.16,534.38 L1293.79,533.35 L1294.43,532.30 L1295.06,531.30 L1295.70,530.42 L1296.33,529.74 L1296.96,529.33 L1297.60,529.25 L1298.23,529.52 L1298.87,530.14 L1299.50,531.05 L1300.13,532.20 L1300.77,533.51 L1301.40,534.90 L1302.04,536.32 L1302.67,537.70 L1303.30,539.03 L1303.94,540.27 L1304.57,541.42 L1305.21,542.47 L1305.84,543.43 L1306.47,544.29 L1307.11,545.08 L1307.74,545.78 L1308.38,546.42 L1309.01,546.99 L1309.64,547.50 L1310.28,547.97 L1310.91,548.39 L1311.55,548.77 L1312.18,549.11 L1312.81,549.42 L1313.45,549.71 L1314.08,549.96 L1314.72,550.20 L1315.35,550.41 L1315.98,550.60 L1316.62,550.77 L1317.25,550.93 L1317.89,551.08 L1318.52,551.21 L1319.15,551.33 L1319.79,551.43 L1320.42,551.53 L1321.06,551.61 L1321.69,551.69 L1322.32,551.75 L1322.96,551.81 L1323.59,551.86 L1324.23,551.90 L1324.86,551.93 L1325.49,551.96 L1326.13,551.97 L1326.76,551.98 L1327.40,551.98 L1328.03,551.98 L1328.66,551.96 L1329.30,551.94 L1329.93,551.91 L1330.57,551.87 L1331.20,551.82 L1331.83,551.76 L1332.47,551.69 L1333.10,551.61 L1333.74,551.52 L1334.37,551.42 L1335.00,551.30 L1335.64,551.17 L1336.27,551.03 L1336.91,550.87 L1337.54,550.69 L1338.17,550.49 L1338.81,550.27 L1339.44,550.03 L1340.08,549.77 L1340.71,549.48 L1341.34,549.16 L1341.98,548.82 L1342.61,548.45 L1343.25,548.06 L1343.88,547.66 L1344.51,547.23 L1345.15,546.81 L1345.78,546.39 L1346.42,545.99 L1347.05,545.61 L1347.68,545.28 L1348.32,544.98 L1348.95,544.74 L1349.59,544.53 L1350.22,544.35 L1350.85,544.19 L1351.49,544.03 L1352.12,543.85 L1352.76,543.64 L1353.39,543.38 L1354.02,543.07 L1354.66,542.68 L1355.29,542.22 L1355.93,541.67 L1356.56,541.02 L1357.19,540.26 L1357.83,539.38 L1358.46,538.37 L1359.10,537.22 L1359.73,535.90 L1360.36,534.40 L1361.00,532.69 L1361.63,530.76 L1362.27,528.58 L1362.90,526.13 L1363.53,523.37 L1364.17,520.30 L1364.80,516.89 L1365.44,513.14 L1366.07,509.09 L1366.70,504.79 L1367.34,500.35 L1367.97,495.92 L1368.61,491.73 L1369.24,488.05 L1369.87,485.16 L1370.51,483.32 L1371.14,482.73 L1371.78,483.46 L1372.41,485.42 L1373.04,488.43 L1373.68,492.22 L1374.31,496.50 L1374.95,501.01 L1375.58,505.53 L1376.21,509.90 L1376.85,514.02 L1377.48,517.83 L1378.12,521.32 L1378.75,524.47 L1379.38,527.32 L1380.02,529.87 L1380.65,532.15 L1381.29,534.19 L1381.92,536.01 L1382.55,537.65 L1383.19,539.11 L1383.82,540.42 L1384.46,541.61 L1385.09,542.67 L1385.72,543.63 L1386.36,544.51 L1386.99,545.30 L1387.63,546.02 L1388.26,546.67 L1388.89,547.27 L1389.53,547.82 L1390.16,548.32 L1390.80,548.78 L1391.43,549.21 L1392.06,549.60 L1392.70,549.97 L1393.33,550.30 L1393.97,550.62 L1394.60,550.91 L1395.23,551.18 L1395.87,551.43 L1396.50,551.67 L1397.14,551.89 L1397.77,552.09 L1398.40,552.29 L1399.04,552.47 L1399.67,552.64 L1400.31,552.80 L1400.94,552.95 L1401.57,553.10 L1402.21,553.23 L1402.84,553.36 L1403.48,553.48 L1404.11,553.60 L1404.74,553.71 L1405.38,553.81 L1406.01,553.91 L1406.65,554.00 L1407.28,554.09 L1407.91,554.18 L1408.55,554.26 L1409.18,554.34 L1409.82,554.41 L1410.45,554.48 L1411.08,554.55 L1411.72,554.62 L1412.35,554.68 L1412.99,554.74 L1413.62,554.79 L1414.25,554.85 L1414.89,554.90 L1415.52,554.95 L1416.16,555.00 L1416.79,555.05 L1417.42,555.09 L1418.06,555.14 L1418.69,555.18 L1419.33,555.22 L1419.96,555.26 L1420.59,555.30 L1421.23,555.33 L1421.86,555.37 L1422.50,555.40 L1423.13,555.44 L1423.76,555.47 L1424.40,555.50 L1425.03,555.53 L1425.67,555.56 L1426.30,555.59 L1426.93,555.61 L1427.57,555.64 L1428.20,555.67 L1428.84,555.69 L1429.47,555.72 L1430.10,555.74 L1430.74,555.76 L1431.37,555.78 L1432.01,555.81 L1432.64,555.83 L1433.27,555.85 L1433.91,555.87 L1434.54,555.89 L1435.18,555.91 L1435.81,555.92 L1436.44,555.94 L1437.08,555.96 L1437.71,555.98 L1438.35,555.99 L1438.98,556.01 L1439.61,556.03 L1440.25,556.04 L1440.88,556.06 L1441.52,556.07 L1442.15,556.09 L1442.78,556.10 L1443.42,556.11 L1444.05,556.13 L1444.69,556.14 L1445.32,556.15 L1445.95,556.17 L1446.59,556.18 L1447.22,556.19 L1447.86,556.20 L1448.49,556.21 L1449.12,556.22 L1449.76,556.24 L1450.39,556.25 L1451.03,556.26 L1451.66,556.27 L1452.29,556.28 L1452.93,556.29 L1453.56,556.30 L1454.20,556.31 L1454.83,556.32 L1455.46,556.33 L1456.10,556.33 L1456.73,556.34 L1457.37,556.35 L1458.00,556.36 L1458.63,556.37 L1459.27,556.38 L1459.90,556.39 L1460.54,556.39 L1461.17,556.40 L1461.80,556.41 L1462.44,556.42 L1463.07,556.42 L1463.71,556.43 L1464.34,556.44 L1464.97,556.45 L1465.61,556.45 L1466.24,556.46 L1466.88,556.47 L1467.51,556.47 L1468.14,556.48 L1468.78,556.49 L1469.41,556.49 L1470.05,556.50 L1470.68,556.50 L1471.31,556.51 L1471.95,556.52 L1472.58,556.52 L1473.22,556.53 L1473.85,556.53 L1474.48,556.54 L1475.12,556.54 L1475.75,556.55 L1476.39,556.56 L1477.02,556.56 L1477.65,556.57 L1478.29,556.57 L1478.92,556.58 L1479.56,556.58 L1480.19,556.59 L1480.82,556.59 L1481.46,556.60 L1482.09,556.60 L1482.73,556.60 L1483.36,556.61 L1483.99,556.61 L1484.63,556.62 L1485.26,556.62 L1485.90,556.63 L1486.53,556.63 L1487.16,556.64 L1487.80,556.64 L1488.43,556.64 L1489.07,556.65 L1489.70,556.65" fill="none" stroke="#0000c8" stroke-width="2.4" stroke-linejoin="round"/>
<path d="M855.70,552.45 L856.33,552.32 L856.97,552.18 L857.60,552.04 L858.24,551.89 L858.87,551.74 L859.50,551.58 L860.14,551.41 L860.77,551.23 L861.41,551.04 L862.04,550.85 L862.67,550.64 L863.31,550.42 L863.94,550.19 L864.58,549.95 L865.21,549.70 L865.84,549.43 L866.48,549.15 L867.11,548.85 L867.75,548.53 L868.38,548.20 L869.01,547.84 L869.65,547.46 L870.28,547.06 L870.92,546.63 L871.55,546.17 L872.18,545.69 L872.82,545.17 L873.45,544.61 L874.09,544.01 L874.72,543.37 L875.35,542.68 L875.99,541.94 L876.62,541.15 L877.26,540.29 L877.89,539.36 L878.52,538.36 L879.16,537.28 L879.79,536.11 L880.43,534.84 L881.06,533.47 L881.69,531.98 L882.33,530.36 L882.96,528.60 L883.60,526.70 L884.23,524.64 L884.86,522.41 L885.50,520.01 L886.13,517.44 L886.77,514.68 L887.40,511.76 L888.03,508.67 L888.67,505.46 L889.30,502.16 L889.94,498.82 L890.57,495.53 L891.20,492.36 L891.84,489.42 L892.47,486.82 L893.11,484.69 L893.74,483.12 L894.37,482.19 L895.01,481.95 L895.64,482.42 L896.28,483.55 L896.91,485.28 L897.54,487.51 L898.18,490.13 L898.81,493.04 L899.45,496.11 L900.08,499.25 L900.71,502.38 L901.35,505.45 L901.98,508.39 L902.62,511.18 L903.25,513.80 L903.88,516.24 L904.52,518.50 L905.15,520.57 L905.79,522.47 L906.42,524.20 L907.05,525.76 L907.69,527.18 L908.32,528.45 L908.96,529.60 L909.59,530.61 L910.22,531.52 L910.86,532.31 L911.49,533.00 L912.13,533.59 L912.76,534.09 L913.39,534.49 L914.03,534.79 L914.66,534.99 L915.30,535.07 L915.93,535.02 L916.56,534.81 L917.20,534.40 L917.83,533.76 L918.47,532.83 L919.10,531.55 L919.73,529.85 L920.37,527.65 L921.00,524.90 L921.64,521.55 L922.27,517.56 L922.90,512.93 L923.54,507.72 L924.17,502.00 L924.81,495.92 L925.44,489.67 L926.07,483.48 L926.71,477.63 L927.34,472.40 L927.98,468.08 L928.61,464.89 L929.24,462.96 L929.88,462.27 L930.51,462.69 L931.15,463.94 L931.78,465.72 L932.41,467.70 L933.05,469.56 L933.68,471.01 L934.32,471.83 L934.95,471.84 L935.58,470.90 L936.22,468.95 L936.85,465.97 L937.49,462.00 L938.12,457.11 L938.75,451.43 L939.39,445.11 L940.02,438.36 L940.66,431.44 L941.29,424.64 L941.92,418.30 L942.56,412.78 L943.19,408.43 L943.83,405.55 L944.46,404.37 L945.09,405.00 L945.73,407.41 L946.36,411.45 L947.00,416.87 L947.63,423.35 L948.26,430.58 L948.90,438.25 L949.53,446.09 L950.17,453.89 L950.80,461.48 L951.43,468.75 L952.07,475.63 L952.70,482.07 L953.34,488.06 L953.97,493.58 L954.60,498.65 L955.24,503.29 L955.87,507.52 L956.51,511.36 L957.14,514.85 L957.77,518.01 L958.41,520.86 L959.04,523.45 L959.68,525.78 L960.31,527.89 L960.94,529.80 L961.58,531.53 L962.21,533.09 L962.85,534.52 L963.48,535.81 L964.11,537.00 L964.75,538.08 L965.38,539.07 L966.02,539.98 L966.65,540.83 L967.28,541.60 L967.92,542.32 L968.55,542.99 L969.19,543.61 L969.82,544.19 L970.45,544.73 L971.09,545.24 L971.72,545.72 L972.36,546.16 L972.99,546.58 L973.62,546.98 L974.26,547.35 L974.89,547.70 L975.53,548.03 L976.16,548.35 L976.79,548.65 L977.43,548.93 L978.06,549.20 L978.70,549.45 L979.33,549.69 L979.96,549.92 L980.60,550.14 L981.23,550.35 L981.87,550.55 L982.50,550.74 L983.13,550.92 L983.77,551.09 L984.40,551.26 L985.04,551.42 L985.67,551.57 L986.30,551.72 L986.94,551.85 L987.57,551.99 L988.21,552.12 L988.84,552.24 L989.47,552.36 L990.11,552.47 L990.74,552.58 L991.38,552.68 L992.01,552.78 L992.64,552.88 L993.28,552.98 L993.91,553.07 L994.55,553.15 L995.18,553.24 L995.81,553.32 L996.45,553.39 L997.08,553.47 L997.72,553.54 L998.35,553.61 L998.98,553.68 L999.62,553.75 L1000.25,553.81 L1000.89,553.87 L1001.52,553.93 L1002.15,553.99 L1002.79,554.04 L1003.42,554.10 L1004.06,554.15 L1004.69,554.20 L1005.32,554.25 L1005.96,554.29 L1006.59,554.34 L1007.23,554.38 L1007.86,554.43 L1008.49,554.47 L1009.13,554.51 L1009.76,554.55 L1010.40,554.59 L1011.03,554.62 L1011.66,554.66 L1012.30,554.69 L1012.93,554.73 L1013.57,554.76 L1014.20,554.79 L1014.83,554.82 L1015.47,554.85 L1016.10,554.88 L1016.74,554.91 L1017.37,554.94 L1018.00,554.96 L1018.64,554.99 L1019.27,555.01 L1019.91,555.04 L1020.54,555.06 L1021.17,555.08 L1021.81,555.10 L1022.44,555.13 L1023.08,555.15 L1023.71,555.17 L1024.34,555.18 L1024.98,555.20 L1025.61,555.22 L1026.25,555.24 L1026.88,555.25 L1027.51,555.27 L1028.15,555.29 L1028.78,555.30 L1029.42,555.32 L1030.05,555.33 L1030.68,555.34 L1031.32,555.36 L1031.95,555.37 L1032.59,555.38 L1033.22,555.39 L1033.85,555.40 L1034.49,555.41 L1035.12,555.42 L1035.76,555.43 L1036.39,555.44 L1037.02,555.45 L1037.66,555.46 L1038.29,555.46 L1038.93,555.47 L1039.56,555.47 L1040.19,555.48 L1040.83,555.49 L1041.46,555.49 L1042.10,555.49 L1042.73,555.50 L1043.36,555.50 L1044.00,555.50 L1044.63,555.51 L1045.27,555.51 L1045.90,555.51 L1046.53,555.51 L1047.17,555.51 L1047.80,555.51 L1048.44,555.51 L1049.07,555.50 L1049.70,555.50 L1050.34,555.50 L1050.97,555.49 L1051.61,555.49 L1052.24,555.49 L1052.87,555.48 L1053.51,555.47 L1054.14,555.47 L1054.78,555.46 L1055.41,555.45 L1056.04,555.44 L1056.68,555.43 L1057.31,555.42 L1057.95,555.40 L1058.58,555.39 L1059.21,555.38 L1059.85,555.36 L1060.48,555.35 L1061.12,555.33 L1061.75,555.31 L1062.38,555.29 L1063.02,555.27 L1063.65,555.25 L1064.29,555.22 L1064.92,555.20 L1065.55,555.17 L1066.19,555.14 L1066.82,555.11 L1067.46,555.08 L1068.09,555.04 L1068.72,555.00 L1069.36,554.97 L1069.99,554.92 L1070.63,554.88 L1071.26,554.83 L1071.89,554.78 L1072.53,554.73 L1073.16,554.67 L1073.80,554.61 L1074.43,554.55 L1075.06,554.48 L1075.70,554.40 L1076.33,554.33 L1076.97,554.24 L1077.60,554.15 L1078.23,554.06 L1078.87,553.95 L1079.50,553.84 L1080.14,553.73 L1080.77,553.60 L1081.40,553.46 L1082.04,553.31 L1082.67,553.15 L1083.31,552.98 L1083.94,552.79 L1084.57,552.58 L1085.21,552.36 L1085.84,552.12 L1086.48,551.85 L1087.11,551.57 L1087.74,551.25 L1088.38,550.90 L1089.01,550.52 L1089.65,550.10 L1090.28,549.63 L1090.91,549.11 L1091.55,548.54 L1092.18,547.91 L1092.82,547.20 L1093.45,546.41 L1094.08,545.54 L1094.72,544.56 L1095.35,543.46 L1095.99,542.25 L1096.62,540.90 L1097.25,539.41 L1097.89,537.77 L1098.52,535.99 L1099.16,534.08 L1099.79,532.07 L1100.42,530.02 L1101.06,527.99 L1101.69,526.09 L1102.33,524.44 L1102.96,523.15 L1103.59,522.34 L1104.23,522.09 L1104.86,522.42 L1105.50,523.30 L1106.13,524.64 L1106.76,526.33 L1107.40,528.25 L1108.03,530.27 L1108.67,532.31 L1109.30,534.30 L1109.93,536.18 L1110.57,537.93 L1111.20,539.53 L1111.84,540.99 L1112.47,542.31 L1113.10,543.49 L1113.74,544.55 L1114.37,545.50 L1115.01,546.35 L1115.64,547.12 L1116.27,547.80 L1116.91,548.41 L1117.54,548.96 L1118.18,549.45 L1118.81,549.90 L1119.44,550.30 L1120.08,550.66 L1120.71,550.99 L1121.35,551.29 L1121.98,551.56 L1122.61,551.80 L1123.25,552.02 L1123.88,552.22 L1124.52,552.41 L1125.15,552.58 L1125.78,552.73 L1126.42,552.87 L1127.05,552.99 L1127.69,553.11 L1128.32,553.21 L1128.95,553.31 L1129.59,553.39 L1130.22,553.47 L1130.86,553.54 L1131.49,553.60 L1132.12,553.66 L1132.76,553.71 L1133.39,553.75 L1134.03,553.79 L1134.66,553.83 L1135.29,553.85 L1135.93,553.88 L1136.56,553.89 L1137.20,553.91 L1137.83,553.92 L1138.46,553.92 L1139.10,553.93 L1139.73,553.92 L1140.37,553.92 L1141.00,553.91 L1141.63,553.89 L1142.27,553.88 L1142.90,553.86 L1143.54,553.83 L1144.17,553.80 L1144.80,553.77 L1145.44,553.74 L1146.07,553.70 L1146.71,553.66 L1147.34,553.62 L1147.97,553.57 L1148.61,553.52 L1149.24,553.47 L1149.88,553.42 L1150.51,553.36 L1151.14,553.30 L1151.78,553.24 L1152.41,553.17 L1153.05,553.11 L1153.68,553.04 L1154.31,552.97 L1154.95,552.90 L1155.58,552.83 L1156.22,552.76 L1156.85,552.69 L1157.48,552.62 L1158.12,552.56 L1158.75,552.49 L1159.39,552.42 L1160.02,552.36 L1160.65,552.30 L1161.29,552.25 L1161.92,552.20 L1162.56,552.15 L1163.19,552.11 L1163.82,552.07 L1164.46,552.04 L1165.09,552.02 L1165.73,552.01 L1166.36,552.00 L1166.99,552.00 L1167.63,552.00 L1168.26,552.02 L1168.90,552.04 L1169.53,552.07 L1170.16,552.10 L1170.80,552.15 L1171.43,552.19 L1172.07,552.25 L1172.70,552.31 L1173.33,552.37 L1173.97,552.44 L1174.60,552.52 L1175.24,552.59 L1175.87,552.67 L1176.50,552.76 L1177.14,552.84 L1177.77,552.93 L1178.41,553.01 L1179.04,553.10 L1179.67,553.19 L1180.31,553.28 L1180.94,553.36 L1181.58,553.45 L1182.21,553.53 L1182.84,553.62 L1183.48,553.70 L1184.11,553.78 L1184.75,553.86 L1185.38,553.94 L1186.01,554.01 L1186.65,554.08 L1187.28,554.15 L1187.92,554.22 L1188.55,554.29 L1189.18,554.35 L1189.82,554.42 L1190.45,554.48 L1191.09,554.53 L1191.72,554.59 L1192.35,554.64 L1192.99,554.70 L1193.62,554.74 L1194.26,554.79 L1194.89,554.84 L1195.52,554.88 L1196.16,554.92 L1196.79,554.96 L1197.43,555.00 L1198.06,555.03 L1198.69,555.07 L1199.33,555.10 L1199.96,555.13 L1200.60,555.16 L1201.23,555.19 L1201.86,555.21 L1202.50,555.24 L1203.13,555.26 L1203.77,555.28 L1204.40,555.30 L1205.03,555.31 L1205.67,555.33 L1206.30,555.34 L1206.94,555.35 L1207.57,555.36 L1208.20,555.37 L1208.84,555.38 L1209.47,555.38 L1210.11,555.38 L1210.74,555.38 L1211.37,555.38 L1212.01,555.38 L1212.64,555.37 L1213.28,555.36 L1213.91,555.35 L1214.54,555.33 L1215.18,555.31 L1215.81,555.29 L1216.45,555.27 L1217.08,555.24 L1217.71,555.21 L1218.35,555.17 L1218.98,555.13 L1219.62,555.08 L1220.25,555.02 L1220.88,554.96 L1221.52,554.89 L1222.15,554.81 L1222.79,554.73 L1223.42,554.63 L1224.05,554.52 L1224.69,554.40 L1225.32,554.27 L1225.96,554.12 L1226.59,553.96 L1227.22,553.78 L1227.86,553.58 L1228.49,553.36 L1229.13,553.12 L1229.76,552.87 L1230.39,552.61 L1231.03,552.33 L1231.66,552.06 L1232.30,551.80 L1232.93,551.55 L1233.56,551.34 L1234.20,551.18 L1234.83,551.08 L1235.47,551.04 L1236.10,551.07 L1236.73,551.17 L1237.37,551.33 L1238.00,551.54 L1238.64,551.78 L1239.27,552.04 L1239.90,552.31 L1240.54,552.58 L1241.17,552.83 L1241.81,553.08 L1242.44,553.31 L1243.07,553.52 L1243.71,553.72 L1244.34,553.89 L1244.98,554.05 L1245.61,554.19 L1246.24,554.32 L1246.88,554.43 L1247.51,554.53 L1248.15,554.61 L1248.78,554.69 L1249.41,554.75 L1250.05,554.81 L1250.68,554.86 L1251.32,554.90 L1251.95,554.93 L1252.58,554.96 L1253.22,554.98 L1253.85,554.99 L1254.49,555.00 L1255.12,555.00 L1255.75,554.99 L1256.39,554.99 L1257.02,554.97 L1257.66,554.95 L1258.29,554.93 L1258.92,554.89 L1259.56,554.86 L1260.19,554.82 L1260.83,554.77 L1261.46,554.71 L1262.09,554.65 L1262.73,554.59 L1263.36,554.51 L1264.00,554.43 L1264.63,554.35 L1265.26,554.25 L1265.90,554.15 L1266.53,554.03 L1267.17,553.91 L1267.80,553.78 L1268.43,553.65 L1269.07,553.50 L1269.70,553.34 L1270.34,553.18 L1270.97,553.00 L1271.60,552.82 L1272.24,552.63 L1272.87,552.44 L1273.51,552.25 L1274.14,552.06 L1274.77,551.86 L1275.41,551.68 L1276.04,551.51 L1276.68,551.35 L1277.31,551.21 L1277.94,551.09 L1278.58,551.01 L1279.21,550.95 L1279.85,550.92 L1280.48,550.93 L1281.11,550.97 L1281.75,551.05 L1282.38,551.15 L1283.02,551.28 L1283.65,551.43 L1284.28,551.60 L1284.92,551.79 L1285.55,551.99 L1286.19,552.19 L1286.82,552.39 L1287.45,552.60 L1288.09,552.80 L1288.72,552.99 L1289.36,553.18 L1289.99,553.37 L1290.62,553.54 L1291.26,553.71 L1291.89,553.87 L1292.53,554.02 L1293.16,554.16 L1293.79,554.29 L1294.43,554.42 L1295.06,554.54 L1295.70,554.65 L1296.33,554.75 L1296.96,554.85 L1297.60,554.94 L1298.23,555.02 L1298.87,555.10 L1299.50,555.17 L1300.13,555.24 L1300.77,555.31 L1301.40,555.37 L1302.04,555.43 L1302.67,555.48 L1303.30,555.53 L1303.94,555.58 L1304.57,555.62 L1305.21,555.66 L1305.84,555.70 L1306.47,555.74 L1307.11,555.77 L1307.74,555.80 L1308.38,555.83 L1309.01,555.86 L1309.64,555.89 L1310.28,555.91 L1310.91,555.94 L1311.55,555.96 L1312.18,555.98 L1312.81,556.00 L1313.45,556.01 L1314.08,556.03 L1314.72,556.04 L1315.35,556.06 L1315.98,556.07 L1316.62,556.08 L1317.25,556.09 L1317.89,556.10 L1318.52,556.11 L1319.15,556.12 L1319.79,556.13 L1320.42,556.13 L1321.06,556.14 L1321.69,556.14 L1322.32,556.15 L1322.96,556.15 L1323.59,556.15 L1324.23,556.15 L1324.86,556.15 L1325.49,556.15 L1326.13,556.15 L1326.76,556.15 L1327.40,556.15 L1328.03,556.14 L1328.66,556.14 L1329.30,556.13 L1329.93,556.13 L1330.57,556.12 L1331.20,556.11 L1331.83,556.10 L1332.47,556.10 L1333.10,556.09 L1333.74,556.07 L1334.37,556.06 L1335.00,556.05 L1335.64,556.03 L1336.27,556.02 L1336.91,556.00 L1337.54,555.98 L1338.17,555.96 L1338.81,555.94 L1339.44,555.92 L1340.08,555.90 L1340.71,555.88 L1341.34,555.85 L1341.98,555.82 L1342.61,555.79 L1343.25,555.76 L1343.88,555.73 L1344.51,555.69 L1345.15,555.65 L1345.78,555.61 L1346.42,555.57 L1347.05,555.53 L1347.68,555.48 L1348.32,555.43 L1348.95,555.38 L1349.59,555.32 L1350.22,555.26 L1350.85,555.20 L1351.49,555.13 L1352.12,555.06 L1352.76,554.98 L1353.39,554.90 L1354.02,554.82 L1354.66,554.73 L1355.29,554.63 L1355.93,554.53 L1356.56,554.43 L1357.19,554.32 L1357.83,554.20 L1358.46,554.07 L1359.10,553.94 L1359.73,553.81 L1360.36,553.67 L1361.00,553.52 L1361.63,553.37 L1362.27,553.21 L1362.90,553.04 L1363.53,552.88 L1364.17,552.71 L1364.80,552.54 L1365.44,552.36 L1366.07,552.19 L1366.70,552.03 L1367.34,551.87 L1367.97,551.72 L1368.61,551.58 L1369.24,551.45 L1369.87,551.34 L1370.51,551.25 L1371.14,551.18 L1371.78,551.13 L1372.41,551.10 L1373.04,551.10 L1373.68,551.13 L1374.31,551.18 L1374.95,551.25 L1375.58,551.34 L1376.21,551.45 L1376.85,551.58 L1377.48,551.72 L1378.12,551.87 L1378.75,552.03 L1379.38,552.20 L1380.02,552.37 L1380.65,552.55 L1381.29,552.72 L1381.92,552.90 L1382.55,553.07 L1383.19,553.24 L1383.82,553.40 L1384.46,553.56 L1385.09,553.71 L1385.72,553.86 L1386.36,554.00 L1386.99,554.14 L1387.63,554.27 L1388.26,554.39 L1388.89,554.51 L1389.53,554.62 L1390.16,554.72 L1390.80,554.82 L1391.43,554.92 L1392.06,555.01 L1392.70,555.09 L1393.33,555.18 L1393.97,555.25 L1394.60,555.32 L1395.23,555.39 L1395.87,555.46 L1396.50,555.52 L1397.14,555.58 L1397.77,555.64 L1398.40,555.69 L1399.04,555.74 L1399.67,555.79 L1400.31,555.83 L1400.94,555.88 L1401.57,555.92 L1402.21,555.96 L1402.84,556.00 L1403.48,556.03 L1404.11,556.07 L1404.74,556.10 L1405.38,556.13 L1406.01,556.16 L1406.65,556.19 L1407.28,556.22 L1407.91,556.24 L1408.55,556.27 L1409.18,556.29 L1409.82,556.31 L1410.45,556.34 L1411.08,556.36 L1411.72,556.38 L1412.35,556.40 L1412.99,556.42 L1413.62,556.43 L1414.25,556.45 L1414.89,556.47 L1415.52,556.48 L1416.16,556.50 L1416.79,556.51 L1417.42,556.53 L1418.06,556.54 L1418.69,556.56 L1419.33,556.57 L1419.96,556.58 L1420.59,556.59 L1421.23,556.61 L1421.86,556.62 L1422.50,556.63 L1423.13,556.64 L1423.76,556.65 L1424.40,556.66 L1425.03,556.67 L1425.67,556.68 L1426.30,556.69 L1426.93,556.70 L1427.57,556.70 L1428.20,556.71 L1428.84,556.72 L1429.47,556.73 L1430.10,556.74 L1430.74,556.74 L1431.37,556.75 L1432.01,556.76 L1432.64,556.76 L1433.27,556.77 L1433.91,556.78 L1434.54,556.78 L1435.18,556.79 L1435.81,556.79 L1436.44,556.80 L1437.08,556.81 L1437.71,556.81 L1438.35,556.82 L1438.98,556.82 L1439.61,556.83 L1440.25,556.83 L1440.88,556.84 L1441.52,556.84 L1442.15,556.85 L1442.78,556.85 L1443.42,556.85 L1444.05,556.86 L1444.69,556.86 L1445.32,556.87 L1445.95,556.87 L1446.59,556.87 L1447.22,556.88 L1447.86,556.88 L1448.49,556.89 L1449.12,556.89 L1449.76,556.89 L1450.39,556.90 L1451.03,556.90 L1451.66,556.90 L1452.29,556.91 L1452.93,556.91 L1453.56,556.91 L1454.20,556.92 L1454.83,556.92 L1455.46,556.92 L1456.10,556.92 L1456.73,556.93 L1457.37,556.93 L1458.00,556.93 L1458.63,556.94 L1459.27,556.94 L1459.90,556.94 L1460.54,556.94 L1461.17,556.95 L1461.80,556.95 L1462.44,556.95 L1463.07,556.95 L1463.71,556.95 L1464.34,556.96 L1464.97,556.96 L1465.61,556.96 L1466.24,556.96 L1466.88,556.97 L1467.51,556.97 L1468.14,556.97 L1468.78,556.97 L1469.41,556.97 L1470.05,556.98 L1470.68,556.98 L1471.31,556.98 L1471.95,556.98 L1472.58,556.98 L1473.22,556.98 L1473.85,556.99 L1474.48,556.99 L1475.12,556.99 L1475.75,556.99 L1476.39,556.99 L1477.02,556.99 L1477.65,557.00 L1478.29,557.00 L1478.92,557.00 L1479.56,557.00 L1480.19,557.00 L1480.82,557.00 L1481.46,557.01 L1482.09,557.01 L1482.73,557.01 L1483.36,557.01 L1483.99,557.01 L1484.63,557.01 L1485.26,557.01 L1485.90,557.01 L1486.53,557.02 L1487.16,557.02 L1487.80,557.02 L1488.43,557.02 L1489.07,557.02 L1489.70,557.02" fill="none" stroke="#c00000" stroke-width="2.4" stroke-linejoin="round"/>
<rect x="855.7" y="379.8" width="634.1" height="177.1" fill="none" stroke="#000" stroke-width="2"/>
<line x1="855.70" y1="512.80" x2="861.50" y2="512.80" stroke="#000" stroke-width="1.6" />
<line x1="855.70" y1="468.40" x2="861.50" y2="468.40" stroke="#000" stroke-width="1.6" />
<line x1="855.70" y1="424.00" x2="861.50" y2="424.00" stroke="#000" stroke-width="1.6" />
<line x1="919.10" y1="556.90" x2="919.10" y2="550.90" stroke="#000" stroke-width="1.6" />
<line x1="982.50" y1="556.90" x2="982.50" y2="550.90" stroke="#000" stroke-width="1.6" />
<line x1="1045.90" y1="556.90" x2="1045.90" y2="550.90" stroke="#000" stroke-width="1.6" />
<line x1="1109.30" y1="556.90" x2="1109.30" y2="550.90" stroke="#000" stroke-width="1.6" />
<line x1="1172.70" y1="556.90" x2="1172.70" y2="550.90" stroke="#000" stroke-width="1.6" />
<line x1="1236.10" y1="556.90" x2="1236.10" y2="550.90" stroke="#000" stroke-width="1.6" />
<line x1="1299.50" y1="556.90" x2="1299.50" y2="550.90" stroke="#000" stroke-width="1.6" />
<line x1="1362.90" y1="556.90" x2="1362.90" y2="550.90" stroke="#000" stroke-width="1.6" />
<line x1="1426.30" y1="556.90" x2="1426.30" y2="550.90" stroke="#000" stroke-width="1.6" />
<text x="814.20" y="389.24" font-size="26.06" font-weight="normal" font-style="normal" fill="#000" textLength="37.04" lengthAdjust="spacingAndGlyphs">80</text>
<text x="815.05" y="475.94" font-size="26.20" font-weight="normal" font-style="normal" fill="#000" textLength="36.16" lengthAdjust="spacingAndGlyphs">40</text>
<text x="828.83" y="560.54" font-size="26.20" font-weight="normal" font-style="normal" fill="#000" textLength="19.12" lengthAdjust="spacingAndGlyphs">0</text>
<text x="867.96" y="411.27" font-size="32.79" font-weight="bold" font-style="normal" fill="#000" textLength="22.02" lengthAdjust="spacingAndGlyphs">d</text>
<text transform="translate(805.40,579.00) rotate(-90)" x="0" y="0" font-size="33.62" font-weight="normal" font-style="normal" fill="#000" textLength="232.03" lengthAdjust="spacingAndGlyphs">Intensity (a.u.)</text>
<text x="851.86" y="584.51" font-size="29.30" font-weight="normal" font-style="normal" fill="#000" textLength="17.26" lengthAdjust="spacingAndGlyphs">0</text>
<text x="978.34" y="584.80" font-size="30.14" font-weight="normal" font-style="normal" fill="#000" textLength="16.75" lengthAdjust="spacingAndGlyphs">1</text>
<text x="1104.16" y="584.80" font-size="29.71" font-weight="normal" font-style="normal" fill="#000" textLength="17.11" lengthAdjust="spacingAndGlyphs">2</text>
<text x="1229.74" y="584.51" font-size="29.30" font-weight="normal" font-style="normal" fill="#000" textLength="17.56" lengthAdjust="spacingAndGlyphs">3</text>
<text x="1356.81" y="584.80" font-size="30.14" font-weight="normal" font-style="normal" fill="#000" textLength="16.41" lengthAdjust="spacingAndGlyphs">4</text>
<text x="1482.50" y="584.50" font-size="29.71" font-weight="normal" font-style="normal" fill="#000" textLength="16.74" lengthAdjust="spacingAndGlyphs">5</text>
<text x="1084.07" y="623.60" font-size="34.20" font-weight="normal" font-style="normal" fill="#000" textLength="188.68" lengthAdjust="spacingAndGlyphs">Energy (eV)</text>
<line x1="1334.30" y1="403.70" x2="1377.50" y2="403.70" stroke="#0000c8" stroke-width="2.2" />
<line x1="1334.30" y1="437.90" x2="1377.50" y2="437.90" stroke="#c00000" stroke-width="2.2" />
</g>
<g id="pc">
<line x1="876.30" y1="146.00" x2="876.30" y2="310.30" stroke="#000" stroke-width="2.0" />
<path d="M876.3,128.7 L884.6,147.6 L876.3,145.0 L868.0,147.6Z" fill="#000"/>
<path d="M876.3,190.2 L906.3,190.2 L924.3,176.7 M906.3,190.2 L924.3,205.0" fill="none" stroke="#000" stroke-width="1.9" stroke-linejoin="miter"/>
<path d="M876.3,285.0 L906.3,285.0 L924.3,271.0 M906.3,285.0 L924.3,299.0" fill="none" stroke="#000" stroke-width="1.9" stroke-linejoin="miter"/>
<line x1="930.90" y1="181.50" x2="971.80" y2="181.50" stroke="#000" stroke-width="3.2"/>
<line x1="981.00" y1="181.60" x2="1022.20" y2="181.60" stroke="#000" stroke-width="3.2"/>
<line x1="956.00" y1="209.40" x2="997.00" y2="209.40" stroke="#000" stroke-width="3.2"/>
<line x1="956.00" y1="271.40" x2="997.00" y2="271.40" stroke="#000" stroke-width="3.2"/>
<line x1="956.00" y1="299.30" x2="997.00" y2="299.30" stroke="#000" stroke-width="3.2"/>
<line x1="951.30" y1="175.88" x2="951.30" y2="190.70" stroke="#6b6bff" stroke-width="2.2"/>
<path d="M951.30,169.40 L956.00,180.20 L951.30,177.50 L946.60,180.20Z" fill="#6b6bff"/>
<line x1="1001.60" y1="175.98" x2="1001.60" y2="190.80" stroke="#6b6bff" stroke-width="2.2"/>
<path d="M1001.60,169.50 L1006.30,180.30 L1001.60,177.60 L996.90,180.30Z" fill="#6b6bff"/>
<line x1="976.30" y1="203.78" x2="976.30" y2="218.60" stroke="#6b6bff" stroke-width="2.2"/>
<path d="M976.30,197.30 L981.00,208.10 L976.30,205.40 L971.60,208.10Z" fill="#6b6bff"/>
<line x1="976.30" y1="265.78" x2="976.30" y2="280.60" stroke="#6b6bff" stroke-width="2.2"/>
<path d="M976.30,259.30 L981.00,270.10 L976.30,267.40 L971.60,270.10Z" fill="#6b6bff"/>
<line x1="966.50" y1="303.00" x2="966.50" y2="309.40" stroke="#1a00f0" stroke-width="2.3"/>
<path d="M966.50,284.50 Q968.25,296.49 973.50,306.30 L966.50,303.00 L959.50,306.30 Q964.75,296.49 966.50,284.50Z" fill="#1a00f0"/>
<line x1="986.60" y1="290.20" x2="986.60" y2="297.30" stroke="#1a00f0" stroke-width="2.3"/>
<path d="M986.60,315.50 Q988.27,303.68 993.30,294.00 L986.60,297.30 L979.90,294.00 Q984.93,303.68 986.60,315.50Z" fill="#1a00f0"/>
<text x="783.43" y="50.77" font-size="32.73" font-weight="bold" font-style="normal" fill="#000" textLength="19.04" lengthAdjust="spacingAndGlyphs">c</text>
<text x="867.97" y="76.44" font-size="26.12" font-weight="normal" font-style="normal" fill="#000" textLength="132.68" lengthAdjust="spacingAndGlyphs">initial state</text>
<text x="791.64" y="125.24" font-size="25.07" font-weight="normal" font-style="normal" fill="#000" textLength="81.30" lengthAdjust="spacingAndGlyphs">energy</text>
<text x="842.55" y="196.56" font-size="23.94" font-weight="normal" font-style="italic" fill="#000" textLength="8.95" lengthAdjust="spacingAndGlyphs">t</text>
<text x="850.10" y="206.07" font-size="18.24" font-weight="normal" font-style="italic" fill="#000" textLength="21.14" lengthAdjust="spacingAndGlyphs">2g</text>
<text x="845.65" y="290.83" font-size="26.91" font-weight="normal" font-style="italic" fill="#000" textLength="15.02" lengthAdjust="spacingAndGlyphs">e</text>
<text x="859.70" y="294.80" font-size="20.00" font-weight="normal" font-style="italic" fill="#000" textLength="12.45" lengthAdjust="spacingAndGlyphs">g</text>
<text x="1033.41" y="186.06" font-size="19.73" font-weight="normal" font-style="italic" fill="#000" textLength="50.17" lengthAdjust="spacingAndGlyphs">yz,xz</text>
<text x="1033.06" y="212.30" font-size="19.05" font-weight="normal" font-style="italic" fill="#000" textLength="21.47" lengthAdjust="spacingAndGlyphs">xy</text>
<text x="1032.30" y="277.80" font-size="22.08" font-weight="normal" font-style="italic" fill="#000" textLength="10.20" lengthAdjust="spacingAndGlyphs">z</text>
<text x="1042.68" y="269.40" font-size="11.86" font-weight="normal" font-style="normal" fill="#000" textLength="6.85" lengthAdjust="spacingAndGlyphs">2</text>
<text x="1032.92" y="307.80" font-size="22.26" font-weight="normal" font-style="italic" fill="#000" textLength="8.95" lengthAdjust="spacingAndGlyphs">x</text>
<text x="1042.38" y="298.90" font-size="11.86" font-weight="normal" font-style="normal" fill="#000" textLength="6.85" lengthAdjust="spacingAndGlyphs">2</text>
<text x="1048.93" y="309.15" font-size="30.00" font-weight="normal" font-style="normal" fill="#000" textLength="7.20" lengthAdjust="spacingAndGlyphs">-</text>
<text x="1056.65" y="307.46" font-size="21.62" font-weight="normal" font-style="italic" fill="#000" textLength="9.59" lengthAdjust="spacingAndGlyphs">y</text>
<text x="1067.96" y="298.90" font-size="11.86" font-weight="normal" font-style="normal" fill="#000" textLength="7.09" lengthAdjust="spacingAndGlyphs">2</text>
<rect x="1154.2" y="36.2" width="89.8" height="147.1" fill="#f7fff7" stroke="#008000" stroke-width="2.1"/>
<rect x="1254.0" y="36.2" width="192.7" height="147.1" fill="#fdf2fd" stroke="#8800cc" stroke-width="2.0"/>
<rect x="1154.2" y="199.7" width="89.8" height="147.3" fill="#f7fff7" stroke="#008000" stroke-width="2.1"/>
<rect x="1254.0" y="199.7" width="192.7" height="147.3" fill="#fdf2fd" stroke="#8800cc" stroke-width="2.0"/>
<line x1="1161.10" y1="55.60" x2="1194.70" y2="55.60" stroke="#000" stroke-width="3.2"/>
<line x1="1201.70" y1="55.60" x2="1235.10" y2="55.60" stroke="#000" stroke-width="3.2"/>
<line x1="1181.20" y1="82.60" x2="1214.80" y2="82.60" stroke="#000" stroke-width="3.2"/>
<line x1="1181.20" y1="138.70" x2="1214.80" y2="138.70" stroke="#000" stroke-width="3.2"/>
<line x1="1181.20" y1="164.80" x2="1214.80" y2="164.80" stroke="#000" stroke-width="3.2"/>
<line x1="1177.90" y1="49.20" x2="1177.90" y2="63.10" stroke="#6b6bff" stroke-width="2.3"/>
<path d="M1177.90,42.90 L1181.90,53.40 L1177.90,50.78 L1173.90,53.40Z" fill="#6b6bff"/>
<line x1="1218.40" y1="49.20" x2="1218.40" y2="63.10" stroke="#6b6bff" stroke-width="2.3"/>
<path d="M1218.40,42.90 L1222.40,53.40 L1218.40,50.78 L1214.40,53.40Z" fill="#6b6bff"/>
<line x1="1198.00" y1="76.20" x2="1198.00" y2="90.10" stroke="#6b6bff" stroke-width="2.3"/>
<path d="M1198.00,69.90 L1202.00,80.40 L1198.00,77.77 L1194.00,80.40Z" fill="#6b6bff"/>
<line x1="1189.80" y1="132.30" x2="1189.80" y2="146.20" stroke="#6b6bff" stroke-width="2.3"/>
<path d="M1189.80,126.00 L1193.80,136.50 L1189.80,133.88 L1185.80,136.50Z" fill="#6b6bff"/>
<line x1="1206.00" y1="126.00" x2="1206.00" y2="133.70" stroke="#ff0000" stroke-width="2.3"/>
<path d="M1206.00,150.50 Q1207.62,139.39 1212.50,130.30 L1206.00,133.70 L1199.50,130.30 Q1204.38,139.39 1206.00,150.50Z" fill="#ff0000"/>
<line x1="1198.00" y1="168.20" x2="1198.00" y2="175.10" stroke="#1a00f0" stroke-width="2.3"/>
<path d="M1198.00,151.00 Q1199.62,162.33 1204.50,171.60 L1198.00,168.20 L1191.50,171.60 Q1196.38,162.33 1198.00,151.00Z" fill="#1a00f0"/>
<line x1="1262.90" y1="55.60" x2="1296.50" y2="55.60" stroke="#000" stroke-width="3.2"/>
<line x1="1303.50" y1="55.60" x2="1336.90" y2="55.60" stroke="#000" stroke-width="3.2"/>
<line x1="1283.00" y1="82.60" x2="1316.60" y2="82.60" stroke="#000" stroke-width="3.2"/>
<line x1="1283.00" y1="138.70" x2="1316.60" y2="138.70" stroke="#000" stroke-width="3.2"/>
<line x1="1283.00" y1="164.80" x2="1316.60" y2="164.80" stroke="#000" stroke-width="3.2"/>
<line x1="1279.70" y1="49.20" x2="1279.70" y2="63.10" stroke="#6b6bff" stroke-width="2.3"/>
<path d="M1279.70,42.90 L1283.70,53.40 L1279.70,50.78 L1275.70,53.40Z" fill="#6b6bff"/>
<line x1="1320.20" y1="49.20" x2="1320.20" y2="63.10" stroke="#6b6bff" stroke-width="2.3"/>
<path d="M1320.20,42.90 L1324.20,53.40 L1320.20,50.78 L1316.20,53.40Z" fill="#6b6bff"/>
<line x1="1291.60" y1="76.20" x2="1291.60" y2="90.10" stroke="#6b6bff" stroke-width="2.3"/>
<path d="M1291.60,69.90 L1295.60,80.40 L1291.60,77.77 L1287.60,80.40Z" fill="#6b6bff"/>
<line x1="1307.80" y1="69.90" x2="1307.80" y2="77.60" stroke="#ff0000" stroke-width="2.3"/>
<path d="M1307.80,94.40 Q1309.43,83.29 1314.30,74.20 L1307.80,77.60 L1301.30,74.20 Q1306.18,83.29 1307.80,94.40Z" fill="#ff0000"/>
<line x1="1299.80" y1="132.30" x2="1299.80" y2="146.20" stroke="#6b6bff" stroke-width="2.3"/>
<path d="M1299.80,126.00 L1303.80,136.50 L1299.80,133.88 L1295.80,136.50Z" fill="#6b6bff"/>
<line x1="1299.80" y1="168.20" x2="1299.80" y2="175.10" stroke="#1a00f0" stroke-width="2.3"/>
<path d="M1299.80,151.00 Q1301.43,162.33 1306.30,171.60 L1299.80,168.20 L1293.30,171.60 Q1298.18,162.33 1299.80,151.00Z" fill="#1a00f0"/>
<line x1="1364.00" y1="55.60" x2="1397.60" y2="55.60" stroke="#000" stroke-width="3.2"/>
<line x1="1404.60" y1="55.60" x2="1438.00" y2="55.60" stroke="#000" stroke-width="3.2"/>
<line x1="1384.10" y1="82.60" x2="1417.70" y2="82.60" stroke="#000" stroke-width="3.2"/>
<line x1="1384.10" y1="138.70" x2="1417.70" y2="138.70" stroke="#000" stroke-width="3.2"/>
<line x1="1384.10" y1="164.80" x2="1417.70" y2="164.80" stroke="#000" stroke-width="3.2"/>
<line x1="1380.80" y1="49.20" x2="1380.80" y2="63.10" stroke="#6b6bff" stroke-width="2.3"/>
<path d="M1380.80,42.90 L1384.80,53.40 L1380.80,50.78 L1376.80,53.40Z" fill="#6b6bff"/>
<line x1="1413.10" y1="49.20" x2="1413.10" y2="63.10" stroke="#6b6bff" stroke-width="2.3"/>
<path d="M1413.10,42.90 L1417.10,53.40 L1413.10,50.78 L1409.10,53.40Z" fill="#6b6bff"/>
<line x1="1429.30" y1="42.90" x2="1429.30" y2="50.60" stroke="#ff0000" stroke-width="2.3"/>
<path d="M1429.30,67.40 Q1430.92,56.29 1435.80,47.20 L1429.30,50.60 L1422.80,47.20 Q1427.67,56.29 1429.30,67.40Z" fill="#ff0000"/>
<line x1="1400.90" y1="76.20" x2="1400.90" y2="90.10" stroke="#6b6bff" stroke-width="2.3"/>
<path d="M1400.90,69.90 L1404.90,80.40 L1400.90,77.77 L1396.90,80.40Z" fill="#6b6bff"/>
<line x1="1400.90" y1="132.30" x2="1400.90" y2="146.20" stroke="#6b6bff" stroke-width="2.3"/>
<path d="M1400.90,126.00 L1404.90,136.50 L1400.90,133.88 L1396.90,136.50Z" fill="#6b6bff"/>
<line x1="1400.90" y1="168.20" x2="1400.90" y2="175.10" stroke="#1a00f0" stroke-width="2.3"/>
<path d="M1400.90,151.00 Q1402.53,162.33 1407.40,171.60 L1400.90,168.20 L1394.40,171.60 Q1399.28,162.33 1400.90,151.00Z" fill="#1a00f0"/>
<line x1="1161.10" y1="219.10" x2="1194.70" y2="219.10" stroke="#000" stroke-width="3.2"/>
<line x1="1201.70" y1="219.10" x2="1235.10" y2="219.10" stroke="#000" stroke-width="3.2"/>
<line x1="1181.20" y1="246.10" x2="1214.80" y2="246.10" stroke="#000" stroke-width="3.2"/>
<line x1="1181.20" y1="302.20" x2="1214.80" y2="302.20" stroke="#000" stroke-width="3.2"/>
<line x1="1181.20" y1="328.30" x2="1214.80" y2="328.30" stroke="#000" stroke-width="3.2"/>
<line x1="1177.90" y1="212.70" x2="1177.90" y2="226.60" stroke="#6b6bff" stroke-width="2.3"/>
<path d="M1177.90,206.40 L1181.90,216.90 L1177.90,214.28 L1173.90,216.90Z" fill="#6b6bff"/>
<line x1="1218.40" y1="212.70" x2="1218.40" y2="226.60" stroke="#6b6bff" stroke-width="2.3"/>
<path d="M1218.40,206.40 L1222.40,216.90 L1218.40,214.28 L1214.40,216.90Z" fill="#6b6bff"/>
<line x1="1198.00" y1="239.70" x2="1198.00" y2="253.60" stroke="#6b6bff" stroke-width="2.3"/>
<path d="M1198.00,233.40 L1202.00,243.90 L1198.00,241.28 L1194.00,243.90Z" fill="#6b6bff"/>
<line x1="1189.80" y1="295.80" x2="1189.80" y2="309.70" stroke="#6b6bff" stroke-width="2.3"/>
<path d="M1189.80,289.50 L1193.80,300.00 L1189.80,297.38 L1185.80,300.00Z" fill="#6b6bff"/>
<line x1="1206.00" y1="289.50" x2="1206.00" y2="297.20" stroke="#ff0000" stroke-width="2.3"/>
<path d="M1206.00,314.00 Q1207.62,302.89 1212.50,293.80 L1206.00,297.20 L1199.50,293.80 Q1204.38,302.89 1206.00,314.00Z" fill="#ff0000"/>
<line x1="1198.00" y1="318.80" x2="1198.00" y2="326.50" stroke="#1a00f0" stroke-width="2.3"/>
<path d="M1198.00,342.30 Q1199.62,331.74 1204.50,323.10 L1198.00,326.50 L1191.50,323.10 Q1196.38,331.74 1198.00,342.30Z" fill="#1a00f0"/>
<line x1="1262.90" y1="219.10" x2="1296.50" y2="219.10" stroke="#000" stroke-width="3.2"/>
<line x1="1303.50" y1="219.10" x2="1336.90" y2="219.10" stroke="#000" stroke-width="3.2"/>
<line x1="1283.00" y1="246.10" x2="1316.60" y2="246.10" stroke="#000" stroke-width="3.2"/>
<line x1="1283.00" y1="302.20" x2="1316.60" y2="302.20" stroke="#000" stroke-width="3.2"/>
<line x1="1283.00" y1="328.30" x2="1316.60" y2="328.30" stroke="#000" stroke-width="3.2"/>
<line x1="1279.70" y1="212.70" x2="1279.70" y2="226.60" stroke="#6b6bff" stroke-width="2.3"/>
<path d="M1279.70,206.40 L1283.70,216.90 L1279.70,214.28 L1275.70,216.90Z" fill="#6b6bff"/>
<line x1="1320.20" y1="212.70" x2="1320.20" y2="226.60" stroke="#6b6bff" stroke-width="2.3"/>
<path d="M1320.20,206.40 L1324.20,216.90 L1320.20,214.28 L1316.20,216.90Z" fill="#6b6bff"/>
<line x1="1291.60" y1="239.70" x2="1291.60" y2="253.60" stroke="#6b6bff" stroke-width="2.3"/>
<path d="M1291.60,233.40 L1295.60,243.90 L1291.60,241.28 L1287.60,243.90Z" fill="#6b6bff"/>
<line x1="1307.80" y1="233.40" x2="1307.80" y2="241.10" stroke="#ff0000" stroke-width="2.3"/>
<path d="M1307.80,257.90 Q1309.43,246.79 1314.30,237.70 L1307.80,241.10 L1301.30,237.70 Q1306.18,246.79 1307.80,257.90Z" fill="#ff0000"/>
<line x1="1299.80" y1="295.80" x2="1299.80" y2="309.70" stroke="#6b6bff" stroke-width="2.3"/>
<path d="M1299.80,289.50 L1303.80,300.00 L1299.80,297.38 L1295.80,300.00Z" fill="#6b6bff"/>
<line x1="1299.80" y1="318.80" x2="1299.80" y2="326.50" stroke="#1a00f0" stroke-width="2.3"/>
<path d="M1299.80,342.30 Q1301.43,331.74 1306.30,323.10 L1299.80,326.50 L1293.30,323.10 Q1298.18,331.74 1299.80,342.30Z" fill="#1a00f0"/>
<line x1="1364.00" y1="219.10" x2="1397.60" y2="219.10" stroke="#000" stroke-width="3.2"/>
<line x1="1404.60" y1="219.10" x2="1438.00" y2="219.10" stroke="#000" stroke-width="3.2"/>
<line x1="1384.10" y1="246.10" x2="1417.70" y2="246.10" stroke="#000" stroke-width="3.2"/>
<line x1="1384.10" y1="302.20" x2="1417.70" y2="302.20" stroke="#000" stroke-width="3.2"/>
<line x1="1384.10" y1="328.30" x2="1417.70" y2="328.30" stroke="#000" stroke-width="3.2"/>
<line x1="1380.80" y1="212.70" x2="1380.80" y2="226.60" stroke="#6b6bff" stroke-width="2.3"/>
<path d="M1380.80,206.40 L1384.80,216.90 L1380.80,214.28 L1376.80,216.90Z" fill="#6b6bff"/>
<line x1="1413.10" y1="212.70" x2="1413.10" y2="226.60" stroke="#6b6bff" stroke-width="2.3"/>
<path d="M1413.10,206.40 L1417.10,216.90 L1413.10,214.28 L1409.10,216.90Z" fill="#6b6bff"/>
<line x1="1429.30" y1="206.40" x2="1429.30" y2="214.10" stroke="#ff0000" stroke-width="2.3"/>
<path d="M1429.30,230.90 Q1430.92,219.79 1435.80,210.70 L1429.30,214.10 L1422.80,210.70 Q1427.67,219.79 1429.30,230.90Z" fill="#ff0000"/>
<line x1="1400.90" y1="239.70" x2="1400.90" y2="253.60" stroke="#6b6bff" stroke-width="2.3"/>
<path d="M1400.90,233.40 L1404.90,243.90 L1400.90,241.28 L1396.90,243.90Z" fill="#6b6bff"/>
<line x1="1400.90" y1="295.80" x2="1400.90" y2="309.70" stroke="#6b6bff" stroke-width="2.3"/>
<path d="M1400.90,289.50 L1404.90,300.00 L1400.90,297.38 L1396.90,300.00Z" fill="#6b6bff"/>
<line x1="1400.90" y1="318.80" x2="1400.90" y2="326.50" stroke="#1a00f0" stroke-width="2.3"/>
<path d="M1400.90,342.30 Q1402.53,331.74 1407.40,323.10 L1400.90,326.50 L1394.40,323.10 Q1399.28,331.74 1400.90,342.30Z" fill="#1a00f0"/>
<text x="1168.49" y="20.43" font-size="26.67" font-weight="normal" font-style="normal" fill="#000" textLength="117.05" lengthAdjust="spacingAndGlyphs">final state</text>
<text transform="translate(1476.72,182.34) rotate(-90)" x="0" y="0" font-size="26.10" font-weight="normal" font-style="normal" fill="#000" textLength="145.67" lengthAdjust="spacingAndGlyphs">non-spin-flip</text>
<text transform="translate(1476.72,323.01) rotate(-90)" x="0" y="0" font-size="26.10" font-weight="normal" font-style="normal" fill="#000" textLength="93.53" lengthAdjust="spacingAndGlyphs">spin-flip</text>
</g>
<text x="1381.33" y="410.44" font-size="25.92" font-weight="normal" font-style="italic" fill="#000" textLength="12.70" lengthAdjust="spacingAndGlyphs">S</text>
<text x="1394.39" y="409.49" font-size="25.78" font-weight="normal" font-style="normal" fill="#000" textLength="7.29" lengthAdjust="spacingAndGlyphs">(</text>
<text x="1402.69" y="409.75" font-size="24.53" font-weight="bold" font-style="italic" fill="#000" textLength="14.49" lengthAdjust="spacingAndGlyphs">q</text>
<text x="1417.55" y="409.81" font-size="22.46" font-weight="normal" font-style="normal" fill="#000" textLength="13.49" lengthAdjust="spacingAndGlyphs">=</text>
<text x="1430.88" y="410.44" font-size="25.92" font-weight="normal" font-style="normal" fill="#000" textLength="12.86" lengthAdjust="spacingAndGlyphs">0</text>
<text x="1443.36" y="410.38" font-size="29.36" font-weight="normal" font-style="normal" fill="#000" textLength="10.00" lengthAdjust="spacingAndGlyphs">,</text>
<text x="1451.71" y="410.80" style="font-family:&quot;Liberation Serif&quot;,serif" font-size="29.58" font-weight="normal" font-style="normal" fill="#000" textLength="19.63" lengthAdjust="spacingAndGlyphs">ω</text>
<text x="1471.99" y="409.49" font-size="25.78" font-weight="normal" font-style="normal" fill="#000" textLength="7.16" lengthAdjust="spacingAndGlyphs">)</text>
<text x="1381.79" y="448.55" font-size="25.49" font-weight="normal" font-style="italic" fill="#000" textLength="18.47" lengthAdjust="spacingAndGlyphs">O</text>
<text x="1400.19" y="447.79" font-size="25.78" font-weight="normal" font-style="normal" fill="#000" textLength="7.29" lengthAdjust="spacingAndGlyphs">(</text>
<text x="1408.49" y="448.05" font-size="24.53" font-weight="bold" font-style="italic" fill="#000" textLength="14.49" lengthAdjust="spacingAndGlyphs">q</text>
<text x="1423.35" y="448.11" font-size="22.46" font-weight="normal" font-style="normal" fill="#000" textLength="13.49" lengthAdjust="spacingAndGlyphs">=</text>
<text x="1436.67" y="448.74" font-size="25.92" font-weight="normal" font-style="normal" fill="#000" textLength="12.86" lengthAdjust="spacingAndGlyphs">0</text>
<text x="1449.16" y="448.68" font-size="29.36" font-weight="normal" font-style="normal" fill="#000" textLength="10.00" lengthAdjust="spacingAndGlyphs">,</text>
<text x="1457.51" y="449.10" style="font-family:&quot;Liberation Serif&quot;,serif" font-size="29.58" font-weight="normal" font-style="normal" fill="#000" textLength="19.63" lengthAdjust="spacingAndGlyphs">ω</text>
<text x="1477.79" y="447.79" font-size="25.78" font-weight="normal" font-style="normal" fill="#000" textLength="7.16" lengthAdjust="spacingAndGlyphs">)</text>
</svg></body></html>
